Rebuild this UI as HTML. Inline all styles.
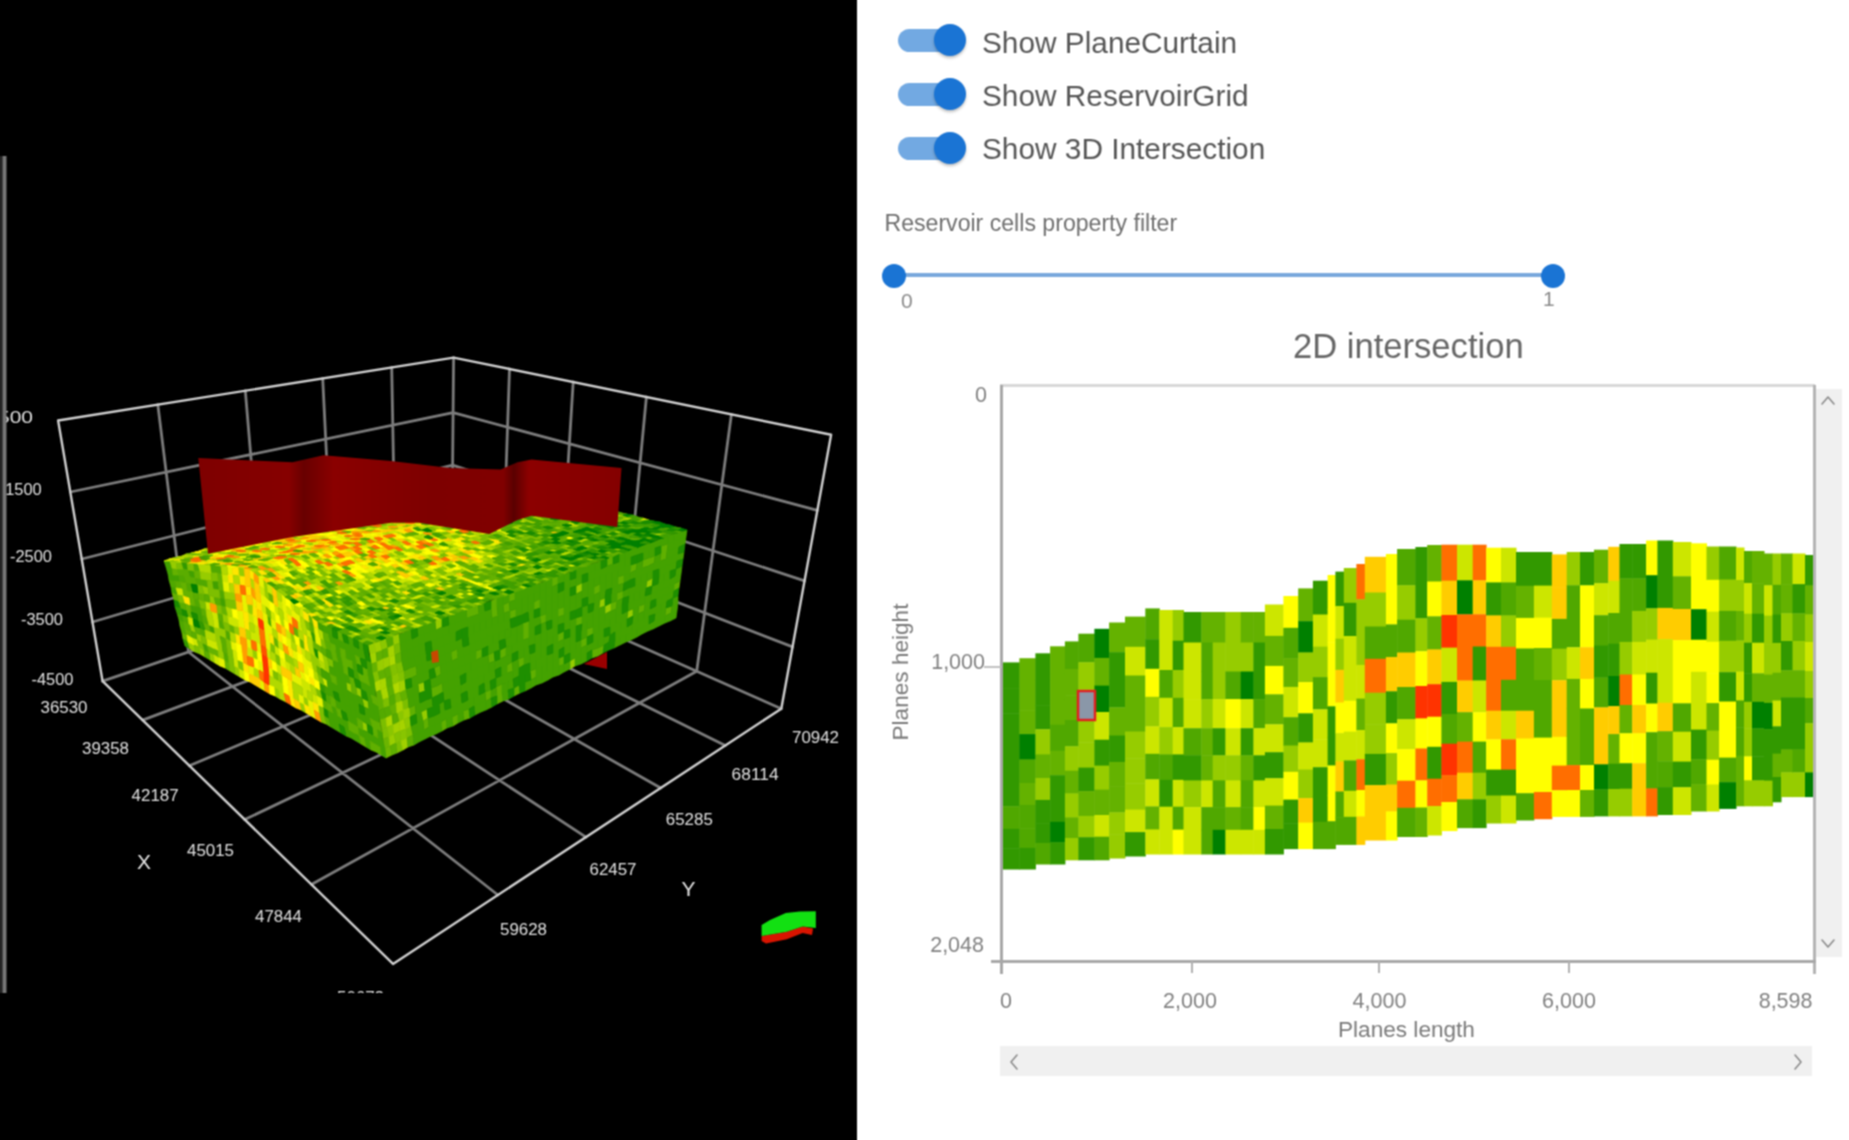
<!DOCTYPE html>
<html><head><meta charset="utf-8"><style>
*{margin:0;padding:0;box-sizing:border-box}
html,body{width:1849px;height:1140px;overflow:hidden;background:#fff;font-family:"Liberation Sans",Arial,sans-serif}
#p3d{position:absolute;left:0;top:0}
.l3{font-family:"Liberation Sans",sans-serif;font-size:17px;fill:#e2e2e2}
.ax3{font-family:"Liberation Sans",sans-serif;font-size:21px;fill:#e6e6e6}
.abs{position:absolute;white-space:nowrap}
.track{position:absolute;left:898px;width:58px;height:23px;border-radius:12px;background:#72a9e2}
.thumb{position:absolute;left:934px;width:32px;height:32px;border-radius:50%;background:#1a74d4;box-shadow:0 2px 3px rgba(0,0,0,.25)}
.tl{position:absolute;left:982px;font-size:29.8px;color:#555;line-height:1}
.sth{position:absolute;width:24px;height:24px;border-radius:50%;background:#1a74d4}
.tick{position:absolute;font-size:21.5px;color:#808080;line-height:1}
#wrap{position:absolute;left:0;top:0;width:1849px;height:1140px;background:#fff;filter:url(#cb)}
</style></head><body><svg width="0" height="0" style="position:absolute;left:0;top:0"><filter id="cb" x="0" y="0" width="100%" height="100%" color-interpolation-filters="sRGB"><feConvolveMatrix order="3" kernelMatrix="1 2 1 2 4 2 1 2 1" divisor="16" edgeMode="duplicate"/></filter></svg><div id="wrap">
<svg id="p3d" width="857" height="1140" viewBox="0 0 857 1140"><rect width="857" height="1140" fill="#000"/><rect x="0" y="156" width="2.5" height="837" fill="#232323"/><defs><clipPath id="cv"><rect x="6" y="156" width="851" height="837"/></clipPath><linearGradient id="cur" x1="198" y1="0" x2="622" y2="0" gradientUnits="userSpaceOnUse"><stop offset="0" stop-color="#7e0000"/><stop offset="0.215" stop-color="#860000"/><stop offset="0.25" stop-color="#680000"/><stop offset="0.32" stop-color="#8a0000"/><stop offset="0.55" stop-color="#7e0000"/><stop offset="0.72" stop-color="#800000"/><stop offset="0.745" stop-color="#5a0000"/><stop offset="0.78" stop-color="#8c0000"/><stop offset="1" stop-color="#840000"/></linearGradient></defs><g clip-path="url(#cv)"><path d="M188.5,652L157.8,404.6M502.2,585.2L509.5,369M142.6,720.1L502.2,585.2M188.5,652L497.9,895M265.1,626.1L245.3,390.7M559,610.3L573.2,382M189.3,765.7L559,610.3M265.1,626.1L585.9,837.2M333.8,602.8L322.7,378.4M623.3,638.8L646.4,397M244.7,819.6L623.3,638.8M333.8,602.8L660.7,788M395.7,581.8L391.7,367.4M696.7,671.3L731.4,414.4M311.4,884.4L696.7,671.3M395.7,581.8L725.2,745.6M451.7,562.8L453.6,357.6M102.6,681.2L451.7,562.8M451.7,562.8L781.3,708.7M92.5,622L452.2,515.1M452.2,515.1L792.6,646.9M81.8,559L452.6,465.1M452.6,465.1L804.6,580.9M70.3,492L453.1,412.6M453.1,412.6L817.4,510.4" stroke="#7c7c7c" stroke-width="2.8" fill="none" stroke-linecap="round"/><path d="M58.1,420.5L453.6,357.6M453.6,357.6L831.1,434.8M102.6,681.2L58.1,420.5M781.3,708.7L831.1,434.8M102.6,681.2L393,963.9M393,963.9L781.3,708.7" stroke="#d0d0d0" stroke-width="2.4" fill="none" stroke-linecap="round" stroke-linejoin="round"/><path fill="#96cc00" stroke="#96cc00" stroke-width="0.7" d="M368 645L374 643L376 652L370 654ZM418 684L424 682L425 691L419 693ZM421 712L427 709L428 718L423 721ZM435 621L442 618L442 627L436 630ZM570 661L575 658L575 666L570 669ZM576 586L582 583L582 591L576 594ZM600 600L605 598L605 606L599 608ZM605 606L611 603L611 611L605 614ZM628 611L633 609L633 616L627 619ZM647 581L653 578L652 586L646 588Z"/><path fill="#a1d200" stroke="#a1d200" stroke-width="0.7" d="M370 654L376 652L377 662L371 664Z"/><path fill="#64b200" stroke="#64b200" stroke-width="0.7" d="M371 664L377 662L378 671L372 673Z"/><path fill="#82c200" stroke="#82c200" stroke-width="0.7" d="M372 673L378 671L380 680L374 683ZM398 673L404 671L405 680L399 682Z"/><path fill="#b0d800" stroke="#b0d800" stroke-width="0.7" d="M374 683L380 680L381 690L376 692Z"/><path fill="#60b000" stroke="#60b000" stroke-width="0.7" d="M376 692L381 690L383 699L377 702ZM377 702L383 699L384 708L378 711ZM376 652L382 650L383 659L377 662ZM378 671L384 669L386 678L380 680ZM404 671L410 668L411 678L405 680ZM409 708L415 705L416 714L410 717ZM410 668L416 666L417 675L411 678ZM423 721L428 718L429 727L424 730ZM431 688L437 686L438 695L432 698ZM434 668L440 665L441 674L436 677ZM437 686L442 683L443 692L438 695ZM441 722L446 719L447 728L442 731ZM452 717L458 714L458 723L453 726ZM451 652L457 649L458 658L452 661ZM463 711L469 709L470 718L464 720ZM466 609L472 607L473 616L467 618ZM472 607L478 605L479 614L473 616ZM476 651L482 649L482 657L476 660ZM485 692L491 690L491 698L486 701ZM488 655L494 652L495 661L489 663ZM491 601L497 598L497 607L491 609ZM491 609L497 607L498 616L492 618ZM496 687L502 684L502 693L497 696ZM497 696L502 693L503 701L497 704ZM500 650L506 647L506 656L500 659ZM503 605L509 602L510 611L504 613ZM507 665L512 662L513 671L507 673ZM509 594L515 592L515 600L509 602ZM510 611L516 609L516 617L510 619ZM514 688L519 685L520 693L514 696ZM518 659L524 657L524 665L519 668ZM523 623L529 621L529 629L523 632ZM523 632L529 629L529 638L523 640ZM530 671L536 669L536 677L531 680ZM534 602L540 599L540 608L534 610ZM540 616L546 614L546 622L541 624ZM552 578L558 576L558 584L552 587ZM558 609L564 607L564 615L558 617ZM558 634L564 631L564 639L558 642ZM559 658L564 656L564 664L559 666ZM576 618L582 616L582 624L576 626ZM581 640L587 637L587 645L581 648ZM587 629L593 627L593 634L587 637ZM594 587L600 584L600 592L594 595ZM592 650L598 648L598 656L592 658ZM598 648L604 645L603 653L598 656ZM607 558L613 556L613 564L607 566ZM611 603L617 601L616 609L611 611ZM618 577L624 575L624 583L618 585ZM617 593L623 591L623 598L617 601ZM631 565L637 563L636 570L630 573ZM643 560L649 558L648 566L642 568ZM639 606L645 604L644 611L638 614ZM649 558L655 556L654 563L648 566ZM661 546L668 544L667 551L661 553ZM661 553L667 551L666 559L660 561ZM666 608L672 606L671 613L665 616ZM674 584L680 581L679 588L674 591Z"/><path fill="#54aa00" stroke="#54aa00" stroke-width="0.7" d="M378 711L384 708L386 718L380 720Z"/><path fill="#7bbe00" stroke="#7bbe00" stroke-width="0.7" d="M380 720L386 718L387 727L382 730ZM396 743L401 741L403 750L397 753ZM402 701L408 698L409 708L403 710Z"/><path fill="#7dbf00" stroke="#7dbf00" stroke-width="0.7" d="M382 730L387 727L389 737L383 739ZM383 699L389 697L390 706L384 708ZM406 729L411 726L413 735L407 738Z"/><path fill="#6bb500" stroke="#6bb500" stroke-width="0.7" d="M383 739L389 737L390 746L384 749Z"/><path fill="#6eb700" stroke="#6eb700" stroke-width="0.7" d="M384 749L390 746L392 755L386 758Z"/><path fill="#9fd000" stroke="#9fd000" stroke-width="0.7" d="M374 643L380 641L382 650L376 652Z"/><path fill="#98cd00" stroke="#98cd00" stroke-width="0.7" d="M377 662L383 659L384 669L378 671Z"/><path fill="#a9d500" stroke="#a9d500" stroke-width="0.7" d="M380 680L386 678L387 687L381 690Z"/><path fill="#aad600" stroke="#aad600" stroke-width="0.7" d="M381 690L387 687L389 697L383 699Z"/><path fill="#55ab00" stroke="#55ab00" stroke-width="0.7" d="M384 708L390 706L392 715L386 718Z"/><path fill="#acd700" stroke="#acd700" stroke-width="0.7" d="M386 718L392 715L393 725L387 727ZM389 657L395 655L396 664L390 666Z"/><path fill="#8ac600" stroke="#8ac600" stroke-width="0.7" d="M387 727L393 725L394 734L389 737ZM397 713L403 710L404 719L399 722Z"/><path fill="#99ce00" stroke="#99ce00" stroke-width="0.7" d="M389 737L394 734L396 743L390 746Z"/><path fill="#5faf00" stroke="#5faf00" stroke-width="0.7" d="M390 746L396 743L397 753L392 755Z"/><path fill="#8cc700" stroke="#8cc700" stroke-width="0.7" d="M380 641L386 638L388 648L382 650Z"/><path fill="#5bae00" stroke="#5bae00" stroke-width="0.7" d="M382 650L388 648L389 657L383 659Z"/><path fill="#9dcf00" stroke="#9dcf00" stroke-width="0.7" d="M383 659L389 657L390 666L384 669Z"/><path fill="#5eaf00" stroke="#5eaf00" stroke-width="0.7" d="M384 669L390 666L392 676L386 678Z"/><path fill="#5aad00" stroke="#5aad00" stroke-width="0.7" d="M386 678L392 676L393 685L387 687Z"/><path fill="#5daf00" stroke="#5daf00" stroke-width="0.7" d="M387 687L393 685L395 694L389 697Z"/><path fill="#53aa00" stroke="#53aa00" stroke-width="0.7" d="M389 697L395 694L396 703L390 706Z"/><path fill="#62b100" stroke="#62b100" stroke-width="0.7" d="M390 706L396 703L397 713L392 715Z"/><path fill="#57ab00" stroke="#57ab00" stroke-width="0.7" d="M392 715L397 713L399 722L393 725Z"/><path fill="#a2d200" stroke="#a2d200" stroke-width="0.7" d="M393 725L399 722L400 731L394 734Z"/><path fill="#84c300" stroke="#84c300" stroke-width="0.7" d="M394 734L400 731L401 741L396 743Z"/><path fill="#52a900" stroke="#52a900" stroke-width="0.7" d="M386 638L393 636L394 645L388 648Z"/><path fill="#a5d300" stroke="#a5d300" stroke-width="0.7" d="M388 648L394 645L395 655L389 657Z"/><path fill="#82c100" stroke="#82c100" stroke-width="0.7" d="M390 666L396 664L398 673L392 676Z"/><path fill="#8dc700" stroke="#8dc700" stroke-width="0.7" d="M392 676L398 673L399 682L393 685Z"/><path fill="#b1d900" stroke="#b1d900" stroke-width="0.7" d="M393 685L399 682L400 692L395 694Z"/><path fill="#76bb00" stroke="#76bb00" stroke-width="0.7" d="M395 694L400 692L402 701L396 703Z"/><path fill="#a4d300" stroke="#a4d300" stroke-width="0.7" d="M396 703L402 701L403 710L397 713Z"/><path fill="#a6d300" stroke="#a6d300" stroke-width="0.7" d="M399 722L404 719L406 729L400 731Z"/><path fill="#88c500" stroke="#88c500" stroke-width="0.7" d="M400 731L406 729L407 738L401 741Z"/><path fill="#a0d100" stroke="#a0d100" stroke-width="0.7" d="M401 741L407 738L408 747L403 750Z"/><path fill="#95cb00" stroke="#95cb00" stroke-width="0.7" d="M393 636L399 634L400 643L394 645Z"/><path fill="#7abd00" stroke="#7abd00" stroke-width="0.7" d="M394 645L400 643L401 652L395 655Z"/><path fill="#63b200" stroke="#63b200" stroke-width="0.7" d="M395 655L401 652L402 662L396 664ZM400 692L406 689L408 698L402 701Z"/><path fill="#7ec000" stroke="#7ec000" stroke-width="0.7" d="M396 664L402 662L404 671L398 673Z"/><path fill="#a1d100" stroke="#a1d100" stroke-width="0.7" d="M399 682L405 680L406 689L400 692Z"/><path fill="#9bce00" stroke="#9bce00" stroke-width="0.7" d="M403 710L409 708L410 717L404 719Z"/><path fill="#90c900" stroke="#90c900" stroke-width="0.7" d="M404 719L410 717L411 726L406 729Z"/><path fill="#5cae00" stroke="#5cae00" stroke-width="0.7" d="M407 738L413 735L414 745L408 747Z"/><path fill="#44a200" stroke="#44a200" stroke-width="0.7" d="M399 634L405 632L406 641L400 643ZM400 643L406 641L407 650L401 652ZM401 652L407 650L408 659L402 662ZM402 662L408 659L410 668L404 671ZM406 689L412 687L413 696L408 698ZM408 698L413 696L415 705L409 708ZM411 726L417 723L418 733L413 735ZM413 735L418 733L419 742L414 745ZM405 632L411 629L412 639L406 641ZM406 641L412 639L413 648L407 650ZM407 650L413 648L414 657L408 659ZM408 659L414 657L416 666L410 668ZM411 678L417 675L418 684L412 687ZM412 687L418 684L419 693L413 696ZM413 696L419 693L420 703L415 705ZM415 705L420 703L421 712L416 714ZM416 714L421 712L423 721L417 723ZM417 723L423 721L424 730L418 733ZM418 733L424 730L425 739L419 742ZM412 639L418 636L419 645L413 648ZM413 648L419 645L420 655L414 657ZM414 657L420 655L422 664L416 666ZM416 666L422 664L423 673L417 675ZM417 675L423 673L424 682L418 684ZM420 703L426 700L427 709L421 712ZM424 730L429 727L431 736L425 739ZM417 627L423 625L424 634L418 636ZM418 636L424 634L425 643L419 645ZM419 645L425 643L426 652L420 655ZM420 655L426 652L427 661L422 664ZM422 664L427 661L429 670L423 673ZM423 673L429 670L430 679L424 682ZM426 700L432 698L433 707L427 709ZM428 718L434 716L435 725L429 727ZM429 727L435 725L436 734L431 736ZM423 625L429 623L430 632L424 634ZM424 634L430 632L431 641L425 643ZM427 661L433 659L434 668L429 670ZM430 679L436 677L437 686L431 688ZM434 716L440 713L441 722L435 725ZM435 725L441 722L442 731L436 734ZM429 623L435 621L436 630L430 632ZM430 632L436 630L437 639L431 641ZM431 641L437 639L438 648L432 650ZM432 650L438 648L439 657L433 659ZM433 659L439 657L440 665L434 668ZM436 677L441 674L442 683L437 686ZM439 704L444 701L445 710L440 713ZM440 713L445 710L446 719L441 722ZM436 630L442 627L443 636L437 639ZM437 639L443 636L444 645L438 648ZM438 648L444 645L445 654L439 657ZM439 657L445 654L446 663L440 665ZM440 665L446 663L447 672L441 674ZM441 674L447 672L448 681L442 683ZM442 683L448 681L449 690L443 692ZM443 692L449 690L450 699L444 701ZM445 710L451 708L452 717L446 719ZM446 719L452 717L453 726L447 728ZM442 627L449 625L449 634L443 636ZM443 636L449 634L450 643L444 645ZM444 645L450 643L451 652L445 654ZM445 654L451 652L452 661L446 663ZM446 663L452 661L453 670L447 672ZM447 672L453 670L454 678L448 681ZM448 681L454 678L455 687L449 690ZM449 690L455 687L456 696L450 699ZM450 699L456 696L457 705L451 708ZM451 708L457 705L458 714L452 717ZM448 616L454 614L455 623L449 625ZM449 625L455 623L456 632L449 634ZM449 634L456 632L456 641L450 643ZM450 643L456 641L457 649L451 652ZM452 661L458 658L459 667L453 670ZM453 670L459 667L460 676L454 678ZM454 678L460 676L461 685L455 687ZM455 687L461 685L461 694L456 696ZM456 696L461 694L462 703L457 705ZM457 705L462 703L463 711L458 714ZM458 714L463 711L464 720L458 723ZM454 614L460 612L461 621L455 623ZM455 623L461 621L462 629L456 632ZM456 641L462 638L463 647L457 649ZM457 649L463 647L464 656L458 658ZM458 658L464 656L465 665L459 667ZM459 667L465 665L466 673L460 676ZM461 685L466 682L467 691L461 694ZM462 703L468 700L469 709L463 711ZM460 612L466 609L467 618L461 621ZM461 621L467 618L468 627L462 629ZM463 647L469 645L470 653L464 656ZM464 656L470 653L471 662L465 665ZM465 665L471 662L471 671L466 673ZM466 673L471 671L472 680L466 682ZM466 682L472 680L473 689L467 691ZM467 691L473 689L474 697L468 700ZM468 700L474 697L474 706L469 709ZM467 618L473 616L474 625L468 627ZM468 627L474 625L474 633L468 636ZM468 636L474 633L475 642L469 645ZM469 645L475 642L476 651L470 653ZM470 653L476 651L476 660L471 662ZM471 662L476 660L477 668L471 671ZM471 671L477 668L478 677L472 680ZM472 680L478 677L479 686L473 689ZM473 689L479 686L479 695L474 697ZM474 697L479 695L480 703L474 706ZM474 706L480 703L481 712L475 715ZM473 616L479 614L480 622L474 625ZM474 625L480 622L480 631L474 633ZM474 633L480 631L481 640L475 642ZM475 642L481 640L482 649L476 651ZM476 660L482 657L483 666L477 668ZM477 668L483 666L484 675L478 677ZM478 677L484 675L484 683L479 686ZM479 695L485 692L486 701L480 703ZM480 703L486 701L486 710L481 712ZM478 605L484 603L485 611L479 614ZM479 614L485 611L486 620L480 622ZM480 622L486 620L486 629L480 631ZM480 631L486 629L487 637L481 640ZM481 640L487 637L488 646L482 649ZM482 657L488 655L489 663L483 666ZM483 666L489 663L489 672L484 675ZM484 675L489 672L490 681L484 683ZM484 683L490 681L491 690L485 692ZM486 701L491 698L492 707L486 710ZM485 611L491 609L492 618L486 620ZM486 620L492 618L492 626L486 629ZM486 629L492 626L493 635L487 637ZM487 637L493 635L493 644L488 646ZM488 646L493 644L494 652L488 655ZM489 663L495 661L495 670L489 672ZM489 672L495 670L496 678L490 681ZM491 690L496 687L497 696L491 698ZM492 618L498 616L498 624L492 626ZM492 626L498 624L499 633L493 635ZM493 635L499 633L499 641L493 644ZM493 644L499 641L500 650L494 652ZM495 661L500 659L501 667L495 670ZM496 678L501 676L502 684L496 687ZM497 598L503 596L503 605L497 607ZM497 607L503 605L504 613L498 616ZM498 616L504 613L504 622L498 624ZM498 624L504 622L505 630L499 633ZM499 633L505 630L505 639L499 641ZM500 659L506 656L507 665L501 667ZM501 667L507 665L507 673L501 676ZM501 676L507 673L508 682L502 684ZM502 684L508 682L508 690L502 693ZM502 693L508 690L509 699L503 701ZM503 596L509 594L509 602L503 605ZM504 613L510 611L510 619L504 622ZM504 622L510 619L511 628L505 630ZM505 630L511 628L511 636L505 639ZM505 639L511 636L512 645L506 647ZM506 647L512 645L512 654L506 656ZM506 656L512 654L512 662L507 665ZM507 673L513 671L513 679L508 682ZM508 682L513 679L514 688L508 690ZM509 602L515 600L516 609L510 611ZM511 628L517 626L517 634L511 636ZM511 636L517 634L517 643L512 645ZM512 645L517 643L518 651L512 654ZM512 662L518 659L519 668L513 671ZM513 671L519 668L519 676L513 679ZM515 592L521 589L522 598L515 600ZM515 600L522 598L522 606L516 609ZM516 609L522 606L522 615L516 617ZM517 626L523 623L523 632L517 634ZM517 634L523 632L523 640L517 643ZM517 643L523 640L524 649L518 651ZM518 651L524 649L524 657L518 659ZM521 589L527 587L528 596L522 598ZM522 598L528 596L528 604L522 606ZM522 606L528 604L528 612L522 615ZM523 640L529 638L529 646L524 649ZM524 649L529 646L530 654L524 657ZM524 657L530 654L530 663L524 665ZM525 682L531 680L531 688L525 691ZM527 587L533 585L534 593L528 596ZM528 596L534 593L534 602L528 604ZM528 604L534 602L534 610L528 612ZM528 612L534 610L534 618L529 621ZM529 621L534 618L535 627L529 629ZM529 629L535 627L535 635L529 638ZM529 638L535 635L535 644L529 646ZM530 654L535 652L536 660L530 663ZM530 663L536 660L536 669L530 671ZM531 680L536 677L536 685L531 688ZM533 585L540 583L540 591L534 593ZM534 593L540 591L540 599L534 602ZM534 618L540 616L541 624L535 627ZM535 635L541 633L541 641L535 644ZM535 644L541 641L541 649L535 652ZM535 652L541 649L541 658L536 660ZM536 660L541 658L542 666L536 669ZM536 669L542 666L542 674L536 677ZM536 677L542 674L542 683L536 685ZM540 583L546 581L546 589L540 591ZM540 591L546 589L546 597L540 599ZM540 599L546 597L546 605L540 608ZM540 608L546 605L546 614L540 616ZM541 624L546 622L547 630L541 633ZM541 633L547 630L547 639L541 641ZM541 641L547 639L547 647L541 649ZM541 649L547 647L547 655L541 658ZM541 658L547 655L547 663L542 666ZM542 666L547 663L547 672L542 674ZM542 674L547 672L548 680L542 683ZM546 581L552 578L552 587L546 589ZM546 589L552 587L552 595L546 597ZM546 597L552 595L552 603L546 605ZM546 605L552 603L552 611L546 614ZM546 614L552 611L552 620L546 622ZM547 630L552 628L553 636L547 639ZM547 639L553 636L553 644L547 647ZM547 655L553 653L553 661L547 663ZM547 663L553 661L553 669L547 672ZM547 672L553 669L553 677L548 680ZM552 587L558 584L558 593L552 595ZM552 595L558 593L558 601L552 603ZM552 603L558 601L558 609L552 611ZM552 611L558 609L558 617L552 620ZM552 620L558 617L558 625L552 628ZM552 628L558 625L558 634L553 636ZM553 636L558 634L558 642L553 644ZM553 644L558 642L559 650L553 653ZM553 653L559 650L559 658L553 661ZM553 661L559 658L559 666L553 669ZM553 669L559 666L559 675L553 677ZM558 576L564 574L564 582L558 584ZM558 593L564 590L564 598L558 601ZM558 601L564 598L564 607L558 609ZM558 617L564 615L564 623L558 625ZM558 642L564 639L564 647L559 650ZM559 666L564 664L564 672L559 675ZM564 574L570 572L570 580L564 582ZM564 582L570 580L570 588L564 590ZM564 590L570 588L570 596L564 598ZM564 598L570 596L570 604L564 607ZM564 607L570 604L570 612L564 615ZM564 615L570 612L570 620L564 623ZM564 623L570 620L570 629L564 631ZM564 639L570 637L570 645L564 647ZM564 647L570 645L570 653L564 656ZM564 664L570 661L570 669L564 672ZM570 580L576 578L576 586L570 588ZM570 596L576 594L576 602L570 604ZM570 604L576 602L576 610L570 612ZM570 620L576 618L576 626L570 629ZM570 629L576 626L576 634L570 637ZM570 637L576 634L576 642L570 645ZM570 645L576 642L576 650L570 653ZM570 653L576 650L575 658L570 661ZM576 569L583 567L582 575L576 578ZM576 578L582 575L582 583L576 586ZM576 594L582 591L582 599L576 602ZM576 602L582 599L582 607L576 610ZM576 642L581 640L581 648L576 650ZM576 650L581 648L581 656L575 658ZM575 658L581 656L581 664L575 666ZM583 567L589 565L588 573L582 575ZM582 583L588 581L588 589L582 591ZM582 591L588 589L588 597L582 599ZM582 607L588 605L588 613L582 616ZM582 616L588 613L587 621L582 624ZM582 624L587 621L587 629L581 632ZM581 632L587 629L587 637L581 640ZM581 648L587 645L587 653L581 656ZM581 656L587 653L587 661L581 664ZM589 565L595 563L595 571L588 573ZM588 573L595 571L594 579L588 581ZM588 581L594 579L594 587L588 589ZM588 589L594 587L594 595L588 597ZM588 597L594 595L594 603L588 605ZM588 613L593 611L593 619L587 621ZM587 621L593 619L593 627L587 629ZM587 645L593 642L592 650L587 653ZM595 563L601 561L601 569L595 571ZM595 571L601 569L600 576L594 579ZM594 579L600 576L600 584L594 587ZM594 595L600 592L600 600L594 603ZM594 603L600 600L599 608L593 611ZM593 611L599 608L599 616L593 619ZM593 619L599 616L599 624L593 627ZM593 627L599 624L599 632L593 634ZM593 634L599 632L598 640L593 642ZM593 642L598 640L598 648L592 650ZM601 569L607 566L606 574L600 576ZM600 576L606 574L606 582L600 584ZM600 584L606 582L606 590L600 592ZM600 592L606 590L605 598L600 600ZM599 608L605 606L605 614L599 616ZM599 616L605 614L605 621L599 624ZM599 624L605 621L604 629L599 632ZM599 632L604 629L604 637L598 640ZM598 640L604 637L604 645L598 648ZM607 566L613 564L612 572L606 574ZM606 574L612 572L612 580L606 582ZM606 582L612 580L612 588L606 590ZM605 614L611 611L610 619L605 621ZM605 621L610 619L610 627L604 629ZM604 637L610 635L609 642L604 645ZM613 564L619 562L618 570L612 572ZM612 572L618 570L618 577L612 580ZM612 580L618 577L618 585L612 588ZM612 588L618 585L617 593L611 595ZM611 595L617 593L617 601L611 603ZM611 611L616 609L616 616L610 619ZM610 619L616 616L616 624L610 627ZM610 627L616 624L615 632L610 635ZM619 554L625 552L625 559L619 562ZM619 562L625 559L625 567L618 570ZM618 570L625 567L624 575L618 577ZM618 585L624 583L623 591L617 593ZM617 601L623 598L622 606L616 609ZM616 609L622 606L622 614L616 616ZM616 616L622 614L621 622L616 624ZM616 624L621 622L621 629L615 632ZM615 632L621 629L620 637L615 640ZM615 640L620 637L620 645L614 648ZM625 552L632 549L631 557L625 559ZM625 559L631 557L631 565L625 567ZM625 567L631 565L630 573L624 575ZM624 575L630 573L630 580L624 583ZM623 591L629 588L629 596L623 598ZM622 614L628 611L627 619L621 622ZM621 622L627 619L627 627L621 629ZM621 629L627 627L626 635L620 637ZM620 637L626 635L626 642L620 645ZM632 549L638 547L637 555L631 557ZM630 573L636 570L635 578L630 580ZM629 588L635 586L634 593L629 596ZM629 596L634 593L634 601L628 604ZM628 604L634 601L633 609L628 611ZM627 627L632 624L632 632L626 635ZM626 635L632 632L631 640L626 642ZM638 547L644 545L643 553L637 555ZM637 563L643 560L642 568L636 570ZM636 570L642 568L641 576L635 578ZM635 578L641 576L641 583L635 586ZM635 586L641 583L640 591L634 593ZM634 593L640 591L640 599L634 601ZM634 601L640 599L639 606L633 609ZM633 609L639 606L638 614L633 616ZM633 616L638 614L638 622L632 624ZM632 624L638 622L637 629L632 632ZM632 632L637 629L637 637L631 640ZM644 545L650 543L649 550L643 553ZM643 553L649 550L649 558L643 560ZM642 568L648 566L647 573L641 576ZM641 576L647 573L647 581L641 583ZM641 583L647 581L646 588L640 591ZM640 591L646 588L645 596L640 599ZM640 599L645 596L645 604L639 606ZM638 614L644 611L644 619L638 622ZM638 622L644 619L643 627L637 629ZM637 629L643 627L642 634L637 637ZM650 543L656 541L655 548L649 550ZM649 550L655 548L655 556L649 558ZM648 566L654 563L653 571L647 573ZM647 573L653 571L653 578L647 581ZM645 596L651 594L651 601L645 604ZM645 604L651 601L650 609L644 611ZM644 611L650 609L649 616L644 619ZM644 619L649 616L649 624L643 627ZM643 627L649 624L648 631L642 634ZM656 541L662 538L661 546L655 548ZM655 556L661 553L660 561L654 563ZM654 563L660 561L659 569L653 571ZM652 586L658 584L657 591L651 594ZM651 594L657 591L656 599L651 601ZM650 609L656 606L655 614L649 616ZM649 624L654 621L653 629L648 631ZM662 538L668 536L668 544L661 546ZM660 561L666 559L665 566L659 569ZM659 569L665 566L664 574L659 576ZM659 576L664 574L664 581L658 584ZM658 584L664 581L663 589L657 591ZM657 591L663 589L662 596L656 599ZM656 599L662 596L661 604L656 606ZM656 606L661 604L661 611L655 614ZM655 614L661 611L660 619L654 621ZM654 621L660 619L659 626L653 629ZM668 536L674 534L674 541L668 544ZM668 544L674 541L673 549L667 551ZM667 551L673 549L672 556L666 559ZM666 559L672 556L671 564L665 566ZM665 566L671 564L670 571L664 574ZM664 574L670 571L670 579L664 581ZM664 581L670 579L669 586L663 589ZM663 589L669 586L668 594L662 596ZM662 596L668 594L667 601L661 604ZM661 604L667 601L666 608L661 611ZM661 611L666 608L665 616L660 619ZM660 619L665 616L665 623L659 626ZM674 534L681 532L680 539L674 541ZM674 541L680 539L679 547L673 549ZM673 549L679 547L678 554L672 556ZM672 556L678 554L677 561L671 564ZM671 564L677 561L676 569L670 571ZM670 579L675 576L674 584L669 586ZM669 586L674 584L674 591L668 594ZM668 594L674 591L673 598L667 601ZM665 616L671 613L670 621L665 623ZM681 532L687 530L686 537L680 539ZM680 539L686 537L685 544L679 547ZM678 554L684 552L683 559L677 561ZM676 569L682 566L681 574L675 576ZM675 576L681 574L680 581L674 584ZM673 598L678 596L678 603L672 606ZM672 606L678 603L677 611L671 613ZM671 613L677 611L676 618L670 621Z"/><path fill="#1e8f00" stroke="#1e8f00" stroke-width="0.7" d="M405 680L411 678L412 687L406 689ZM410 717L416 714L417 723L411 726ZM411 629L417 627L418 636L412 639ZM419 693L425 691L426 700L420 703ZM424 682L430 679L431 688L425 691ZM425 691L431 688L432 698L426 700ZM427 709L433 707L434 716L428 718ZM425 643L431 641L432 650L426 652ZM426 652L432 650L433 659L427 661ZM429 670L434 668L436 677L430 679ZM432 698L438 695L439 704L433 707ZM433 707L439 704L440 713L434 716ZM438 695L443 692L444 701L439 704ZM444 701L450 699L451 708L445 710ZM442 618L448 616L449 625L442 627ZM456 632L462 629L462 638L456 641ZM460 676L466 673L466 682L461 685ZM461 694L467 691L468 700L462 703ZM462 629L468 627L468 636L462 638ZM462 638L468 636L469 645L463 647ZM469 709L474 706L475 715L470 718ZM479 686L484 683L485 692L479 695ZM482 649L488 646L488 655L482 657ZM484 603L491 601L491 609L485 611ZM490 681L496 678L496 687L491 690ZM491 698L497 696L497 704L492 707ZM494 652L500 650L500 659L495 661ZM495 670L501 667L501 676L496 678ZM499 641L505 639L506 647L500 650ZM508 690L514 688L514 696L509 699ZM510 619L516 617L517 626L511 628ZM512 654L518 651L518 659L512 662ZM513 679L519 676L519 685L514 688ZM516 617L522 615L523 623L517 626ZM519 668L524 665L525 674L519 676ZM519 676L525 674L525 682L519 685ZM519 685L525 682L525 691L520 693ZM522 615L528 612L529 621L523 623ZM524 665L530 663L530 671L525 674ZM525 674L530 671L531 680L525 682ZM529 646L535 644L535 652L530 654ZM534 610L540 608L540 616L534 618ZM535 627L541 624L541 633L535 635ZM546 622L552 620L552 628L547 630ZM547 647L553 644L553 653L547 655ZM558 584L564 582L564 590L558 593ZM558 625L564 623L564 631L558 634ZM559 650L564 647L564 656L559 658ZM564 631L570 629L570 637L564 639ZM564 656L570 653L570 661L564 664ZM570 572L576 569L576 578L570 580ZM570 588L576 586L576 594L570 596ZM570 612L576 610L576 618L570 620ZM576 610L582 607L582 616L576 618ZM576 626L582 624L581 632L576 634ZM576 634L581 632L581 640L576 642ZM582 575L588 573L588 581L582 583ZM582 599L588 597L588 605L582 607ZM588 605L594 603L593 611L588 613ZM587 637L593 634L593 642L587 645ZM587 653L592 650L592 658L587 661ZM601 561L607 558L607 566L601 569ZM606 590L612 588L611 595L605 598ZM605 598L611 595L611 603L605 606ZM604 629L610 627L610 635L604 637ZM604 645L609 642L609 650L603 653ZM613 556L619 554L619 562L613 564ZM610 635L615 632L615 640L609 642ZM609 642L615 640L614 648L609 650ZM624 583L630 580L629 588L623 591ZM623 598L629 596L628 604L622 606ZM622 606L628 604L628 611L622 614ZM631 557L637 555L637 563L631 565ZM630 580L635 578L635 586L629 588ZM627 619L633 616L632 624L627 627ZM637 555L643 553L643 560L637 563ZM646 588L652 586L651 594L645 596ZM655 548L661 546L661 553L655 556ZM653 571L659 569L659 576L653 578ZM653 578L659 576L658 584L652 586ZM651 601L656 599L656 606L650 609ZM649 616L655 614L654 621L649 624ZM670 571L676 569L675 576L670 579ZM667 601L673 598L672 606L666 608ZM679 547L685 544L684 552L678 554ZM677 561L683 559L682 566L676 569ZM674 591L679 588L678 596L673 598Z"/><path fill="#41a000" stroke="#41a000" stroke-width="0.7" d="M164 561L170 561L172 568L166 567ZM166 567L172 568L173 575L168 574ZM168 574L173 575L175 581L169 580ZM171 587L176 588L178 595L172 593ZM177 613L182 615L184 622L179 620ZM173 575L179 575L180 582L175 581ZM190 605L195 606L197 614L191 612ZM188 570L194 571L195 578L190 577ZM195 606L201 608L202 615L197 614ZM197 614L202 615L203 623L198 621ZM202 643L207 645L209 653L204 650ZM209 625L214 627L215 634L210 632ZM212 581L218 581L219 590L213 589ZM220 598L225 599L226 607L221 606ZM317 621L322 624L323 632L318 629Z"/><path fill="#50a800" stroke="#50a800" stroke-width="0.7" d="M169 580L175 581L176 588L171 587ZM179 620L184 622L185 629L180 626ZM180 626L185 629L187 635L182 633ZM182 615L188 617L189 624L184 622ZM179 575L184 576L186 583L180 582ZM186 583L191 584L193 592L187 591ZM194 599L199 600L201 608L195 606ZM200 628L205 630L206 638L201 635ZM193 563L198 564L200 571L194 571ZM195 578L201 579L202 586L197 585ZM202 615L207 617L209 625L203 623ZM201 579L207 580L208 588L202 586ZM210 565L215 565L217 573L211 573ZM218 620L223 622L225 630L219 628ZM223 652L228 655L229 663L224 660ZM215 565L221 566L222 574L217 573ZM219 590L224 591L225 599L220 598ZM225 630L230 632L231 641L226 639ZM267 615L271 619L272 628L268 624ZM325 693L330 696L331 705L326 702Z"/><path fill="#64b200" stroke="#64b200" stroke-width="0.7" d="M172 593L178 595L179 602L174 600ZM182 633L187 635L188 642L183 639ZM172 568L177 569L179 575L173 575ZM185 629L191 631L192 638L187 635ZM180 582L186 583L187 591L182 589ZM182 589L187 591L189 598L183 596ZM185 603L190 605L191 612L186 610ZM186 610L191 612L193 619L188 617ZM187 591L193 592L194 599L189 598ZM189 598L194 599L195 606L190 605ZM194 571L200 571L201 579L195 578ZM198 593L204 594L205 602L199 600ZM203 623L209 625L210 632L205 630ZM207 645L213 648L214 655L209 653ZM213 648L218 650L219 658L214 655ZM224 660L229 663L230 671L225 668ZM217 573L222 574L223 582L218 581ZM218 581L223 582L224 591L219 590ZM221 606L226 607L228 616L222 614ZM229 624L234 626L235 634L230 632ZM268 592L273 595L274 604L269 601ZM273 636L278 640L279 649L274 645ZM293 626L298 629L299 638L294 635ZM299 638L304 641L305 650L300 647ZM308 614L312 617L314 626L309 622ZM312 639L316 643L318 651L313 648ZM316 665L321 668L322 677L317 673ZM316 643L321 646L322 654L318 651Z"/><path fill="#198c00" stroke="#198c00" stroke-width="0.7" d="M174 600L179 602L181 608L175 607ZM181 608L186 610L188 617L182 615ZM191 612L197 614L198 621L193 619ZM313 648L318 651L319 660L315 656ZM320 690L325 693L326 702L322 699ZM323 707L328 710L329 719L324 716Z"/><path fill="#329900" stroke="#329900" stroke-width="0.7" d="M175 607L181 608L182 615L177 613ZM183 639L188 642L190 649L185 646ZM181 562L187 563L188 570L183 569ZM198 621L203 623L205 630L200 628ZM310 631L315 634L316 643L312 639ZM319 682L324 685L325 693L320 690Z"/><path fill="#96cc00" stroke="#96cc00" stroke-width="0.7" d="M170 561L176 562L177 569L172 568ZM188 642L194 645L195 652L190 649ZM189 624L194 626L196 633L191 631ZM196 633L201 635L202 643L197 640ZM199 647L204 650L205 657L200 654ZM209 653L214 655L215 663L210 660ZM200 571L205 572L207 580L201 579ZM202 586L208 588L209 595L204 594ZM205 572L211 573L212 581L207 580ZM209 595L214 597L216 605L210 603ZM214 627L219 628L220 636L215 634ZM215 634L220 636L222 644L216 642ZM216 642L222 644L223 652L218 650ZM218 650L223 652L224 660L219 658ZM219 628L225 630L226 639L220 636ZM222 614L228 616L229 624L223 622ZM224 591L230 592L231 600L225 599ZM234 666L239 668L240 677L235 674ZM230 592L235 593L236 601L231 600ZM234 626L239 627L240 636L235 634ZM238 567L244 568L245 577L239 576ZM247 604L253 605L253 615L248 613ZM252 649L257 651L258 660L253 658ZM263 579L267 583L268 592L264 588ZM264 588L268 592L269 601L265 597ZM274 687L279 690L280 699L275 696ZM277 672L282 675L283 684L278 681ZM284 652L289 655L290 664L285 661ZM289 655L293 658L295 667L290 664ZM290 632L294 635L296 644L291 640ZM299 702L304 704L306 713L301 710ZM303 696L308 699L309 707L304 704ZM310 653L315 656L316 665L311 662ZM311 662L316 665L317 673L313 670ZM315 656L319 660L321 668L316 665ZM322 654L327 657L329 666L324 663ZM324 663L329 666L330 674L325 671ZM346 682L351 684L352 693L347 690ZM356 687L361 689L362 698L357 695ZM362 721L367 724L368 732L363 730ZM362 698L368 701L369 709L364 707Z"/><path fill="#5aad00" stroke="#5aad00" stroke-width="0.7" d="M175 581L180 582L182 589L176 588ZM179 602L185 603L186 610L181 608ZM184 622L189 624L191 631L185 629ZM177 569L183 569L184 576L179 575ZM191 631L196 633L197 640L192 638ZM183 569L188 570L190 577L184 576ZM184 576L190 577L191 584L186 583ZM194 626L200 628L201 635L196 633ZM190 577L195 578L197 585L191 584ZM193 592L198 593L199 600L194 599ZM204 650L209 653L210 660L205 657ZM201 608L206 609L207 617L202 615ZM204 594L209 595L210 603L205 602ZM214 597L220 598L221 606L216 605ZM217 613L222 614L223 622L218 620ZM220 636L226 639L227 647L222 644ZM222 644L227 647L228 655L223 652ZM309 622L314 626L315 634L310 631ZM322 699L326 702L328 710L323 707ZM324 716L329 719L331 727L326 724ZM321 646L326 649L327 657L322 654ZM324 640L330 643L331 651L326 649Z"/><path fill="#cce600" stroke="#cce600" stroke-width="0.7" d="M176 588L182 589L183 596L178 595ZM188 617L193 619L194 626L189 624ZM192 638L197 640L199 647L194 645ZM206 638L211 640L213 648L207 645ZM205 602L210 603L211 611L206 609ZM211 640L216 642L218 650L213 648ZM214 655L219 658L220 666L215 663ZM211 611L217 613L218 620L213 619ZM213 619L218 620L219 628L214 627ZM222 574L228 575L229 583L223 582ZM228 616L233 617L234 626L229 624ZM232 649L237 651L238 660L233 657ZM233 657L238 660L239 668L234 666ZM233 617L238 619L239 627L234 626ZM239 668L244 671L245 680L240 677ZM247 647L252 649L253 658L247 656ZM248 613L253 615L254 624L249 622ZM250 631L255 633L256 642L251 640ZM254 624L259 627L260 636L255 633ZM255 633L260 636L261 645L256 642ZM259 585L264 588L265 597L260 594ZM261 603L266 606L267 615L262 612ZM266 648L270 651L271 660L267 657ZM267 583L272 586L273 595L268 592ZM270 610L275 613L276 622L271 619ZM274 645L279 649L280 657L275 654ZM276 663L281 666L282 675L277 672ZM274 604L278 607L279 616L275 613ZM278 640L283 643L284 652L279 649ZM277 599L282 602L283 611L278 607ZM285 661L290 664L291 672L286 669ZM285 628L290 632L291 640L286 637ZM286 605L291 609L292 617L287 614ZM290 600L294 604L295 612L291 609ZM301 678L306 681L307 690L302 687ZM302 687L307 690L308 699L303 696ZM297 621L301 624L303 633L298 629ZM300 647L305 650L306 659L302 655ZM306 681L310 684L312 693L307 690ZM299 607L303 610L304 619L300 616ZM312 693L317 696L318 705L313 702ZM306 628L310 631L312 639L307 636ZM318 651L322 654L324 663L319 660ZM322 677L327 680L328 688L324 685Z"/><path fill="#7dbf00" stroke="#7dbf00" stroke-width="0.7" d="M178 595L183 596L185 603L179 602ZM176 562L181 562L183 569L177 569ZM194 645L199 647L200 654L195 652ZM197 640L202 643L204 650L199 647ZM187 563L193 563L194 571L188 570ZM201 635L206 638L207 645L202 643ZM197 585L202 586L204 594L198 593ZM199 600L205 602L206 609L201 608ZM207 580L212 581L213 589L208 588ZM208 588L213 589L214 597L209 595ZM211 573L217 573L218 581L212 581ZM213 589L219 590L220 598L214 597ZM216 605L221 606L222 614L217 613ZM223 622L229 624L230 632L225 630ZM226 639L231 641L232 649L227 647ZM227 647L232 649L233 657L228 655ZM228 655L233 657L234 666L229 663ZM229 663L234 666L235 674L230 671ZM225 599L231 600L232 609L226 607ZM231 600L236 601L237 610L232 609ZM238 660L243 662L244 671L239 668ZM266 606L270 610L271 619L267 615ZM270 642L274 645L275 654L270 651ZM272 669L277 672L278 681L273 678ZM275 654L280 657L281 666L276 663ZM304 619L309 622L310 631L306 628ZM315 687L320 690L322 699L317 696ZM318 705L323 707L324 716L319 713ZM319 713L324 716L326 724L321 722ZM317 673L322 677L324 685L319 682ZM320 638L324 640L326 649L321 646ZM327 657L333 660L334 668L329 666Z"/><path fill="#e6f200" stroke="#e6f200" stroke-width="0.7" d="M187 635L192 638L194 645L188 642ZM219 658L224 660L225 668L220 666ZM223 582L229 583L230 592L224 591ZM231 641L236 643L237 651L232 649ZM227 566L232 567L233 575L228 575ZM237 610L243 611L244 620L238 619ZM238 619L244 620L245 629L239 627ZM241 594L246 595L247 604L242 603ZM242 603L247 604L248 613L243 611ZM246 638L251 640L252 649L247 647ZM248 665L254 667L254 676L249 674ZM252 596L256 600L257 609L253 605ZM253 615L258 618L259 627L254 624ZM256 642L261 645L262 654L257 651ZM258 660L263 663L264 673L259 670ZM260 679L264 682L265 691L260 688ZM258 576L263 579L264 588L259 585ZM260 594L265 597L266 606L261 603ZM262 612L267 615L268 624L263 621ZM263 621L268 624L269 633L264 630ZM264 630L269 633L270 642L265 639ZM265 639L270 642L270 651L266 648ZM268 666L272 669L273 678L269 675ZM265 597L269 601L270 610L266 606ZM268 624L272 628L273 636L269 633ZM271 619L276 622L277 631L272 628ZM280 657L285 661L286 669L281 666ZM281 593L285 597L286 605L282 602ZM282 602L286 605L287 614L283 611ZM283 611L287 614L289 623L284 620ZM286 637L291 640L292 649L287 646ZM291 672L296 675L297 684L292 681ZM292 649L297 652L298 661L293 658ZM296 675L301 678L302 687L297 684ZM298 693L303 696L304 704L299 702ZM291 609L295 612L297 621L292 617ZM299 670L304 673L306 681L301 678ZM295 612L300 616L301 624L297 621ZM302 655L306 659L308 667L303 664ZM303 664L308 667L309 676L304 673ZM308 699L313 702L314 710L309 707ZM309 707L314 710L316 719L311 716ZM306 659L311 662L313 670L308 667ZM317 696L322 699L323 707L318 705ZM314 626L318 629L320 638L315 634ZM315 634L320 638L321 646L316 643Z"/><path fill="#ffe600" stroke="#ffe600" stroke-width="0.7" d="M183 596L189 598L190 605L185 603ZM228 575L233 575L234 584L229 583ZM235 634L240 636L241 645L236 643ZM232 567L238 567L239 576L233 575ZM243 662L248 665L249 674L244 671ZM239 576L245 577L245 586L240 585ZM243 611L248 613L249 622L244 620ZM244 620L249 622L250 631L245 629ZM245 586L251 587L252 596L246 595ZM249 569L254 572L254 581L250 578ZM253 605L257 609L258 618L253 615ZM256 600L261 603L262 612L257 609ZM269 633L273 636L274 645L270 642ZM277 631L282 634L283 643L278 640ZM287 678L292 681L293 690L288 687ZM288 687L293 690L294 699L289 696ZM289 696L294 699L296 708L291 705ZM287 646L292 649L293 658L289 655ZM287 614L292 617L293 626L289 623ZM296 644L300 647L302 655L297 652ZM304 704L309 707L311 716L306 713ZM303 633L307 636L308 645L304 641ZM304 641L308 645L310 653L305 650ZM309 676L314 679L315 687L310 684ZM313 702L318 705L319 713L314 710ZM303 610L308 614L309 622L304 619ZM312 617L317 621L318 629L314 626Z"/><path fill="#008000" stroke="#008000" stroke-width="0.7" d="M193 619L198 621L200 628L194 626ZM191 584L197 585L198 593L193 592Z"/><path fill="#b1d900" stroke="#b1d900" stroke-width="0.7" d="M205 630L210 632L211 640L206 638ZM198 564L204 564L205 572L200 571ZM206 609L211 611L213 619L207 617ZM207 617L213 619L214 627L209 625ZM210 632L215 634L216 642L211 640ZM204 564L210 565L211 573L205 572ZM221 566L227 566L228 575L222 574ZM226 607L232 609L233 617L228 616ZM230 632L235 634L236 643L231 641ZM229 583L234 584L235 593L230 592ZM233 575L239 576L240 585L234 584ZM245 629L250 631L251 640L246 638ZM249 622L254 624L255 633L250 631ZM254 667L259 670L260 679L254 676ZM250 578L254 581L255 591L251 587ZM269 675L273 678L274 687L269 685ZM270 651L275 654L276 663L271 660ZM273 678L278 681L279 690L274 687ZM272 628L277 631L278 640L273 636ZM278 681L283 684L284 693L279 690ZM279 690L284 693L286 702L280 699ZM276 590L281 593L282 602L277 599ZM278 607L283 611L284 620L279 616ZM279 616L284 620L285 628L281 625ZM290 664L295 667L296 675L291 672ZM292 681L297 684L298 693L293 690ZM293 690L298 693L299 702L294 699ZM291 640L296 644L297 652L292 649ZM293 658L298 661L299 670L295 667ZM297 684L302 687L303 696L298 693ZM294 604L299 607L300 616L295 612ZM298 629L303 633L304 641L299 638ZM307 690L312 693L313 702L308 699ZM300 616L304 619L306 628L301 624ZM301 624L306 628L307 636L303 633ZM305 650L310 653L311 662L306 659ZM310 684L315 687L317 696L312 693ZM307 636L312 639L313 648L308 645ZM308 645L313 648L315 656L310 653ZM313 670L317 673L319 682L314 679ZM319 660L324 663L325 671L321 668ZM318 629L323 632L324 640L320 638Z"/><path fill="#ff9d00" stroke="#ff9d00" stroke-width="0.7" d="M210 603L216 605L217 613L211 611ZM235 593L241 594L242 603L236 601ZM240 636L246 638L247 647L241 645ZM241 645L247 647L247 656L242 654ZM242 654L247 656L248 665L243 662ZM251 587L255 591L256 600L252 596ZM254 572L258 576L259 585L254 581ZM264 682L269 685L270 694L265 691ZM276 622L281 625L282 634L277 631ZM283 643L287 646L289 655L284 652ZM314 710L319 713L321 722L316 719Z"/><path fill="#ffff00" stroke="#ffff00" stroke-width="0.7" d="M232 609L237 610L238 619L233 617ZM236 643L241 645L242 654L237 651ZM237 651L242 654L243 662L238 660ZM244 671L249 674L250 682L245 680ZM253 658L258 660L259 670L254 667ZM257 651L262 654L263 663L258 660ZM269 685L274 687L275 696L270 694ZM271 660L276 663L277 672L272 669ZM269 601L274 604L275 613L270 610ZM275 613L279 616L281 625L276 622ZM279 649L284 652L285 661L280 657ZM282 675L287 678L288 687L283 684ZM283 684L288 687L289 696L284 693ZM282 634L286 637L287 646L283 643ZM284 620L289 623L290 632L285 628ZM285 597L290 600L291 609L286 605ZM294 635L299 638L300 647L296 644ZM297 652L302 655L303 664L298 661ZM304 673L309 676L310 684L306 681ZM308 667L313 670L314 679L309 676ZM314 679L319 682L320 690L315 687Z"/><path fill="#ffcc00" stroke="#ffcc00" stroke-width="0.7" d="M234 584L240 585L241 594L235 593ZM236 601L242 603L243 611L237 610ZM239 627L245 629L246 638L240 636ZM249 674L254 676L255 685L250 682ZM244 568L249 569L250 578L245 577ZM245 577L250 578L251 587L245 586ZM246 595L252 596L253 605L247 604ZM254 676L260 679L260 688L255 685ZM254 581L259 585L260 594L255 591ZM255 591L260 594L261 603L256 600ZM257 609L262 612L263 621L258 618ZM267 657L271 660L272 669L268 666ZM272 586L276 590L277 599L273 595ZM273 595L277 599L278 607L274 604ZM281 666L286 669L287 678L282 675ZM281 625L285 628L286 637L282 634ZM286 669L291 672L292 681L287 678ZM294 699L299 702L301 710L296 708ZM295 667L299 670L301 678L296 675ZM298 661L303 664L304 673L299 670Z"/><path fill="#ff6e00" stroke="#ff6e00" stroke-width="0.7" d="M240 585L245 586L246 595L241 594ZM247 656L253 658L254 667L248 665ZM251 640L256 642L257 651L252 649ZM259 670L264 673L264 682L260 679ZM259 627L264 630L265 639L260 636ZM260 636L265 639L266 648L261 645ZM284 693L289 696L291 705L286 702ZM289 623L293 626L294 635L290 632ZM292 617L297 621L298 629L293 626Z"/><path fill="#ff3300" stroke="#ff3300" stroke-width="0.7" d="M258 618L263 621L264 630L259 627ZM262 654L267 657L268 666L263 663ZM263 663L268 666L269 675L264 673ZM264 673L269 675L269 685L264 682Z"/><path fill="#ff5000" stroke="#ff5000" stroke-width="0.7" d="M261 645L266 648L267 657L262 654Z"/><path fill="#44a200" stroke="#44a200" stroke-width="0.7" d="M321 668L325 671L327 680L322 677ZM324 685L328 688L330 696L325 693ZM328 710L333 713L334 722L329 719ZM329 719L334 722L336 730L331 727ZM325 671L330 674L332 682L327 680ZM327 680L332 682L333 691L328 688ZM328 688L333 691L335 699L330 696ZM331 705L336 708L338 716L333 713ZM333 713L338 716L339 724L334 722ZM334 722L339 724L341 733L336 730ZM322 624L327 626L328 634L323 632ZM326 649L331 651L333 660L327 657ZM329 666L334 668L336 677L330 674ZM332 682L337 685L338 693L333 691ZM335 699L340 702L341 710L336 708ZM338 716L343 719L344 727L339 724ZM327 626L332 628L333 637L328 634ZM328 634L333 637L335 645L330 643ZM333 660L338 662L339 671L334 668ZM334 668L339 671L341 679L336 677ZM336 677L341 679L342 688L337 685ZM337 685L342 688L344 696L338 693ZM338 693L344 696L345 705L340 702ZM340 702L345 705L346 713L341 710ZM343 719L348 721L349 730L344 727ZM344 727L349 730L351 738L346 736ZM333 637L338 639L340 648L335 645ZM335 645L340 648L341 656L336 654ZM336 654L341 656L343 665L338 662ZM338 662L343 665L344 673L339 671ZM339 671L344 673L346 682L341 679ZM341 679L346 682L347 690L342 688ZM342 688L347 690L349 699L344 696ZM344 696L349 699L350 707L345 705ZM345 705L350 707L352 716L346 713ZM346 713L352 716L353 724L348 721ZM349 730L354 733L356 741L351 738ZM338 639L344 642L345 650L340 648ZM344 673L349 676L351 684L346 682ZM347 690L352 693L354 701L349 699ZM349 699L354 701L355 710L350 707ZM350 707L355 710L357 718L352 716ZM352 716L357 718L358 727L353 724ZM354 733L359 735L361 744L356 741ZM344 642L349 644L350 653L345 650ZM345 650L350 653L352 661L346 659ZM352 693L357 695L359 704L354 701ZM354 701L359 704L360 713L355 710ZM355 710L360 713L362 721L357 718ZM358 727L363 730L364 738L359 735ZM347 635L353 638L354 646L349 644ZM349 644L354 646L355 655L350 653ZM350 653L355 655L357 664L352 661ZM352 661L357 664L358 672L353 670ZM353 670L358 672L360 681L354 678ZM357 695L362 698L364 707L359 704ZM360 713L365 715L367 724L362 721ZM363 730L368 732L370 741L364 738ZM364 738L370 741L371 750L366 747ZM354 646L359 649L360 658L355 655ZM360 681L365 683L366 692L361 689ZM364 707L369 709L370 718L365 715ZM365 715L370 718L372 727L367 724ZM368 732L373 735L375 744L370 741ZM358 640L363 643L364 651L359 649ZM359 649L364 651L366 660L360 658ZM365 683L370 686L371 695L366 692ZM366 692L371 695L373 703L368 701ZM368 701L373 703L374 712L369 709ZM369 709L374 712L375 721L370 718ZM373 735L378 738L380 747L375 744ZM366 660L371 662L372 671L367 669ZM367 669L372 671L374 680L368 677ZM368 677L374 680L375 688L370 686ZM370 686L375 688L376 697L371 695ZM373 703L378 706L379 715L374 712ZM374 712L379 715L380 723L375 721ZM377 729L382 732L383 741L378 738ZM378 738L383 741L385 749L380 747ZM380 747L385 749L386 758L381 755Z"/><path fill="#60b000" stroke="#60b000" stroke-width="0.7" d="M326 702L331 705L333 713L328 710ZM330 696L335 699L336 708L331 705ZM323 632L328 634L330 643L324 640ZM330 674L336 677L337 685L332 682ZM336 708L341 710L343 719L338 716ZM330 643L335 645L336 654L331 651ZM331 651L336 654L338 662L333 660ZM348 721L353 724L354 733L349 730ZM337 631L342 633L344 642L338 639ZM340 648L345 650L346 659L341 656ZM341 656L346 659L348 667L343 665ZM343 665L348 667L349 676L344 673ZM353 724L358 727L359 735L354 733ZM346 659L352 661L353 670L348 667ZM349 676L354 678L356 687L351 684ZM351 684L356 687L357 695L352 693ZM357 718L362 721L363 730L358 727ZM359 735L364 738L366 747L361 744ZM355 655L360 658L362 666L357 664ZM358 672L363 675L365 683L360 681ZM370 741L375 744L376 752L371 750ZM362 666L367 669L368 677L363 675ZM363 675L368 677L370 686L365 683ZM370 718L375 721L377 729L372 727ZM372 727L377 729L378 738L373 735ZM375 744L380 747L381 755L376 752ZM371 695L376 697L378 706L373 703ZM375 721L380 723L382 732L377 729Z"/><path fill="#1e8f00" stroke="#1e8f00" stroke-width="0.7" d="M333 691L338 693L340 702L335 699ZM339 724L344 727L346 736L341 733ZM341 710L346 713L348 721L343 719ZM332 628L337 631L338 639L333 637ZM342 633L347 635L349 644L344 642ZM348 667L353 670L354 678L349 676ZM354 678L360 681L361 689L356 687ZM359 704L364 707L365 715L360 713ZM353 638L358 640L359 649L354 646ZM357 664L362 666L363 675L358 672ZM361 689L366 692L368 701L362 698ZM367 724L372 727L373 735L368 732ZM360 658L366 660L367 669L362 666ZM363 643L368 645L369 654L364 651ZM364 651L369 654L371 662L366 660Z"/><path fill="#cce600" stroke="#cce600" stroke-width="0.7" d="M164 561L170 561L174 560L169 559ZM212 547L218 547L222 546L217 546ZM265 532L270 533L275 531L269 531ZM278 528L283 529L288 528L282 527ZM317 517L323 518L327 517L322 516ZM343 509L349 510L353 509L348 508ZM422 487L427 488L432 487L426 486ZM457 477L462 478L467 477L461 476ZM179 559L184 559L189 558L183 557ZM196 554L202 554L206 553L201 552ZM222 546L228 547L232 546L227 545ZM257 536L263 537L267 536L262 535ZM305 523L311 524L315 522L310 521ZM375 503L381 504L385 503L379 502ZM471 476L476 477L481 476L475 474ZM176 562L181 562L186 561L180 560ZM193 557L199 557L203 556L198 555ZM241 543L247 544L251 543L245 542ZM272 535L277 535L282 534L276 533ZM293 529L299 529L303 528L298 527ZM320 521L325 522L329 521L324 520ZM359 510L364 511L369 510L363 509ZM363 509L369 510L373 509L368 508ZM389 502L395 503L399 501L394 500ZM411 495L417 497L421 495L415 494ZM429 491L434 492L438 491L433 489ZM437 488L443 489L447 488L442 487ZM455 483L460 485L464 483L459 482ZM459 482L464 483L469 482L463 481ZM212 554L218 554L222 553L216 552ZM277 535L283 536L287 535L282 534ZM321 523L326 524L331 523L325 522ZM325 522L331 523L335 522L329 521ZM338 518L344 519L348 518L343 517ZM434 492L439 493L444 492L438 491ZM451 487L457 488L461 487L456 486ZM209 557L214 557L219 556L213 555ZM226 552L232 552L236 551L231 551ZM239 548L245 549L249 548L244 547ZM270 540L275 541L280 539L274 539ZM313 528L319 529L323 528L318 527ZM348 518L354 519L358 518L352 517ZM352 517L358 518L362 517L357 516ZM453 489L458 491L462 490L457 488ZM461 487L467 488L471 487L466 486ZM232 552L237 553L242 552L236 551ZM267 543L272 544L277 542L271 542ZM354 519L359 520L363 519L358 518ZM388 510L394 511L398 510L393 509ZM203 562L208 563L213 562L207 561ZM246 551L252 551L256 550L251 550ZM255 548L260 549L265 548L259 547ZM281 541L287 542L291 541L285 540ZM290 539L295 540L300 539L294 538ZM298 537L304 537L308 536L303 535ZM311 533L317 534L321 533L316 532ZM390 512L395 513L399 512L394 511ZM398 510L404 511L408 510L403 508ZM407 507L412 508L417 507L411 506ZM459 493L465 494L469 493L463 492ZM489 485L495 486L499 485L494 484ZM226 558L231 559L236 558L230 557ZM282 543L288 544L292 543L287 542ZM295 540L301 541L305 539L300 539ZM339 528L344 529L349 528L343 527ZM360 522L366 523L370 522L365 521ZM412 508L418 510L422 508L417 507ZM443 500L448 502L453 500L447 499ZM473 492L479 493L483 492L478 491ZM482 490L487 491L492 490L486 489ZM227 560L233 561L237 559L231 559ZM240 557L246 557L250 556L244 555ZM309 538L315 539L319 538L314 537ZM409 512L415 513L419 512L414 511ZM422 508L428 510L432 508L427 507ZM457 499L462 500L467 499L461 498ZM474 495L480 496L484 495L479 493ZM487 491L493 493L497 491L492 490ZM233 561L238 561L243 560L237 559ZM237 559L243 560L247 559L241 558ZM259 554L264 554L269 553L263 553ZM302 542L308 543L312 542L306 541ZM315 539L321 540L325 539L319 538ZM363 527L368 527L373 526L367 525ZM376 523L381 524L386 523L380 522ZM406 515L412 516L416 515L410 514ZM436 507L442 508L446 507L441 506ZM445 505L451 506L455 505L449 504ZM471 498L477 499L481 498L475 497ZM282 550L287 551L292 549L286 549ZM308 543L313 544L318 543L312 542ZM325 539L331 540L335 538L329 538ZM334 536L339 537L344 536L338 535ZM342 534L348 535L352 534L347 533ZM355 531L361 532L365 531L360 530ZM360 530L365 531L369 530L364 529ZM416 515L421 516L426 515L420 514ZM420 514L426 515L430 514L425 513ZM468 502L473 503L478 502L472 501ZM240 563L245 563L250 562L244 562ZM270 555L276 556L280 555L274 554ZM309 545L314 546L319 545L313 544ZM369 530L375 530L379 529L374 528ZM382 526L388 527L392 526L387 525ZM391 524L397 525L401 524L395 523ZM400 522L405 523L410 522L404 521ZM417 517L423 518L427 517L421 516ZM426 515L431 516L436 515L430 514ZM232 567L238 567L242 566L237 566ZM245 563L251 564L255 563L250 562ZM250 562L255 563L260 562L254 561ZM267 558L273 558L277 557L271 557ZM306 548L311 549L316 548L310 547ZM340 539L346 540L350 539L345 538ZM392 526L398 527L402 526L397 525ZM401 524L406 525L411 524L405 523ZM436 515L441 516L445 515L440 514ZM474 505L480 507L484 505L479 504ZM238 567L244 568L248 567L242 566ZM247 565L252 565L257 564L251 564ZM394 528L399 529L403 528L398 527ZM411 524L416 525L421 524L415 523ZM415 523L421 524L425 523L419 522ZM476 508L481 509L485 508L480 507ZM252 565L258 567L262 566L257 564ZM261 563L266 565L271 563L265 562ZM270 561L275 562L279 561L274 560ZM300 554L305 555L309 554L304 553ZM347 542L353 543L357 542L352 541ZM386 532L392 534L396 533L390 531ZM390 531L396 533L400 532L395 530ZM399 529L404 530L409 529L403 528ZM425 523L430 524L435 523L429 522ZM468 512L474 513L478 512L472 511ZM481 509L487 510L491 509L485 508ZM507 502L512 504L517 503L511 501ZM266 565L271 568L275 567L271 563ZM292 558L297 561L301 560L297 557ZM305 555L310 558L314 557L309 554ZM318 552L323 555L327 554L322 551ZM327 550L332 553L336 551L331 549ZM370 539L375 542L379 541L374 538ZM426 525L431 527L435 526L430 524ZM474 513L479 515L483 514L478 512ZM478 512L483 514L487 513L482 511ZM288 564L293 567L297 566L293 562ZM306 559L310 562L315 561L310 558ZM344 549L349 552L354 551L349 548ZM362 545L367 548L371 547L366 544ZM440 525L445 527L449 526L444 524ZM280 570L284 573L289 572L284 569ZM293 567L297 570L302 569L297 566ZM319 560L324 563L328 562L323 559ZM527 506L533 508L537 507L532 505ZM310 567L315 570L319 568L315 565ZM332 561L337 564L341 563L337 560ZM398 543L403 546L407 545L402 542ZM406 541L411 544L416 542L411 540ZM454 528L459 531L464 529L459 527ZM467 525L472 527L477 526L472 524ZM498 517L503 519L507 518L502 516ZM271 582L276 585L280 584L276 580ZM302 573L307 576L311 575L306 572ZM350 560L355 563L359 562L354 559ZM372 554L377 557L381 556L376 553ZM389 550L394 552L399 551L394 548ZM446 534L451 536L456 535L451 533ZM451 533L456 535L460 534L455 532ZM472 527L478 529L482 528L477 526ZM494 521L499 523L504 522L499 520ZM512 516L517 518L521 517L516 515ZM520 514L526 516L530 515L525 513ZM324 572L329 575L333 573L329 570ZM333 569L338 572L342 571L337 568ZM390 553L395 556L399 555L394 552ZM469 532L474 534L478 532L473 530ZM486 527L491 529L496 528L491 526ZM491 526L496 528L500 526L495 524ZM539 512L544 514L549 513L543 511ZM333 573L338 577L342 575L338 572ZM377 561L382 564L386 563L382 560ZM390 557L395 560L400 559L395 556ZM417 550L422 552L426 551L421 549ZM430 546L435 549L439 547L434 545ZM443 542L448 545L453 544L447 541ZM447 541L453 544L457 542L452 540ZM469 535L475 537L479 536L474 534ZM518 521L523 523L527 522L522 520ZM294 589L298 593L303 591L298 588ZM311 584L316 587L320 586L316 583ZM325 580L329 584L334 582L329 579ZM338 577L343 580L347 578L342 575ZM497 531L502 533L506 532L501 530ZM369 572L374 575L378 573L374 571ZM422 556L427 559L431 557L427 555ZM449 548L454 551L458 549L453 547ZM453 547L458 549L463 548L458 546ZM312 593L316 597L321 595L316 592ZM352 581L356 584L361 583L356 580ZM356 580L361 583L365 582L361 579ZM361 579L365 582L370 580L365 577ZM449 552L454 555L459 553L454 551ZM471 545L476 548L481 546L476 544ZM502 536L508 538L512 537L507 535ZM520 531L525 533L530 531L525 530ZM307 599L312 603L316 601L312 598ZM339 590L343 593L348 592L343 589ZM379 578L383 581L388 579L383 576ZM383 576L388 579L392 578L387 575ZM405 570L410 572L415 571L410 568ZM485 545L490 547L495 546L490 544ZM299 607L303 610L308 609L303 606ZM334 596L339 599L343 598L339 595ZM343 593L348 596L352 595L348 592ZM361 588L366 591L370 589L365 586ZM437 564L442 566L446 565L441 563ZM455 558L460 561L464 559L459 557ZM575 521L580 522L585 521L580 519ZM388 584L393 586L397 585L393 582ZM397 581L402 584L406 582L402 579ZM402 579L406 582L411 581L406 578ZM428 571L433 573L438 572L433 569ZM442 566L447 569L451 568L446 565ZM478 555L483 557L487 556L482 554ZM312 613L317 616L321 614L317 611ZM415 579L420 582L425 580L420 578ZM456 566L461 569L465 567L460 565ZM469 562L474 564L479 563L474 560ZM330 612L335 615L339 613L335 610ZM393 591L398 594L402 592L398 589ZM461 569L466 571L470 570L465 567ZM524 548L529 550L533 549L528 546ZM375 601L380 604L385 602L380 600ZM384 598L389 601L394 599L389 597ZM411 589L416 592L421 590L416 588ZM416 588L421 590L425 589L420 586ZM429 583L435 585L439 584L434 582ZM434 582L439 584L444 582L438 580ZM443 579L448 581L453 579L447 577ZM452 576L457 578L462 576L456 574ZM479 567L484 569L489 567L484 565ZM524 552L529 553L534 552L529 550ZM344 616L349 618L354 617L349 614ZM398 598L404 600L408 598L403 596ZM507 561L512 563L517 561L511 560ZM331 624L336 627L341 625L336 623ZM349 618L354 621L359 619L354 617ZM408 598L413 600L418 599L413 597ZM413 597L418 599L422 597L417 595ZM417 595L422 597L427 596L422 594ZM426 592L431 594L436 593L431 591ZM548 551L554 552L558 551L553 549ZM580 540L585 541L590 540L585 538ZM639 520L644 521L649 520L643 518ZM354 621L360 623L364 621L359 619ZM504 569L509 571L514 570L508 568ZM478 586L483 588L488 586L483 584ZM483 584L488 586L493 584L487 583ZM352 634L357 636L362 635L356 632ZM415 612L421 614L425 612L420 610ZM429 607L434 609L439 607L434 605ZM434 605L439 607L443 606L438 604ZM447 600L452 602L457 601L452 599ZM389 625L394 627L399 626L393 623ZM489 590L494 592L499 590L493 588ZM413 625L418 627L423 625L417 623Z"/><path fill="#e6f200" stroke="#e6f200" stroke-width="0.7" d="M169 559L174 560L179 559L173 558ZM191 553L196 554L201 552L195 552ZM199 551L205 551L209 550L204 549ZM239 539L244 540L249 539L243 538ZM274 529L279 530L283 529L278 528ZM330 513L336 514L340 513L335 512ZM352 507L358 508L362 507L356 506ZM400 493L406 494L410 493L405 492ZM448 479L454 481L458 479L453 478ZM188 556L193 557L198 555L192 555ZM275 531L280 532L285 531L279 530ZM288 528L293 529L298 527L292 526ZM297 525L302 526L306 525L301 524ZM318 519L324 520L328 519L323 518ZM327 517L333 517L337 516L331 515ZM349 510L354 511L359 510L353 509ZM366 505L372 506L376 505L371 504ZM384 500L389 502L394 500L388 499ZM189 558L194 558L199 557L193 557ZM232 546L238 546L242 545L237 544ZM237 544L242 545L247 544L241 543ZM254 540L260 540L264 539L259 538ZM259 538L264 539L268 538L263 537ZM315 522L321 523L325 522L320 521ZM328 519L334 520L338 518L333 517ZM337 516L343 517L347 516L341 515ZM368 508L373 509L377 508L372 506ZM402 498L408 499L412 498L407 497ZM407 497L412 498L417 497L411 495ZM424 492L430 493L434 492L429 491ZM442 487L447 488L451 487L446 486ZM472 478L478 480L482 478L476 477ZM225 550L231 551L235 549L229 549ZM229 549L235 549L239 548L234 548ZM234 548L239 548L244 547L238 546ZM260 540L265 541L270 540L264 539ZM264 539L270 540L274 539L268 538ZM268 538L274 539L278 537L273 537ZM312 526L318 527L322 525L316 525ZM334 520L339 521L344 519L338 518ZM399 501L405 503L409 501L404 500ZM430 493L435 494L439 493L434 492ZM460 485L466 486L470 485L464 483ZM473 481L479 482L483 481L478 480ZM257 543L262 544L267 543L261 542ZM300 531L306 532L310 531L305 530ZM193 563L198 564L203 562L197 562ZM197 562L203 562L207 561L201 561ZM223 555L229 555L233 554L227 554ZM258 545L264 546L268 545L262 544ZM358 518L363 519L368 518L362 517ZM393 509L398 510L403 508L397 507ZM406 505L411 506L416 505L410 504ZM410 504L416 505L420 504L414 503ZM428 499L433 500L437 499L432 498ZM471 487L476 489L481 487L475 486ZM480 485L485 486L489 485L484 484ZM259 547L265 548L269 547L264 546ZM437 499L443 500L447 499L442 498ZM468 491L473 492L478 491L472 490ZM472 490L478 491L482 490L476 489ZM485 486L491 488L495 486L489 485ZM494 484L499 485L504 484L498 483ZM256 550L262 551L266 550L260 549ZM326 532L331 532L335 531L330 530ZM365 521L370 522L375 521L369 520ZM373 519L379 520L383 519L378 518ZM434 503L440 504L444 503L438 501ZM478 491L483 492L487 491L482 490ZM499 485L505 487L509 485L504 484ZM262 551L267 551L272 550L266 550ZM296 542L302 542L306 541L301 541ZM349 528L354 529L358 528L353 527ZM405 513L410 514L415 513L409 512ZM431 506L436 507L441 506L435 505ZM254 555L260 556L264 554L259 554ZM263 553L269 553L273 552L267 551ZM272 550L277 551L282 550L276 549ZM298 544L303 544L308 543L302 542ZM380 522L386 523L390 522L384 521ZM389 520L394 521L399 520L393 519ZM428 510L433 511L438 510L432 508ZM449 504L455 505L459 504L454 503ZM467 499L472 501L477 499L471 498ZM488 494L494 495L498 494L493 493ZM273 552L279 553L283 552L277 551ZM277 551L283 552L287 551L282 550ZM312 542L318 543L322 542L316 541ZM364 529L369 530L374 528L368 527ZM438 510L443 511L447 510L442 508ZM442 508L447 510L452 508L446 507ZM446 507L452 508L456 507L451 506ZM455 505L460 506L465 505L459 504ZM292 549L297 550L302 549L296 548ZM296 548L302 549L306 548L300 547ZM305 546L310 547L314 546L309 545ZM313 544L319 545L323 544L318 543ZM331 540L336 540L340 539L335 538ZM335 538L340 539L345 538L339 537ZM339 537L345 538L349 537L344 536ZM357 533L362 534L366 533L361 532ZM374 528L379 529L384 528L378 527ZM439 512L444 513L449 512L443 511ZM443 511L449 512L453 511L447 510ZM271 557L277 557L281 556L276 556ZM284 553L290 554L294 553L289 552ZM366 533L372 534L376 532L371 532ZM384 528L389 529L394 528L388 527ZM410 522L415 523L419 522L414 521ZM449 512L454 513L458 512L453 511ZM457 510L463 511L467 510L462 509ZM255 563L261 563L265 562L260 562ZM260 562L265 562L270 561L264 561ZM307 550L313 551L317 549L311 549ZM333 543L339 544L343 543L337 542ZM337 542L343 543L347 542L342 541ZM346 540L352 541L356 540L350 539ZM363 536L369 537L373 536L368 535ZM372 534L377 534L382 533L376 532ZM398 527L403 528L408 527L402 526ZM406 525L412 526L416 525L411 524ZM419 522L425 523L429 522L424 521ZM441 516L447 517L451 516L445 515ZM445 515L451 516L455 515L450 514ZM458 512L464 513L468 512L463 511ZM484 505L490 507L494 506L489 504ZM523 496L529 497L533 496L527 495ZM278 559L284 560L288 559L283 558ZM339 544L344 545L348 544L343 543ZM356 540L361 541L366 540L360 539ZM365 538L370 539L374 538L369 537ZM369 537L374 538L379 537L373 536ZM377 534L383 536L387 535L382 533ZM271 563L275 567L280 566L275 562ZM409 529L414 532L418 531L413 528ZM443 521L448 523L453 522L448 520ZM525 501L531 502L535 501L530 500ZM310 558L315 561L319 560L314 557ZM357 546L362 549L367 548L362 545ZM383 539L388 542L393 541L388 538ZM448 523L454 525L458 524L453 522ZM258 576L263 579L267 578L262 575ZM275 571L280 575L284 573L280 570ZM284 569L289 572L293 571L288 568ZM310 562L315 565L319 564L315 561ZM384 543L389 546L393 545L388 542ZM432 531L437 533L441 532L436 530ZM467 522L472 524L476 523L471 521ZM267 578L271 582L276 580L271 577ZM280 575L285 578L289 577L284 573ZM319 564L324 567L328 566L324 563ZM354 555L359 558L363 557L358 554ZM376 549L381 552L385 551L380 548ZM480 522L486 524L490 522L485 520ZM289 577L293 580L298 579L293 576ZM328 566L333 569L337 568L333 565ZM385 551L390 553L394 552L389 550ZM315 574L320 577L324 576L320 573ZM346 566L351 569L355 567L350 564ZM355 563L360 566L364 565L359 562ZM372 558L377 561L382 560L377 557ZM399 551L404 554L408 552L403 550ZM438 540L443 542L447 541L442 539ZM294 585L298 588L303 587L298 583ZM324 576L329 579L333 578L329 575ZM364 565L369 568L373 566L368 564ZM408 552L413 555L417 554L412 551ZM465 536L470 538L475 537L469 535ZM478 532L483 535L488 533L483 531ZM483 531L488 533L492 532L487 530ZM307 585L312 589L316 587L311 584ZM356 571L360 574L365 573L360 570ZM364 569L369 572L374 571L369 568ZM369 568L374 571L378 569L373 566ZM404 558L409 560L413 559L408 556ZM417 554L422 556L427 555L422 552ZM435 549L440 551L444 550L439 547ZM312 589L316 592L321 591L316 587ZM351 577L356 580L361 579L356 576ZM413 559L418 561L423 560L418 558ZM502 533L507 535L511 534L506 532ZM303 596L307 599L312 598L307 595ZM387 571L392 574L396 572L392 569ZM347 587L352 590L357 589L352 586ZM361 583L365 586L370 585L365 582ZM410 568L415 571L419 569L414 567ZM432 561L437 564L441 563L436 560ZM490 544L495 546L499 544L494 542ZM508 538L513 540L517 539L512 537ZM352 590L357 593L361 592L357 589ZM365 586L370 589L375 588L370 585ZM423 568L428 571L433 569L428 567ZM477 551L482 554L487 552L481 550ZM566 524L572 525L576 524L571 522ZM316 606L321 610L326 608L321 605ZM406 578L411 581L415 579L410 576ZM415 575L420 578L424 576L419 574ZM334 605L339 609L344 607L339 604ZM393 586L398 589L402 588L397 585ZM411 581L416 583L420 582L415 579ZM429 575L434 578L438 576L433 573ZM442 570L447 573L452 572L447 569ZM447 569L452 572L456 570L451 568ZM335 610L339 613L344 612L339 609ZM438 576L443 579L447 577L443 575ZM357 607L362 610L367 608L362 606ZM380 604L385 606L390 604L385 602ZM435 585L440 587L444 586L439 584ZM457 578L462 580L467 578L462 576ZM444 586L450 588L454 586L449 584ZM471 577L477 579L481 577L476 575ZM336 627L342 629L346 628L341 625ZM360 623L365 625L369 624L364 621ZM391 612L397 614L401 613L396 610ZM456 594L461 596L465 594L460 592ZM397 618L402 620L407 619L402 616ZM456 597L462 599L466 598L461 596ZM375 630L380 632L385 631L380 628ZM407 619L412 621L417 619L412 617ZM543 570L549 572L553 570L548 569ZM389 629L395 631L399 630L394 627Z"/><path fill="#96cc00" stroke="#96cc00" stroke-width="0.7" d="M173 558L179 559L183 557L177 557ZM221 544L227 545L231 544L226 543ZM308 519L314 520L318 519L313 518ZM339 511L345 512L349 510L343 509ZM383 498L388 499L393 498L387 497ZM418 488L423 489L427 488L422 487ZM170 561L176 562L180 560L174 560ZM183 557L189 558L193 557L188 556ZM214 549L219 549L224 548L218 547ZM432 487L437 488L442 487L436 486ZM436 486L442 487L446 486L441 484ZM462 478L468 480L472 478L467 477ZM467 477L472 478L476 477L471 476ZM206 553L212 554L216 552L211 552ZM211 552L216 552L221 551L215 551ZM267 536L273 537L277 535L272 535ZM306 525L312 526L316 525L311 524ZM372 506L377 508L382 506L376 505ZM381 504L386 505L390 504L385 503ZM385 503L390 504L395 503L389 502ZM398 499L404 500L408 499L402 498ZM420 493L425 494L430 493L424 492ZM186 561L191 561L196 560L190 560ZM216 552L222 553L226 552L221 551ZM351 515L357 516L361 515L356 514ZM377 508L383 509L387 507L382 506ZM390 504L396 505L400 504L395 503ZM425 494L431 495L435 494L430 493ZM222 553L227 554L232 552L226 552ZM291 534L297 535L301 533L296 533ZM318 527L323 528L328 526L322 525ZM326 524L332 525L336 524L331 523ZM339 521L345 522L349 520L344 519ZM344 519L349 520L354 519L348 518ZM357 516L362 517L367 516L361 515ZM361 515L367 516L371 514L365 513ZM370 512L375 513L380 512L374 511ZM201 561L207 561L211 560L206 560ZM371 514L377 516L381 514L375 513ZM375 513L381 514L385 513L380 512ZM397 507L403 508L407 507L401 506ZM419 501L424 503L429 501L423 500ZM423 500L429 501L433 500L428 499ZM449 493L455 494L459 493L454 492ZM488 482L494 484L498 483L493 481ZM211 560L217 561L221 559L216 559ZM220 558L226 558L230 557L224 557ZM333 527L339 528L343 527L337 526ZM372 517L378 518L382 517L377 516ZM424 503L430 504L434 503L429 501ZM498 483L504 484L508 483L503 481ZM204 564L210 565L214 563L208 563ZM278 544L283 545L288 544L282 543ZM356 523L362 524L366 523L360 522ZM218 562L224 563L228 562L223 561ZM231 559L237 559L241 558L236 558ZM244 555L250 556L254 555L249 554ZM249 554L254 555L259 554L253 553ZM257 552L263 553L267 551L262 551ZM266 550L272 550L276 549L270 549ZM331 532L337 533L341 532L335 531ZM362 524L367 525L371 524L366 523ZM383 519L389 520L393 519L388 518ZM440 504L445 505L449 504L444 503ZM224 563L230 563L234 562L228 562ZM267 551L273 552L277 551L272 550ZM276 549L282 550L286 549L280 548ZM280 548L286 549L290 548L285 547ZM319 538L325 539L329 538L324 537ZM384 521L390 522L394 521L389 520ZM493 493L498 494L503 493L497 491ZM221 566L227 566L231 565L225 564ZM303 544L309 545L313 544L308 543ZM386 523L391 524L395 523L390 522ZM399 520L404 521L408 520L403 519ZM459 504L465 505L469 504L464 503ZM494 495L499 496L504 495L498 494ZM511 490L517 492L521 491L516 489ZM266 556L271 557L276 556L270 555ZM387 525L392 526L397 525L391 524ZM395 523L401 524L405 523L400 522ZM413 518L418 520L423 518L417 517ZM434 513L440 514L444 513L439 512ZM486 500L492 501L496 500L491 499ZM525 490L531 491L535 490L530 489ZM379 529L385 530L389 529L384 528ZM424 521L429 522L434 521L428 519ZM437 517L442 518L447 517L441 516ZM454 513L460 514L464 513L458 512ZM493 503L498 505L503 503L497 502ZM502 501L507 502L511 501L506 500ZM515 498L520 499L524 498L519 497ZM536 492L542 494L546 493L540 491ZM257 564L262 566L266 565L261 563ZM412 526L417 527L422 526L416 525ZM494 506L499 507L504 506L498 505ZM498 505L504 506L508 505L503 503ZM253 568L258 571L262 570L258 567ZM361 541L366 544L370 543L366 540ZM482 511L487 513L492 512L487 510ZM487 510L492 512L496 511L491 509ZM521 502L526 503L531 502L525 501ZM547 495L552 497L557 496L551 494ZM254 572L258 576L262 575L258 571ZM262 570L267 574L271 572L267 569ZM271 568L275 571L280 570L275 567ZM301 560L306 563L310 562L306 559ZM431 527L436 530L440 529L435 526ZM444 524L449 526L454 525L448 523ZM457 521L462 523L467 522L461 520ZM466 519L471 521L475 520L470 518ZM496 511L501 513L506 512L500 510ZM505 509L510 511L514 509L509 508ZM509 508L514 509L519 508L513 507ZM522 504L527 506L532 505L526 503ZM539 500L545 502L549 500L544 499ZM332 557L337 560L341 558L336 556ZM458 524L463 526L467 525L462 523ZM471 521L476 523L480 522L475 520ZM506 512L511 513L515 512L510 511ZM328 562L333 565L337 564L332 561ZM415 539L420 541L424 540L419 538ZM476 523L481 525L486 524L480 522ZM489 519L494 521L499 520L493 518ZM524 510L529 512L534 510L528 509ZM563 500L569 501L573 500L568 498ZM280 579L285 583L289 581L285 578ZM293 576L298 579L302 578L298 574ZM398 547L403 550L407 549L403 546ZM486 524L491 526L495 524L490 522ZM529 512L535 513L539 512L534 510ZM538 509L543 511L548 510L542 508ZM280 584L285 587L289 586L285 583ZM302 578L307 581L311 580L307 576ZM368 559L373 562L377 561L372 558ZM386 555L390 557L395 556L390 553ZM403 550L408 552L412 551L407 549ZM407 549L412 551L417 550L412 547ZM429 543L434 545L439 544L434 541ZM473 530L478 532L483 531L478 529ZM482 528L487 530L491 529L486 527ZM530 515L535 516L540 515L535 513ZM276 590L281 593L285 592L280 588ZM307 581L311 584L316 583L311 580ZM316 578L320 582L325 580L320 577ZM320 577L325 580L329 579L324 576ZM399 555L404 558L408 556L404 554ZM412 551L417 554L422 552L417 550ZM522 520L527 522L532 521L527 519ZM575 505L580 507L585 505L579 504ZM281 593L285 597L289 595L285 592ZM395 560L400 563L404 561L400 559ZM470 538L475 541L480 539L475 537ZM488 533L493 535L497 534L492 532ZM492 532L497 534L502 533L497 531ZM514 526L519 528L524 526L519 524ZM554 514L559 516L564 515L558 513ZM585 505L590 507L595 505L589 504ZM360 574L365 577L369 576L365 573ZM440 551L445 553L449 552L444 550ZM466 543L471 545L476 544L471 542ZM475 541L480 543L485 542L480 539ZM484 538L489 540L494 539L488 537ZM497 534L502 536L507 535L502 533ZM515 529L520 531L525 530L519 528ZM524 526L529 528L533 527L528 525ZM298 597L303 601L307 599L303 596ZM307 595L312 598L316 597L312 593ZM338 585L343 589L347 587L343 584ZM343 584L347 587L352 586L347 583ZM365 577L370 580L374 579L369 576ZM392 569L396 572L401 571L396 568ZM405 565L410 568L414 567L409 564ZM436 556L441 559L445 557L440 555ZM303 601L307 604L312 603L307 599ZM352 586L357 589L361 588L356 584ZM356 584L361 588L365 586L361 583ZM365 582L370 585L374 583L370 580ZM387 575L392 578L397 576L392 574ZM419 565L423 568L428 567L423 564ZM423 564L428 567L432 565L428 563ZM454 555L459 557L464 556L459 553ZM516 536L522 538L526 536L521 534ZM534 530L539 532L544 531L539 529ZM592 512L597 514L602 513L597 511ZM312 603L316 606L321 605L316 601ZM415 571L419 574L424 572L419 569ZM419 569L424 572L428 571L423 568ZM490 547L495 549L500 548L495 546ZM513 540L518 542L522 541L517 539ZM553 528L558 530L563 528L557 526ZM589 517L594 518L598 517L593 515ZM593 515L598 517L603 515L597 514ZM303 610L308 614L312 613L308 609ZM312 608L317 611L321 610L316 606ZM348 596L352 599L357 598L352 595ZM375 588L379 591L384 589L379 586ZM419 574L424 576L429 575L424 572ZM437 568L442 570L447 569L442 566ZM487 552L492 555L496 553L491 551ZM567 527L572 528L577 527L572 525ZM352 599L357 603L362 601L357 598ZM361 597L366 600L371 598L366 595ZM402 584L407 586L411 585L406 582ZM483 557L488 560L492 558L487 556ZM492 555L497 557L501 555L496 553ZM501 552L506 554L510 552L505 550ZM532 542L537 544L542 542L536 540ZM545 537L551 539L555 538L550 536ZM371 598L375 601L380 600L375 597ZM375 597L380 600L384 598L380 595ZM402 588L407 591L411 589L407 586ZM420 582L425 585L429 583L425 580ZM425 580L429 583L434 582L429 579ZM434 578L438 580L443 579L438 576ZM452 572L456 574L461 573L456 570ZM456 570L461 573L466 571L461 569ZM483 561L488 564L493 562L488 560ZM488 560L493 562L497 561L492 558ZM515 551L520 553L524 552L519 549ZM389 597L394 599L398 598L393 595ZM398 594L403 596L407 595L402 592ZM475 568L480 570L484 569L479 567ZM488 564L493 566L498 564L493 562ZM511 556L516 558L520 556L515 555ZM619 520L624 521L629 520L623 518ZM471 573L476 575L480 574L475 572ZM475 572L480 574L485 572L480 570ZM484 569L490 571L494 569L489 567ZM390 604L395 607L400 605L395 603ZM440 587L445 590L450 588L444 586ZM453 583L459 585L463 583L458 581ZM499 567L504 569L508 568L503 566ZM503 566L508 568L513 566L508 564ZM562 546L567 548L572 546L566 544ZM359 619L364 621L369 620L364 617ZM364 617L369 620L373 618L368 616ZM373 614L378 617L382 615L377 613ZM409 602L414 604L419 603L413 600ZM604 535L609 537L613 535L608 534ZM613 532L618 534L622 532L617 530ZM410 606L415 608L419 606L414 604ZM428 599L433 601L437 600L432 598ZM437 596L442 598L446 597L441 595ZM527 565L533 567L537 565L532 563ZM347 632L352 634L356 632L351 630ZM356 628L361 631L365 629L360 627ZM360 627L365 629L370 628L365 625ZM365 625L370 628L375 626L369 624ZM487 583L493 584L497 583L492 581ZM501 578L506 580L511 578L505 576ZM519 571L524 573L529 572L524 570ZM347 635L353 638L357 636L352 634ZM379 624L384 627L389 625L384 623ZM529 572L534 574L539 572L533 570ZM533 570L539 572L543 570L538 569ZM538 569L543 570L548 569L542 567ZM561 561L566 562L571 561L565 559ZM366 633L371 635L376 634L371 631ZM371 631L376 634L380 632L375 630ZM402 620L408 622L412 621L407 619ZM412 617L417 619L421 618L416 615ZM425 612L430 614L435 613L430 611ZM548 569L553 570L558 569L552 567ZM557 565L562 567L567 566L561 564ZM430 614L436 616L440 615L435 613ZM439 611L445 613L449 612L444 609ZM449 608L454 610L458 608L453 606ZM585 559L590 561L595 559L589 558ZM603 553L608 554L613 553L608 551ZM612 549L618 551L622 549L617 548ZM422 621L427 624L432 622L427 620Z"/><path fill="#b1d900" stroke="#b1d900" stroke-width="0.7" d="M177 557L183 557L188 556L182 556ZM182 556L188 556L192 555L186 554ZM204 549L209 550L214 549L208 548ZM247 537L253 538L257 536L252 536ZM282 527L288 528L292 526L287 526ZM313 518L318 519L323 518L317 517ZM405 492L410 493L414 492L409 491ZM426 486L432 487L436 486L431 484ZM439 482L445 483L449 482L444 481ZM453 478L458 479L462 478L457 477ZM466 474L471 476L475 474L470 473ZM205 551L211 552L215 551L209 550ZM235 543L241 543L245 542L240 541ZM244 540L250 541L254 540L249 539ZM279 530L285 531L289 530L283 529ZM314 520L320 521L324 520L318 519ZM371 504L376 505L381 504L375 503ZM393 498L398 499L402 498L397 497ZM401 495L407 497L411 495L406 494ZM198 555L203 556L208 555L202 554ZM276 533L282 534L286 533L280 532ZM333 517L338 518L343 517L337 516ZM350 513L356 514L360 512L354 511ZM354 511L360 512L364 511L359 510ZM376 505L382 506L386 505L381 504ZM247 544L252 545L257 543L251 543ZM329 521L335 522L339 521L334 520ZM343 517L348 518L352 517L347 516ZM347 516L352 517L357 516L351 515ZM404 500L409 501L413 500L408 499ZM412 498L418 499L422 498L417 497ZM421 495L426 497L431 495L425 494ZM218 554L223 555L227 554L222 553ZM261 542L267 543L271 542L265 541ZM265 541L271 542L275 541L270 540ZM274 539L280 539L284 538L278 537ZM322 525L328 526L332 525L326 524ZM331 523L336 524L341 523L335 522ZM379 510L384 511L388 510L383 509ZM392 506L397 507L401 506L396 505ZM400 504L406 505L410 504L405 503ZM431 495L436 497L441 495L435 494ZM466 486L471 487L475 486L470 485ZM479 482L484 484L488 482L483 481ZM206 560L211 560L216 559L210 558ZM254 546L259 547L264 546L258 545ZM262 544L268 545L272 544L267 543ZM362 517L368 518L372 517L367 516ZM436 497L442 498L446 497L441 495ZM441 495L446 497L450 496L445 494ZM229 555L234 556L239 555L233 554ZM242 552L247 553L252 551L246 551ZM264 546L269 547L273 546L268 545ZM294 538L300 539L304 537L298 537ZM316 532L321 533L326 532L320 531ZM337 526L343 527L347 526L342 525ZM368 518L373 519L378 518L372 517ZM433 500L438 501L443 500L437 499ZM481 487L486 489L491 488L485 486ZM234 556L240 557L244 555L239 555ZM265 548L270 549L275 547L269 547ZM321 533L327 534L331 532L326 532ZM334 529L340 530L344 529L339 528ZM369 520L375 521L379 520L373 519ZM378 518L383 519L388 518L382 517ZM386 515L392 516L396 515L391 514ZM408 510L414 511L418 510L412 508ZM425 505L431 506L435 505L430 504ZM447 499L453 500L457 499L451 498ZM292 543L298 544L302 542L296 542ZM318 536L324 537L328 536L322 535ZM370 522L376 523L380 522L375 521ZM388 518L393 519L397 517L392 516ZM401 514L406 515L410 514L405 513ZM414 511L419 512L423 511L418 510ZM496 489L501 490L506 489L500 488ZM215 565L221 566L225 564L220 564ZM228 562L234 562L238 561L233 561ZM332 534L338 535L342 534L337 533ZM345 531L351 532L355 531L350 530ZM264 554L270 555L274 554L269 553ZM269 553L274 554L279 553L273 552ZM286 549L292 549L296 548L290 548ZM381 524L387 525L391 524L386 523ZM394 521L400 522L404 521L399 520ZM407 517L413 518L417 517L412 516ZM429 512L434 513L439 512L433 511ZM433 511L439 512L443 511L438 510ZM451 506L456 507L460 506L455 505ZM261 557L267 558L271 557L266 556ZM378 527L384 528L388 527L382 526ZM404 521L410 522L414 521L408 520ZM508 494L513 495L518 494L512 493ZM302 549L307 550L311 549L306 548ZM332 541L337 542L342 541L336 540ZM345 538L350 539L355 538L349 537ZM418 520L424 521L428 519L423 518ZM427 517L432 518L437 517L431 516ZM453 511L458 512L463 511L457 510ZM492 501L497 502L502 501L496 500ZM496 500L502 501L506 500L500 499ZM518 494L523 496L527 495L522 493ZM251 564L257 564L261 563L255 563ZM264 561L270 561L274 560L268 560ZM281 556L287 557L291 556L286 555ZM324 545L330 546L334 545L329 544ZM471 509L477 510L481 509L476 508ZM510 499L516 500L520 499L515 498ZM519 497L524 498L529 497L523 496ZM283 558L288 559L292 558L287 557ZM287 557L292 558L297 557L291 556ZM313 551L318 552L322 551L317 549ZM317 549L322 551L327 550L321 548ZM326 547L331 549L335 547L330 546ZM382 533L387 535L392 534L386 532ZM434 521L439 522L443 521L438 520ZM442 518L448 520L452 519L447 517ZM447 517L452 519L456 518L451 516ZM477 510L482 511L487 510L481 509ZM249 569L254 572L258 571L253 568ZM297 557L301 560L306 559L301 556ZM348 544L353 547L357 546L353 543ZM396 533L401 535L405 534L400 532ZM417 527L422 530L427 528L422 526ZM422 526L427 528L431 527L426 525ZM430 524L435 526L440 525L435 523ZM517 503L522 504L526 503L521 502ZM275 567L280 570L284 569L280 566ZM314 557L319 560L323 559L319 556ZM418 531L423 533L427 532L422 530ZM435 526L440 529L445 527L440 525ZM474 516L480 518L484 517L479 515ZM518 505L523 507L527 506L522 504ZM535 501L540 503L545 502L539 500ZM288 568L293 571L297 570L293 567ZM306 563L310 567L315 565L310 562ZM358 550L363 553L367 552L362 549ZM388 542L393 545L398 543L393 541ZM393 541L398 543L402 542L397 540ZM401 539L406 541L411 540L406 538ZM410 536L415 539L419 538L414 535ZM414 535L419 538L424 537L419 534ZM419 534L424 537L428 535L423 533ZM501 513L507 515L511 513L506 512ZM532 505L537 507L541 505L536 504ZM302 569L306 572L311 571L306 568ZM350 556L354 559L359 558L354 555ZM371 550L376 553L381 552L376 549ZM393 545L398 547L403 546L398 543ZM419 538L424 540L429 539L424 537ZM428 535L433 538L437 537L432 534ZM502 516L507 518L512 516L507 515ZM507 515L512 516L516 515L511 513ZM550 503L555 505L560 503L554 502ZM319 568L324 572L329 570L324 567ZM442 535L447 538L451 536L446 534ZM477 526L482 528L486 527L481 525ZM490 522L495 524L499 523L494 521ZM555 505L561 506L565 505L560 503ZM447 538L452 540L456 539L451 536ZM456 535L461 537L465 536L460 534ZM478 529L483 531L487 530L482 528ZM517 518L522 520L527 519L521 517ZM535 513L540 515L544 514L539 512ZM552 509L557 510L562 509L556 507ZM311 580L316 583L320 582L316 578ZM338 572L342 575L347 574L342 571ZM395 556L400 559L404 558L399 555ZM426 547L430 550L435 549L430 546ZM434 545L439 547L444 546L439 544ZM474 534L479 536L483 535L478 532ZM531 518L536 519L541 518L535 516ZM544 514L550 516L554 514L549 513ZM316 583L320 586L325 585L320 582ZM378 565L382 568L387 567L382 564ZM448 545L453 547L458 546L453 544ZM466 540L471 542L475 541L470 538ZM475 537L480 539L484 538L479 536ZM510 527L515 529L519 528L514 526ZM527 522L533 524L537 522L532 521ZM536 519L542 521L546 520L541 518ZM338 581L343 584L347 583L343 580ZM365 573L369 576L374 575L369 572ZM374 571L378 573L383 572L378 569ZM378 569L383 572L387 571L382 568ZM382 568L387 571L392 569L387 567ZM387 567L392 569L396 568L391 565ZM427 555L431 557L436 556L431 554ZM435 552L440 555L445 553L440 551ZM444 550L449 552L454 551L449 548ZM462 545L467 547L471 545L466 543ZM559 516L565 518L569 516L564 515ZM294 599L299 602L303 601L298 597ZM334 587L339 590L343 589L338 585ZM347 583L352 586L356 584L352 581ZM369 576L374 579L379 578L374 575ZM383 572L387 575L392 574L387 571ZM427 559L432 561L436 560L431 557ZM454 551L459 553L463 552L458 549ZM467 547L472 549L476 548L471 545ZM476 544L481 546L485 545L480 543ZM316 597L321 600L325 599L321 595ZM321 595L325 599L330 597L325 594ZM343 589L348 592L352 590L347 587ZM481 546L486 549L490 547L485 545ZM392 578L397 581L402 579L397 576ZM441 563L446 565L451 564L446 561ZM446 561L451 564L455 562L450 560ZM473 553L478 555L482 554L477 551ZM486 549L491 551L495 549L490 547ZM535 533L540 535L545 534L539 532ZM410 576L415 579L420 578L415 575ZM464 559L469 562L474 560L469 558ZM482 554L487 556L492 555L487 552ZM572 525L577 527L581 526L576 524ZM321 610L326 613L330 612L326 608ZM326 608L330 612L335 610L330 607ZM370 594L375 597L380 595L375 592ZM397 585L402 588L407 586L402 584ZM406 582L411 585L416 583L411 581ZM433 573L438 576L443 575L438 572ZM465 563L470 566L474 564L469 562ZM478 559L483 561L488 560L483 557ZM505 550L510 552L515 551L510 549ZM523 544L528 546L533 545L527 543ZM613 515L618 517L623 515L617 514ZM317 616L321 619L326 618L321 614ZM366 600L371 603L375 601L371 598ZM384 594L389 597L393 595L389 592ZM429 579L434 582L438 580L434 578ZM443 575L447 577L452 576L447 573ZM447 573L452 576L456 574L452 572ZM474 564L479 567L484 565L479 563ZM479 563L484 565L488 564L483 561ZM600 523L605 524L610 523L605 521ZM330 616L335 619L340 618L335 615ZM362 606L367 608L371 607L366 604ZM502 559L507 561L511 560L506 558ZM623 518L629 520L633 518L628 517ZM322 624L327 626L331 624L326 622ZM385 602L390 604L395 603L389 601ZM444 582L449 584L453 583L448 581ZM453 579L458 581L462 580L457 578ZM493 566L499 567L503 566L498 564ZM502 563L508 564L512 563L507 561ZM340 621L345 624L350 622L345 620ZM358 615L364 617L368 616L363 614ZM367 612L373 614L377 613L372 611ZM521 560L527 562L531 560L526 558ZM576 541L581 543L585 541L580 540ZM404 604L410 606L414 604L409 602ZM396 610L401 613L406 611L400 609ZM464 587L469 589L474 587L468 585ZM482 581L487 583L492 581L487 579ZM536 562L542 564L546 562L541 560ZM541 560L546 562L551 560L545 559ZM559 554L564 556L569 554L564 552ZM564 552L569 554L573 552L568 551ZM582 546L587 548L592 546L586 545ZM369 624L375 626L379 624L374 622ZM401 613L406 615L411 613L406 611ZM437 600L443 602L447 600L442 598ZM451 595L456 597L461 596L456 594ZM492 581L497 583L502 581L496 579ZM505 576L511 578L515 576L510 575ZM510 575L515 576L520 575L515 573ZM524 573L530 575L534 574L529 572ZM552 564L557 565L561 564L556 562ZM394 627L399 630L404 628L399 626ZM408 622L413 625L417 623L412 621ZM444 609L449 612L454 610L449 608ZM499 590L504 592L508 590L503 588ZM653 535L659 536L663 535L658 533ZM408 626L414 628L418 627L413 625ZM431 618L436 620L441 619L436 616ZM445 613L450 615L455 614L449 612ZM458 608L464 610L468 609L463 607ZM472 603L477 605L482 604L477 602ZM518 587L523 589L527 587L522 585Z"/><path fill="#7dbf00" stroke="#7dbf00" stroke-width="0.7" d="M186 554L192 555L196 554L191 553ZM269 531L275 531L279 530L274 529ZM370 502L375 503L379 502L374 501ZM387 497L393 498L397 497L391 496ZM391 496L397 497L401 495L396 494ZM396 494L401 495L406 494L400 493ZM227 545L232 546L237 544L231 544ZM270 533L276 533L280 532L275 531ZM292 526L298 527L302 526L297 525ZM353 509L359 510L363 509L358 508ZM388 499L394 500L398 499L393 498ZM397 497L402 498L407 497L401 495ZM406 494L411 495L415 494L410 493ZM410 493L415 494L420 493L414 492ZM427 488L433 489L437 488L432 487ZM202 554L208 555L212 554L206 553ZM219 549L225 550L229 549L224 548ZM302 526L308 527L312 526L306 525ZM324 520L329 521L334 520L328 519ZM463 481L469 482L473 481L468 480ZM476 477L482 478L486 477L481 476ZM238 546L244 547L248 546L242 545ZM290 532L296 533L300 531L295 531ZM303 528L309 529L313 528L308 527ZM360 512L365 513L370 512L364 511ZM369 510L374 511L379 510L373 509ZM408 499L413 500L418 499L412 498ZM438 491L444 492L448 491L443 489ZM456 486L461 487L466 486L460 485ZM469 482L474 483L479 482L473 481ZM482 478L487 480L492 479L486 477ZM283 536L288 537L293 536L287 535ZM296 533L301 533L306 532L300 531ZM365 513L371 514L375 513L370 512ZM396 505L401 506L406 505L400 504ZM426 497L432 498L436 497L431 495ZM448 491L454 492L458 491L453 489ZM227 554L233 554L237 553L232 552ZM288 537L294 538L298 537L293 536ZM301 533L307 534L311 533L306 532ZM310 531L316 532L320 531L314 530ZM314 530L320 531L324 530L319 529ZM341 523L346 524L350 523L345 522ZM384 511L390 512L394 511L388 510ZM233 554L239 555L243 554L237 553ZM251 550L256 550L260 549L255 548ZM359 520L365 521L369 520L363 519ZM394 511L399 512L404 511L398 510ZM403 508L408 510L412 508L407 507ZM411 506L417 507L421 506L416 505ZM451 498L457 499L461 498L456 497ZM495 486L500 488L505 487L499 485ZM357 526L363 527L367 525L362 524ZM379 520L384 521L389 520L383 519ZM435 505L441 506L445 505L440 504ZM461 498L467 499L471 498L466 497ZM466 497L471 498L475 497L470 496ZM509 485L514 487L519 486L513 484ZM241 558L247 559L251 558L246 557ZM393 519L399 520L403 519L397 517ZM458 502L464 503L468 502L462 500ZM484 495L490 496L494 495L488 494ZM497 491L503 493L507 492L501 490ZM506 489L511 490L516 489L510 488ZM256 557L261 557L266 556L260 556ZM368 527L374 528L378 527L373 526ZM377 525L382 526L387 525L381 524ZM412 516L417 517L421 516L416 515ZM425 513L430 514L434 513L429 512ZM472 501L478 502L482 501L477 499ZM248 561L254 561L258 560L253 559ZM365 531L371 532L375 530L369 530ZM408 520L414 521L418 520L413 518ZM447 510L453 511L457 510L452 508ZM512 493L518 494L522 493L517 492ZM470 506L476 508L480 507L474 505ZM487 502L493 503L497 502L492 501ZM286 555L291 556L295 555L290 554ZM389 529L395 530L399 529L394 528ZM402 526L408 527L412 526L406 525ZM450 514L455 515L460 514L454 513ZM497 502L503 503L507 502L502 501ZM527 495L533 496L537 495L532 494ZM532 494L537 495L542 494L536 492ZM291 556L297 557L301 556L295 555ZM429 522L435 523L439 522L434 521ZM455 515L461 517L465 516L460 514ZM485 508L491 509L495 508L490 507ZM490 507L495 508L499 507L494 506ZM516 500L521 502L525 501L520 499ZM529 497L534 498L538 497L533 496ZM262 566L267 569L271 568L266 565ZM357 542L362 545L366 544L361 541ZM284 565L288 568L293 567L288 564ZM388 538L393 541L397 540L392 537ZM401 535L406 538L410 536L405 534ZM427 528L432 531L436 530L431 527ZM483 514L488 516L493 515L487 513ZM262 575L267 578L271 577L267 574ZM323 559L328 562L332 561L328 558ZM367 548L371 550L376 549L371 547ZM427 532L432 534L437 533L432 531ZM440 529L446 531L450 530L445 527ZM480 518L485 520L489 519L484 517ZM536 504L541 505L546 504L540 503ZM293 571L298 574L302 573L297 570ZM315 565L319 568L324 567L319 564ZM437 533L442 535L446 534L441 532ZM441 532L446 534L451 533L446 531ZM459 527L464 529L468 528L463 526ZM485 520L490 522L494 521L489 519ZM520 511L525 513L529 512L524 510ZM528 509L534 510L538 509L533 508ZM533 508L538 509L542 508L537 507ZM537 507L542 508L547 507L541 505ZM298 574L302 578L307 576L302 573ZM315 570L320 573L324 572L319 568ZM359 558L364 561L368 559L363 557ZM564 502L570 504L574 502L569 501ZM569 501L574 502L578 501L573 500ZM311 575L316 578L320 577L315 574ZM320 573L324 576L329 575L324 572ZM329 570L333 573L338 572L333 569ZM394 552L399 555L404 554L399 551ZM451 536L456 539L461 537L456 535ZM574 502L579 504L584 503L578 501ZM280 588L285 592L289 591L285 587ZM461 537L466 540L470 538L465 536ZM496 528L501 530L505 528L500 526ZM535 516L541 518L545 517L540 515ZM557 510L563 512L567 510L562 509ZM289 591L294 594L298 593L294 589ZM444 546L449 548L453 547L448 545ZM479 536L484 538L488 537L483 535ZM483 535L488 537L493 535L488 533ZM580 507L586 508L590 507L585 505ZM298 593L303 596L307 595L303 591ZM320 586L325 589L329 588L325 585ZM480 539L485 542L489 540L484 538ZM546 520L551 522L556 520L550 519ZM329 588L334 591L339 590L334 587ZM414 563L419 565L423 564L418 561ZM418 561L423 564L428 563L423 560ZM440 555L445 557L450 556L445 553ZM494 539L499 541L503 540L498 538ZM569 516L574 518L579 516L573 515ZM573 515L579 516L583 515L578 514ZM299 602L303 606L307 604L303 601ZM392 574L397 576L401 575L396 572ZM401 571L406 574L410 572L405 570ZM414 567L419 569L423 568L419 565ZM459 553L464 556L468 554L463 552ZM503 540L508 542L513 540L508 538ZM601 510L606 511L611 510L605 508ZM464 556L469 558L473 557L468 554ZM495 546L500 548L504 547L499 544ZM517 539L522 541L527 540L522 538ZM522 538L527 540L531 538L526 536ZM526 536L531 538L536 537L531 535ZM580 519L585 521L589 520L584 518ZM597 514L603 515L607 514L602 513ZM321 605L326 608L330 607L325 603ZM334 601L339 604L343 602L339 599ZM352 595L357 598L361 597L357 593ZM366 591L370 594L375 592L370 589ZM379 586L384 589L388 588L384 585ZM433 569L438 572L442 570L437 568ZM518 542L523 544L527 543L522 541ZM531 538L536 540L541 539L536 537ZM536 537L541 539L545 537L540 535ZM330 607L335 610L339 609L334 605ZM375 592L380 595L384 594L379 591ZM388 588L393 591L398 589L393 586ZM424 576L429 579L434 578L429 575ZM438 572L443 575L447 573L442 570ZM510 549L515 551L519 549L514 547ZM595 521L600 523L605 521L599 520ZM321 614L326 618L330 616L326 613ZM344 607L348 610L353 609L348 606ZM353 604L357 607L362 606L357 603ZM398 589L402 592L407 591L402 588ZM407 586L411 589L416 588L411 585ZM501 555L506 558L511 556L506 554ZM506 554L511 556L515 555L510 552ZM587 527L592 529L596 527L591 526ZM609 520L614 521L619 520L614 518ZM618 517L623 518L628 517L623 515ZM317 621L322 624L326 622L321 619ZM335 615L340 618L344 616L339 613ZM348 610L353 613L358 611L353 609ZM366 604L371 607L376 605L371 603ZM420 586L425 589L430 587L425 585ZM520 553L525 555L529 553L524 552ZM542 546L548 547L552 546L547 544ZM614 521L620 523L624 521L619 520ZM371 607L376 609L381 608L376 605ZM394 599L399 601L404 600L398 598ZM403 596L408 598L413 597L407 595ZM425 589L431 591L435 589L430 587ZM430 587L435 589L440 587L435 585ZM489 567L494 569L499 567L493 566ZM520 556L526 558L530 557L525 555ZM579 537L585 538L589 537L584 535ZM588 534L594 535L598 534L593 532ZM372 611L377 613L382 611L376 609ZM449 584L454 586L459 585L453 583ZM480 574L486 576L490 574L485 572ZM530 557L536 558L540 557L535 555ZM557 547L563 549L567 548L562 546ZM603 532L608 534L613 532L607 531ZM368 616L373 618L378 617L373 614ZM395 607L400 609L405 607L400 605ZM422 597L428 599L432 598L427 596ZM513 566L518 568L523 566L517 565ZM563 549L568 551L573 549L567 548ZM400 609L406 611L410 609L405 607ZM419 603L424 605L428 603L423 601ZM455 590L460 592L465 590L459 588ZM477 582L483 584L487 583L482 581ZM545 559L551 560L555 559L550 557ZM568 551L573 552L578 551L573 549ZM591 543L596 545L601 543L595 541ZM613 535L619 537L623 535L618 534ZM378 620L384 623L388 621L383 619ZM397 614L402 616L406 615L401 613ZM410 609L415 612L420 610L415 608ZM424 605L429 607L434 605L428 603ZM428 603L434 605L438 604L433 601ZM515 573L520 575L524 573L519 571ZM524 570L529 572L533 570L528 568ZM528 568L533 570L538 569L533 567ZM537 565L542 567L547 565L542 564ZM365 629L371 631L375 630L370 628ZM393 620L398 622L402 620L397 618ZM402 616L407 619L412 617L406 615ZM406 615L412 617L416 615L411 613ZM547 565L552 567L557 565L552 564ZM416 615L421 618L426 616L421 614ZM434 609L439 611L444 609L439 607ZM480 593L485 595L489 593L484 591ZM484 591L489 593L494 592L489 590ZM525 577L530 579L535 577L530 575ZM539 572L544 574L549 572L543 570ZM575 559L580 561L585 559L580 557ZM358 640L363 643L367 641L362 639ZM362 639L367 641L372 639L367 637ZM426 616L431 618L436 616L430 614ZM458 605L463 607L467 605L462 603ZM462 603L467 605L472 603L467 601ZM521 582L527 584L531 582L526 580ZM367 641L373 643L377 642L372 639ZM386 634L391 637L395 635L390 633ZM395 631L400 633L404 632L399 630ZM467 605L473 607L477 605L472 603ZM499 594L505 596L509 594L504 592ZM531 582L536 584L541 582L536 580ZM540 579L546 581L550 579L545 577ZM558 572L564 574L568 572L563 571Z"/><path fill="#ffe600" stroke="#ffe600" stroke-width="0.7" d="M195 552L201 552L205 551L199 551ZM208 548L214 549L218 547L212 547ZM230 542L235 543L240 541L234 541ZM252 536L257 536L262 535L256 534ZM256 534L262 535L266 534L260 533ZM287 526L292 526L297 525L291 524ZM322 516L327 517L331 515L326 514ZM326 514L331 515L336 514L330 513ZM335 512L340 513L345 512L339 511ZM356 506L362 507L366 505L361 504ZM374 501L379 502L384 500L378 499ZM174 560L180 560L184 559L179 559ZM218 547L224 548L228 547L222 546ZM262 535L267 536L272 535L266 534ZM283 529L289 530L293 529L288 528ZM301 524L306 525L311 524L305 523ZM310 521L315 522L320 521L314 520ZM336 514L341 515L346 514L340 513ZM340 513L346 514L350 513L345 512ZM358 508L363 509L368 508L362 507ZM379 502L385 503L389 502L384 500ZM419 491L424 492L429 491L423 489ZM280 532L286 533L290 532L285 531ZM285 531L290 532L295 531L289 530ZM394 500L399 501L404 500L398 499ZM468 480L473 481L478 480L472 478ZM255 541L261 542L265 541L260 540ZM373 509L379 510L383 509L377 508ZM447 488L453 489L457 488L451 487ZM204 558L210 558L214 557L209 557ZM213 555L219 556L223 555L218 554ZM235 549L241 550L245 549L239 548ZM248 546L254 546L258 545L252 545ZM413 500L419 501L423 500L418 499ZM214 557L220 558L224 557L219 556ZM293 536L298 537L303 535L297 535ZM297 535L303 535L307 534L301 533ZM414 503L420 504L424 503L419 501ZM198 564L204 564L208 563L203 562ZM207 561L213 562L217 561L211 560ZM237 553L243 554L247 553L242 552ZM307 534L313 535L317 534L311 533ZM320 531L326 532L330 530L324 530ZM350 523L356 523L360 522L355 521ZM213 562L218 562L223 561L217 561ZM243 554L249 554L253 553L247 553ZM247 553L253 553L257 552L252 551ZM417 507L422 508L427 507L421 506ZM491 488L496 489L500 488L495 486ZM214 563L220 564L224 563L218 562ZM253 553L259 554L263 553L257 552ZM279 546L285 547L289 546L283 545ZM288 544L293 545L298 544L292 543ZM305 539L311 540L315 539L309 538ZM392 516L397 517L402 516L396 515ZM444 503L449 504L454 503L448 502ZM453 500L458 502L462 500L457 499ZM483 492L488 494L493 493L487 491ZM289 546L295 547L299 545L293 545ZM293 545L299 545L303 544L298 544ZM324 537L329 538L334 536L328 536ZM328 536L334 536L338 535L332 534ZM415 513L420 514L425 513L419 512ZM419 512L425 513L429 512L423 511ZM432 508L438 510L442 508L436 507ZM238 561L244 562L248 561L243 560ZM260 556L266 556L270 555L264 554ZM299 545L305 546L309 545L303 544ZM316 541L322 542L326 541L321 540ZM347 533L352 534L357 533L351 532ZM244 562L250 562L254 561L248 561ZM300 547L306 548L310 547L305 546ZM326 541L332 541L336 540L331 540ZM430 514L436 515L440 514L434 513ZM452 508L457 510L462 509L456 507ZM473 503L479 504L483 503L478 502ZM289 552L294 553L298 552L293 551ZM297 550L303 551L307 550L302 549ZM362 534L368 535L372 534L366 533ZM444 513L450 514L454 513L449 512ZM466 507L471 509L476 508L470 506ZM242 566L248 567L252 565L247 565ZM303 551L308 552L313 551L307 550ZM342 541L347 542L352 541L346 540ZM359 537L365 538L369 537L363 536ZM376 532L382 533L386 532L381 531ZM265 562L271 563L275 562L270 561ZM274 560L279 561L284 560L278 559ZM330 546L335 547L340 546L334 545ZM352 541L357 542L361 541L356 540ZM373 536L379 537L383 536L377 534ZM395 530L400 532L404 530L399 529ZM408 527L413 528L417 527L412 526ZM416 525L422 526L426 525L421 524ZM438 520L443 521L448 520L442 518ZM451 516L456 518L461 517L455 515ZM520 499L525 501L530 500L524 498ZM279 561L284 565L288 564L284 560ZM322 551L327 554L332 553L327 550ZM344 545L349 548L353 547L348 544ZM379 537L383 539L388 538L383 536ZM392 534L396 536L401 535L396 533ZM400 532L405 534L409 533L404 530ZM435 523L440 525L444 524L439 522ZM258 571L262 575L267 574L262 570ZM319 556L323 559L328 558L323 555ZM336 551L341 554L345 553L340 550ZM340 550L345 553L349 552L344 549ZM379 541L384 543L388 542L383 539ZM392 537L397 540L401 539L396 536ZM461 520L467 522L471 521L466 519ZM297 566L302 569L306 568L301 565ZM349 552L354 555L358 554L354 551ZM276 576L280 579L285 578L280 575ZM337 560L341 563L346 561L341 558ZM276 580L280 584L285 583L280 579ZM324 567L329 570L333 569L328 566ZM376 553L381 556L386 555L381 552ZM481 525L486 527L491 526L486 524ZM364 561L368 564L373 562L368 559ZM289 586L294 589L298 588L294 585ZM360 566L364 569L369 568L364 565ZM373 562L378 565L382 564L377 561ZM456 539L461 541L466 540L461 537ZM298 588L303 591L307 590L303 587ZM373 566L378 569L382 568L378 565ZM391 561L396 564L400 563L395 560ZM408 556L413 559L418 558L413 555ZM413 555L418 558L422 556L417 554ZM457 542L462 545L466 543L461 541ZM294 594L298 597L303 596L298 593ZM400 567L405 570L410 568L405 565ZM445 553L450 556L454 555L449 552ZM458 549L463 552L468 550L463 548ZM489 540L494 542L499 541L494 539ZM374 579L379 582L383 581L379 578ZM445 557L450 560L455 558L450 556ZM468 550L473 553L477 551L472 549ZM494 542L499 544L504 543L499 541ZM321 600L325 603L330 602L325 599ZM406 574L410 576L415 575L410 572ZM432 565L437 568L442 566L437 564ZM325 603L330 607L334 605L330 602ZM460 561L465 563L469 562L464 559ZM308 614L312 617L317 616L312 613ZM474 560L479 563L483 561L478 559ZM402 592L407 595L412 593L407 591ZM466 571L471 573L475 572L470 570ZM462 580L468 582L472 580L467 578ZM517 565L523 566L527 565L522 563ZM364 621L369 624L374 622L369 620Z"/><path fill="#ffff00" stroke="#ffff00" stroke-width="0.7" d="M217 546L222 546L227 545L221 544ZM226 543L231 544L235 543L230 542ZM243 538L249 539L253 538L247 537ZM295 523L301 524L305 523L300 522ZM304 521L310 521L314 520L308 519ZM413 489L419 491L423 489L418 488ZM431 484L436 486L441 484L435 483ZM435 483L441 484L445 483L439 482ZM444 481L449 482L454 481L448 479ZM461 476L467 477L471 476L466 474ZM323 518L328 519L333 517L327 517ZM345 512L350 513L354 511L349 510ZM445 483L450 484L455 483L449 482ZM454 481L459 482L463 481L458 479ZM458 479L463 481L468 480L462 478ZM228 547L234 548L238 546L232 546ZM250 541L255 541L260 540L254 540ZM263 537L268 538L273 537L267 536ZM341 515L347 516L351 515L346 514ZM346 514L351 515L356 514L350 513ZM415 494L421 495L425 494L420 493ZM208 555L213 555L218 554L212 554ZM221 551L226 552L231 551L225 550ZM282 534L287 535L291 534L286 533ZM308 527L313 528L318 527L312 526ZM356 514L361 515L365 513L360 512ZM382 506L387 507L392 506L386 505ZM386 505L392 506L396 505L390 504ZM395 503L400 504L405 503L399 501ZM443 489L448 491L453 489L447 488ZM244 547L249 548L254 546L248 546ZM252 545L258 545L262 544L257 543ZM335 522L341 523L345 522L339 521ZM374 511L380 512L384 511L379 510ZM387 507L393 509L397 507L392 506ZM435 494L441 495L445 494L439 493ZM470 485L475 486L480 485L474 483ZM219 556L224 557L229 555L223 555ZM271 542L277 542L281 541L275 541ZM280 539L285 540L290 539L284 538ZM328 526L333 527L337 526L332 525ZM345 522L350 523L355 521L349 520ZM367 516L372 517L377 516L371 514ZM454 492L459 493L463 492L458 491ZM458 491L463 492L468 491L462 490ZM462 490L468 491L472 490L467 488ZM268 545L273 546L278 544L272 544ZM303 535L308 536L313 535L307 534ZM355 521L360 522L365 521L359 520ZM429 501L434 503L438 501L433 500ZM455 494L460 496L465 494L459 493ZM208 563L214 563L218 562L213 562ZM273 546L279 546L283 545L278 544ZM313 535L318 536L322 535L317 534ZM317 534L322 535L327 534L321 533ZM330 530L335 531L340 530L334 529ZM343 527L349 528L353 527L347 526ZM347 526L353 527L357 526L352 525ZM395 513L401 514L405 513L399 512ZM438 501L444 503L448 502L443 500ZM469 493L474 495L479 493L473 492ZM236 558L241 558L246 557L240 557ZM270 549L276 549L280 548L275 547ZM301 541L306 541L311 540L305 539ZM322 535L328 536L332 534L327 534ZM327 534L332 534L337 533L331 532ZM340 530L345 531L350 530L344 529ZM344 529L350 530L354 529L349 528ZM375 521L380 522L384 521L379 520ZM418 510L423 511L428 510L422 508ZM492 490L497 491L501 490L496 489ZM285 547L290 548L295 547L289 546ZM350 530L355 531L360 530L354 529ZM423 511L429 512L433 511L428 510ZM441 506L446 507L451 506L445 505ZM510 488L516 489L520 488L514 487ZM230 563L235 564L240 563L234 562ZM247 559L253 559L257 558L251 558ZM329 538L335 538L339 537L334 536ZM338 535L344 536L348 535L342 534ZM464 503L469 504L473 503L468 502ZM477 499L482 501L486 500L481 498ZM227 566L232 567L237 566L231 565ZM274 554L280 555L284 553L279 553ZM322 542L327 543L332 541L326 541ZM348 535L353 536L358 535L352 534ZM482 501L487 502L492 501L486 500ZM254 561L260 562L264 561L258 560ZM280 555L286 555L290 554L284 553ZM319 545L324 545L329 544L323 544ZM323 544L329 544L333 543L327 543ZM336 540L342 541L346 540L340 539ZM349 537L355 538L359 537L353 536ZM358 535L363 536L368 535L362 534ZM375 530L381 531L385 530L379 529ZM414 521L419 522L424 521L418 520ZM423 518L428 519L432 518L427 517ZM509 497L515 498L519 497L513 495ZM268 560L274 560L278 559L273 558ZM368 535L373 536L377 534L372 534ZM432 518L438 520L442 518L437 517ZM295 555L301 556L305 555L300 554ZM464 513L469 514L474 513L468 512ZM275 562L280 566L284 565L279 561ZM314 553L319 556L323 555L318 552ZM331 549L336 551L340 550L335 547ZM543 496L548 498L552 497L547 495ZM280 566L284 569L288 568L284 565ZM297 561L301 565L306 563L301 560ZM327 554L332 557L336 556L332 553ZM370 543L375 545L380 544L375 542ZM396 536L401 539L406 538L401 535ZM414 532L419 534L423 533L418 531ZM453 522L458 524L462 523L457 521ZM301 565L306 568L310 567L306 563ZM328 558L332 561L337 560L332 557ZM362 549L367 552L371 550L367 548ZM375 545L380 548L385 547L380 544ZM406 538L411 540L415 539L410 536ZM436 530L441 532L446 531L440 529ZM510 511L515 512L520 511L514 509ZM284 573L289 577L293 576L289 572ZM297 570L302 573L306 572L302 569ZM341 558L346 561L350 560L345 557ZM345 557L350 560L354 559L350 556ZM363 553L368 555L372 554L367 552ZM411 540L416 542L420 541L415 539ZM450 530L455 532L459 531L454 528ZM511 513L516 515L520 514L515 512ZM311 571L315 574L320 573L315 570ZM333 565L337 568L342 567L337 564ZM403 546L407 549L412 547L407 545ZM411 544L416 546L421 545L416 542ZM424 540L429 543L434 541L429 539ZM433 538L438 540L442 539L437 537ZM285 583L289 586L294 585L289 581ZM337 568L342 571L346 570L342 567ZM350 564L355 567L360 566L355 563ZM359 562L364 565L368 564L364 561ZM434 541L439 544L443 542L438 540ZM460 534L465 536L469 535L464 533ZM346 570L351 573L356 571L351 569ZM351 569L356 571L360 570L355 567ZM355 567L360 570L364 569L360 566ZM386 559L391 561L395 560L390 557ZM404 554L408 556L413 555L408 552ZM421 549L426 551L430 550L426 547ZM452 540L457 542L461 541L456 539ZM491 529L497 531L501 530L496 528ZM351 573L356 576L360 574L356 571ZM360 570L365 573L369 572L364 569ZM382 564L387 567L391 565L386 563ZM386 563L391 565L396 564L391 561ZM400 559L404 561L409 560L404 558ZM422 552L427 555L431 554L426 551ZM426 551L431 554L435 552L430 550ZM439 547L444 550L449 548L444 546ZM453 544L458 546L462 545L457 542ZM356 576L361 579L365 577L360 574ZM396 564L400 567L405 565L400 563ZM431 554L436 556L440 555L435 552ZM458 546L463 548L467 547L462 545ZM294 604L299 607L303 606L299 602ZM325 594L330 597L334 596L330 593ZM334 591L339 595L343 593L339 590ZM370 580L374 583L379 582L374 579ZM476 548L481 550L486 549L481 546ZM388 579L393 582L397 581L392 578ZM397 576L402 579L406 578L401 575ZM410 572L415 575L419 574L415 571ZM428 567L433 569L437 568L432 565ZM468 554L473 557L478 555L473 553ZM451 564L456 566L460 565L455 562ZM473 557L478 559L483 557L478 555ZM451 568L456 570L461 569L456 566ZM487 556L492 558L497 557L492 555ZM357 603L362 606L366 604L362 601ZM326 618L331 621L335 619L330 616ZM425 585L430 587L435 585L429 583ZM565 538L570 540L575 538L569 536ZM335 619L340 621L345 620L340 618ZM516 558L521 560L526 558L520 556ZM350 622L355 624L360 623L354 621ZM391 608L396 610L400 609L395 607ZM400 605L405 607L410 606L404 604ZM468 582L473 584L477 582L472 580ZM495 572L500 574L505 573L499 571ZM369 620L374 622L378 620L373 618ZM405 607L410 609L415 608L410 606ZM473 584L478 586L483 584L477 582ZM374 622L379 624L384 623L378 620ZM465 590L470 592L474 591L469 589ZM465 594L471 596L475 594L470 592ZM483 588L489 590L493 588L488 586ZM476 598L481 600L486 598L480 596ZM567 566L572 567L577 566L571 564Z"/><path fill="#ffcc00" stroke="#ffcc00" stroke-width="0.7" d="M234 541L240 541L244 540L239 539ZM260 533L266 534L270 533L265 532ZM291 524L297 525L301 524L295 523ZM300 522L305 523L310 521L304 521ZM266 534L272 535L276 533L270 533ZM331 515L337 516L341 515L336 514ZM414 492L420 493L424 492L419 491ZM298 527L303 528L308 527L302 526ZM311 524L316 525L321 523L315 522ZM242 545L248 546L252 545L247 544ZM251 543L257 543L261 542L255 541ZM295 531L300 531L305 530L299 529ZM299 529L305 530L309 529L303 528ZM316 525L322 525L326 524L321 523ZM187 563L193 563L197 562L191 561ZM287 535L293 536L297 535L291 534ZM444 492L449 493L454 492L448 491ZM483 481L488 482L493 481L487 480ZM210 558L216 559L220 558L214 557ZM241 550L246 551L251 550L245 549ZM275 541L281 541L285 540L280 539ZM336 524L342 525L346 524L341 523ZM432 498L437 499L442 498L436 497ZM277 542L282 543L287 542L281 541ZM324 530L330 530L334 529L329 528ZM363 519L369 520L373 519L368 518ZM385 513L391 514L395 513L390 512ZM269 547L275 547L279 546L273 546ZM304 537L309 538L314 537L308 536ZM308 536L314 537L318 536L313 535ZM352 525L357 526L362 524L356 523ZM382 517L388 518L392 516L386 515ZM421 506L427 507L431 506L425 505ZM486 489L492 490L496 489L491 488ZM314 537L319 538L324 537L318 536ZM366 523L371 524L376 523L370 522ZM470 496L475 497L480 496L474 495ZM220 564L225 564L230 563L224 563ZM354 529L360 530L364 529L358 528ZM520 488L525 490L530 489L524 487ZM235 564L241 564L245 563L240 563ZM253 559L258 560L263 559L257 558ZM257 558L263 559L267 558L261 557ZM318 543L323 544L327 543L322 542ZM310 547L316 548L320 547L314 546ZM397 525L402 526L406 525L401 524ZM294 553L300 554L304 553L298 552ZM355 538L360 539L365 538L359 537ZM381 531L386 532L390 531L385 530ZM385 530L390 531L395 530L389 529ZM428 519L434 521L438 520L432 518ZM304 553L309 554L314 553L308 552ZM321 548L327 550L331 549L326 547ZM334 545L340 546L344 545L339 544ZM403 528L409 529L413 528L408 527ZM366 544L371 547L375 545L370 543ZM271 572L276 576L280 575L275 571ZM341 554L345 557L350 556L345 553ZM345 553L350 556L354 555L349 552ZM397 540L402 542L406 541L401 539ZM449 526L454 528L459 527L454 525ZM454 525L459 527L463 526L458 524ZM263 579L267 583L271 582L267 578ZM380 548L385 551L389 550L385 547ZM446 531L451 533L455 532L450 530ZM354 559L359 562L364 561L359 558ZM363 557L368 559L372 558L368 555ZM381 552L386 555L390 553L385 551ZM407 545L412 547L416 546L411 544ZM377 557L382 560L386 559L381 556ZM412 547L417 550L421 549L416 546ZM442 539L447 541L452 540L447 538ZM382 560L386 563L391 561L386 559ZM303 587L307 590L312 589L307 585ZM289 595L294 599L298 597L294 594ZM316 587L321 591L325 589L320 586ZM391 565L396 568L400 567L396 564ZM400 563L405 565L409 564L404 561ZM418 558L423 560L427 559L422 556ZM396 572L401 575L406 574L401 571ZM436 560L441 563L446 561L441 559ZM450 556L455 558L459 557L454 555ZM463 552L468 554L473 553L468 550ZM401 575L406 578L410 576L406 574ZM450 560L455 562L460 561L455 558ZM469 558L474 560L478 559L473 557ZM549 532L554 534L559 533L554 531ZM420 578L425 580L429 579L424 576ZM456 574L462 576L466 575L461 573ZM326 622L331 624L336 623L331 621ZM381 608L386 610L391 608L385 606ZM435 589L441 591L445 590L440 587ZM399 626L404 628L408 626L403 624Z"/><path fill="#ff9d00" stroke="#ff9d00" stroke-width="0.7" d="M348 508L353 509L358 508L352 507ZM378 499L384 500L388 499L383 498ZM409 491L414 492L419 491L413 489ZM240 541L245 542L250 541L244 540ZM362 507L368 508L372 506L366 505ZM224 548L229 549L234 548L228 547ZM245 542L251 543L255 541L250 541ZM446 486L451 487L456 486L450 484ZM478 480L483 481L487 480L482 478ZM196 560L201 561L206 560L200 559ZM231 551L236 551L241 550L235 549ZM309 529L314 530L319 529L313 528ZM284 538L290 539L294 538L288 537ZM306 532L311 533L316 532L310 531ZM323 528L329 528L333 527L328 526ZM332 525L337 526L342 525L336 524ZM349 520L355 521L359 520L354 519ZM346 524L352 525L356 523L350 523ZM230 557L236 558L240 557L234 556ZM287 542L292 543L296 542L291 541ZM291 541L296 542L301 541L295 540ZM300 539L305 539L309 538L304 537ZM399 512L405 513L409 512L404 511ZM283 545L289 546L293 545L288 544ZM335 531L341 532L345 531L340 530ZM311 540L316 541L321 540L315 539ZM367 525L373 526L377 525L371 524ZM371 524L377 525L381 524L376 523ZM225 564L231 565L235 564L230 563ZM351 532L357 533L361 532L355 531ZM390 522L395 523L400 522L394 521ZM361 532L366 533L371 532L365 531ZM465 505L470 506L474 505L469 504ZM237 566L242 566L247 565L241 564ZM371 532L376 532L381 531L375 530ZM388 527L394 528L398 527L392 526ZM298 552L304 553L308 552L303 551ZM311 549L317 549L321 548L316 548ZM316 548L321 548L326 547L320 547ZM320 547L326 547L330 546L324 545ZM329 544L334 545L339 544L333 543ZM489 504L494 506L498 505L493 503ZM244 568L249 569L253 568L248 567ZM308 552L314 553L318 552L313 551ZM258 567L262 570L267 569L262 566ZM404 530L409 533L414 532L409 529ZM267 569L271 572L275 571L271 568ZM323 555L328 558L332 557L327 554ZM332 553L336 556L341 554L336 551ZM349 548L354 551L358 550L353 547ZM375 542L380 544L384 543L379 541ZM423 533L428 535L432 534L427 532ZM271 577L276 580L280 579L276 576ZM389 546L394 548L398 547L393 545ZM337 564L342 567L346 566L341 563ZM420 541L425 544L429 543L424 540ZM302 582L307 585L311 584L307 581ZM347 574L351 577L356 576L351 573ZM430 550L435 552L440 551L435 549ZM334 582L338 585L343 584L338 581ZM431 557L436 560L441 559L436 556ZM459 557L464 559L469 558L464 556Z"/><path fill="#50a800" stroke="#50a800" stroke-width="0.7" d="M361 504L366 505L371 504L365 503ZM180 560L186 561L190 560L184 559ZM249 548L255 548L259 547L254 546ZM467 488L472 490L476 489L471 487ZM272 544L278 544L282 543L277 542ZM404 511L409 512L414 511L408 510ZM430 504L435 505L440 504L434 503ZM465 494L470 496L474 495L469 493ZM504 484L509 485L513 484L508 483ZM210 565L215 565L220 564L214 563ZM479 493L484 495L488 494L483 492ZM397 517L403 519L407 517L402 516ZM481 498L486 500L491 499L485 497ZM498 494L504 495L508 494L503 493ZM503 493L508 494L512 493L507 492ZM491 499L496 500L500 499L495 497ZM241 564L247 565L251 564L245 563ZM526 492L532 494L536 492L531 491ZM506 500L511 501L516 500L510 499ZM472 511L478 512L482 511L477 510ZM524 498L530 500L534 498L529 497ZM537 495L543 496L547 495L542 494ZM508 505L513 507L518 505L512 504ZM530 500L535 501L539 500L534 498ZM479 515L484 517L488 516L483 514ZM548 498L553 499L558 498L552 497ZM493 515L498 517L502 516L497 514ZM523 507L528 509L533 508L527 506ZM545 502L550 503L554 502L549 500ZM549 500L554 502L559 501L553 499ZM553 499L559 501L563 500L558 498ZM289 572L293 576L298 574L293 571ZM493 518L499 520L503 519L498 517ZM455 532L460 534L464 533L459 531ZM464 529L469 532L473 530L468 528ZM551 506L556 507L561 506L555 505ZM508 521L513 523L518 521L513 519ZM526 516L531 518L535 516L530 515ZM368 564L373 566L378 565L373 562ZM487 530L492 532L497 531L491 529ZM505 528L511 530L515 529L510 527ZM285 597L290 600L294 599L289 595ZM409 560L414 563L418 561L413 559ZM511 530L516 532L520 531L515 529ZM519 528L525 530L529 528L524 526ZM542 521L547 523L551 522L546 520ZM581 509L587 511L591 510L586 508ZM316 592L321 595L325 594L321 591ZM551 522L557 523L561 522L556 520ZM560 519L565 521L570 519L565 518ZM530 531L535 533L539 532L534 530ZM539 529L544 531L548 529L543 527ZM548 526L553 528L557 526L552 525ZM303 606L308 609L312 608L307 604ZM330 597L334 601L339 599L334 596ZM370 585L375 588L379 586L374 583ZM379 582L384 585L388 584L383 581ZM499 544L504 547L509 545L504 543ZM548 529L554 531L558 530L553 528ZM491 551L496 553L501 552L495 549ZM500 548L505 550L510 549L504 547ZM513 544L518 546L523 544L518 542ZM545 534L550 536L554 534L549 532ZM580 522L586 524L590 523L585 521ZM585 521L590 523L595 521L589 520ZM612 513L617 514L622 513L616 511ZM348 601L353 604L357 603L352 599ZM357 598L362 601L366 600L361 597ZM527 543L533 545L537 544L532 542ZM568 530L573 532L578 530L572 528ZM577 527L582 529L587 527L581 526ZM312 617L317 621L321 619L317 616ZM380 595L384 598L389 597L384 594ZM389 592L393 595L398 594L393 591ZM492 558L497 561L502 559L497 557ZM497 557L502 559L506 558L501 555ZM533 545L538 547L542 546L537 544ZM546 541L551 543L556 541L551 539ZM555 538L560 539L565 538L560 536ZM564 535L569 536L574 535L569 533ZM569 533L574 535L578 533L573 532ZM321 619L326 622L331 621L326 618ZM353 609L358 611L362 610L357 607ZM447 577L453 579L457 578L452 576ZM583 532L588 534L593 532L587 530ZM340 618L345 620L349 618L344 616ZM448 581L453 583L458 581L453 579ZM466 575L471 577L476 575L471 573ZM511 560L517 561L521 560L516 558ZM543 549L548 551L553 549L548 547ZM552 546L557 547L562 546L557 544ZM557 544L562 546L566 544L561 543ZM633 518L639 520L643 518L638 517ZM553 549L558 551L563 549L557 547ZM472 580L477 582L482 581L477 579ZM481 577L487 579L491 577L486 576ZM536 558L541 560L545 559L540 557ZM540 557L545 559L550 557L545 555ZM572 546L577 548L582 546L576 544ZM581 543L586 545L591 543L585 541ZM585 541L591 543L595 541L590 540ZM337 631L342 633L347 632L342 629ZM342 629L347 632L351 630L346 628ZM355 624L360 627L365 625L360 623ZM505 573L510 575L515 573L509 571ZM532 563L537 565L542 564L536 562ZM550 557L555 559L560 557L555 556ZM604 538L610 540L614 538L609 537ZM342 633L347 635L352 634L347 632ZM383 619L388 621L393 620L388 617ZM415 608L420 610L424 608L419 606ZM578 551L583 553L588 551L583 549ZM583 549L588 551L592 549L587 548ZM587 548L592 549L597 548L592 546ZM596 545L601 546L606 545L601 543ZM619 537L624 538L629 537L623 535ZM623 535L629 537L633 535L628 534ZM628 534L633 535L638 533L632 532ZM646 527L651 529L656 527L651 526ZM438 604L443 606L448 604L443 602ZM488 586L493 588L498 586L493 584ZM497 583L502 585L507 583L502 581ZM520 575L525 577L530 575L524 573ZM542 567L548 569L552 567L547 565ZM638 533L643 535L648 533L642 532ZM357 636L362 639L367 637L362 635ZM439 607L444 609L449 608L443 606ZM457 601L462 603L467 601L462 599ZM462 599L467 601L471 600L466 598ZM466 598L471 600L476 598L471 596ZM471 596L476 598L480 596L475 594ZM530 575L535 577L539 575L534 574ZM552 567L558 569L562 567L557 565ZM561 564L567 566L571 564L566 562ZM571 561L576 562L580 561L575 559ZM580 557L585 559L589 558L584 556ZM593 553L599 554L603 553L598 551ZM634 538L640 540L644 538L639 537ZM661 528L667 530L671 528L666 527ZM376 634L381 636L386 634L380 632ZM412 621L417 623L422 621L417 619ZM417 619L422 621L427 620L421 618ZM480 596L486 598L490 597L485 595ZM485 595L490 597L495 595L489 593ZM494 592L499 594L504 592L499 590ZM562 567L568 569L572 567L567 566ZM594 556L599 558L604 556L599 554ZM404 628L409 630L414 628L408 626ZM449 612L455 614L459 612L454 610ZM463 607L468 609L473 607L467 605ZM486 598L491 600L495 599L490 597ZM536 580L541 582L546 581L540 579ZM545 577L550 579L555 577L549 576ZM554 574L559 576L564 574L558 572ZM568 569L573 571L577 569L572 567ZM572 567L577 569L582 567L577 566ZM586 562L591 564L596 562L590 561ZM672 531L678 533L682 531L677 530Z"/><path fill="#5aad00" stroke="#5aad00" stroke-width="0.7" d="M365 503L371 504L375 503L370 502ZM209 550L215 551L219 549L214 549ZM423 489L429 491L433 489L427 488ZM441 484L446 486L450 484L445 483ZM449 482L455 483L459 482L454 481ZM203 556L209 557L213 555L208 555ZM409 501L414 503L419 501L413 500ZM487 480L493 481L497 480L492 479ZM442 498L447 499L451 498L446 497ZM463 492L469 493L473 492L468 491ZM239 555L244 555L249 554L243 554ZM460 496L466 497L470 496L465 494ZM353 527L358 528L363 527L357 526ZM396 515L402 516L406 515L401 514ZM341 532L347 533L351 532L345 531ZM402 516L407 517L412 516L406 515ZM480 496L485 497L490 496L484 495ZM514 487L520 488L524 487L519 486ZM485 497L491 499L495 497L490 496ZM516 489L521 491L525 490L520 488ZM495 497L500 499L505 498L499 496ZM499 496L505 498L509 497L504 495ZM504 495L509 497L513 495L508 494ZM276 556L281 556L286 555L280 555ZM431 516L437 517L441 516L436 515ZM440 514L445 515L450 514L444 513ZM505 498L510 499L515 498L509 497ZM513 495L519 497L523 496L518 494ZM467 510L472 511L477 510L471 509ZM480 507L485 508L490 507L484 505ZM248 567L253 568L258 567L252 565ZM503 503L508 505L512 504L507 502ZM495 508L500 510L505 509L499 507ZM409 533L414 535L419 534L414 532ZM487 513L493 515L497 514L492 512ZM526 503L532 505L536 504L531 502ZM267 574L271 577L276 576L271 572ZM445 527L450 530L454 528L449 526ZM462 523L467 525L472 524L467 522ZM488 516L493 518L498 517L493 515ZM519 508L524 510L528 509L523 507ZM306 568L311 571L315 570L310 567ZM358 554L363 557L368 555L363 553ZM463 526L468 528L472 527L467 525ZM554 502L560 503L564 502L559 501ZM559 501L564 502L569 501L563 500ZM306 572L311 575L315 574L311 571ZM468 528L473 530L478 529L472 527ZM499 520L504 522L508 521L503 519ZM507 518L513 519L517 518L512 516ZM525 513L530 515L535 513L529 512ZM560 503L565 505L570 504L564 502ZM272 586L276 590L280 588L276 585ZM289 581L294 585L298 583L293 580ZM342 567L346 570L351 569L346 566ZM421 545L426 547L430 546L425 544ZM561 506L566 508L571 506L565 505ZM298 583L303 587L307 585L302 582ZM329 575L333 578L338 577L333 573ZM500 526L505 528L510 527L505 525ZM505 525L510 527L514 526L509 524ZM549 513L554 514L558 513L553 511ZM553 511L558 513L563 512L557 510ZM342 575L347 578L351 577L347 574ZM501 530L506 532L511 530L505 528ZM545 517L550 519L555 517L550 516ZM550 516L555 517L559 516L554 514ZM558 513L564 515L568 513L563 512ZM307 590L312 593L316 592L312 589ZM343 580L347 583L352 581L347 578ZM537 522L542 524L547 523L542 521ZM564 515L569 516L573 515L568 513ZM374 575L379 578L383 576L378 573ZM409 564L414 567L419 565L414 563ZM480 543L485 545L490 544L485 542ZM485 542L490 544L494 542L489 540ZM547 523L552 525L557 523L551 522ZM591 510L597 511L601 510L596 508ZM312 598L316 601L321 600L316 597ZM330 593L334 596L339 595L334 591ZM499 541L504 543L508 542L503 540ZM552 525L557 526L562 525L557 523ZM307 604L312 608L316 606L312 603ZM339 595L343 598L348 596L343 593ZM348 592L352 595L357 593L352 590ZM606 511L612 513L616 511L611 510ZM308 609L312 613L317 611L312 608ZM361 592L366 595L370 594L366 591ZM384 585L388 588L393 586L388 584ZM455 562L460 565L465 563L460 561ZM504 547L510 549L514 547L509 545ZM522 541L527 543L532 542L527 540ZM527 540L532 542L536 540L531 538ZM554 531L559 533L563 531L558 530ZM603 515L608 517L613 515L607 514ZM607 514L613 515L617 514L612 513ZM317 611L321 614L326 613L321 610ZM379 591L384 594L389 592L384 589ZM518 546L524 548L528 546L523 544ZM581 526L587 527L591 526L586 524ZM608 517L614 518L618 517L613 515ZM617 514L623 515L627 514L622 513ZM339 609L344 612L348 610L344 607ZM411 585L416 588L420 586L416 583ZM416 583L420 586L425 585L420 582ZM470 566L475 568L479 567L474 564ZM560 536L565 538L569 536L564 535ZM591 526L596 527L601 526L596 524ZM605 521L610 523L614 521L609 520ZM438 580L444 582L448 581L443 579ZM461 573L466 575L471 573L466 571ZM470 570L475 572L480 570L475 568ZM493 562L498 564L502 563L497 561ZM497 561L502 563L507 561L502 559ZM533 549L538 550L543 549L538 547ZM538 547L543 549L548 547L542 546ZM556 541L561 543L566 541L560 539ZM331 621L336 623L340 621L335 619ZM353 613L358 615L363 614L358 611ZM407 595L413 597L417 595L412 593ZM421 590L426 592L431 591L425 589ZM439 584L444 586L449 584L444 582ZM480 570L485 572L490 571L484 569ZM363 614L368 616L373 614L367 612ZM385 606L391 608L395 607L390 604ZM399 601L404 604L409 602L404 600ZM458 581L463 583L468 582L462 580ZM476 575L481 577L486 576L480 574ZM494 569L499 571L504 569L499 567ZM512 563L517 565L522 563L517 561ZM539 554L545 555L549 554L544 552ZM607 531L613 532L617 530L612 529ZM616 527L622 529L626 527L621 526ZM463 583L468 585L473 584L468 582ZM477 579L482 581L487 579L481 577ZM490 574L496 576L500 574L495 572ZM508 568L514 570L518 568L513 566ZM527 562L532 563L536 562L531 560ZM545 555L550 557L555 556L549 554ZM549 554L555 556L559 554L554 552ZM378 617L383 619L388 617L382 615ZM423 601L428 603L433 601L428 599ZM500 574L505 576L510 575L505 573ZM514 570L519 571L524 570L518 568ZM555 556L560 557L564 556L559 554ZM595 541L601 543L605 541L600 540ZM618 534L623 535L628 534L622 532ZM632 529L637 530L641 529L636 527ZM636 527L641 529L646 527L641 526ZM496 579L502 581L506 580L501 578ZM551 560L556 562L561 561L555 559ZM555 559L561 561L565 559L560 557ZM569 554L574 556L579 554L573 552ZM601 543L606 545L611 543L605 541ZM610 540L615 541L620 540L614 538ZM356 632L362 635L366 633L361 631ZM375 626L380 628L384 627L379 624ZM384 623L389 625L393 623L388 621ZM411 613L416 615L421 614L415 612ZM443 602L448 604L452 602L447 600ZM452 599L457 601L462 599L456 597ZM493 584L498 586L502 585L497 583ZM624 538L630 540L634 538L629 537ZM362 635L367 637L371 635L366 633ZM384 627L389 629L394 627L389 625ZM511 582L517 583L521 582L516 580ZM648 533L653 535L658 533L652 532ZM367 637L372 639L376 638L371 635ZM371 635L376 638L381 636L376 634ZM385 631L390 633L395 631L389 629ZM512 585L518 587L522 585L517 583ZM553 570L558 572L563 571L558 569ZM417 623L423 625L427 624L422 621ZM490 597L495 599L500 597L495 595ZM495 595L500 597L505 596L499 594ZM508 590L514 592L518 591L513 589ZM513 589L518 591L523 589L518 587ZM581 564L587 566L591 564L586 562ZM590 561L596 562L600 561L595 559ZM604 556L609 558L614 556L608 554Z"/><path fill="#64b200" stroke="#64b200" stroke-width="0.7" d="M192 555L198 555L202 554L196 554ZM201 552L206 553L211 552L205 551ZM249 539L254 540L259 538L253 538ZM184 559L190 560L194 558L189 558ZM289 530L295 531L299 529L293 529ZM450 484L456 486L460 485L455 483ZM181 562L187 563L191 561L186 561ZM273 537L278 537L283 536L277 535ZM286 533L291 534L296 533L290 532ZM364 511L370 512L374 511L369 510ZM417 497L422 498L426 497L421 495ZM278 537L284 538L288 537L283 536ZM439 493L445 494L449 493L444 492ZM457 488L462 490L467 488L461 487ZM474 483L480 485L484 484L479 482ZM245 549L251 550L255 548L249 548ZM380 512L385 513L390 512L384 511ZM401 506L407 507L411 506L406 505ZM445 494L450 496L455 494L449 493ZM475 486L481 487L485 486L480 485ZM493 481L498 483L503 481L497 480ZM329 528L334 529L339 528L333 527ZM381 514L386 515L391 514L385 513ZM416 505L421 506L425 505L420 504ZM446 497L451 498L456 497L450 496ZM217 561L223 561L227 560L221 559ZM221 559L227 560L231 559L226 558ZM391 514L396 515L401 514L395 513ZM427 507L432 508L436 507L431 506ZM505 487L510 488L514 487L509 485ZM246 557L251 558L256 557L250 556ZM358 528L364 529L368 527L363 527ZM410 514L416 515L420 514L415 513ZM454 503L459 504L464 503L458 502ZM462 500L468 502L472 501L467 499ZM475 497L481 498L485 497L480 496ZM501 490L507 492L511 490L506 489ZM234 562L240 563L244 562L238 561ZM243 560L248 561L253 559L247 559ZM490 496L495 497L499 496L494 495ZM231 565L237 566L241 564L235 564ZM421 516L427 517L431 516L426 515ZM460 506L466 507L470 506L465 505ZM469 504L474 505L479 504L473 503ZM521 491L526 492L531 491L525 490ZM258 560L264 561L268 560L263 559ZM263 559L268 560L273 558L267 558ZM460 514L465 516L469 514L464 513ZM284 560L288 564L293 562L288 559ZM301 556L306 559L310 558L305 555ZM309 554L314 557L319 556L314 553ZM439 522L444 524L448 523L443 521ZM456 518L461 520L466 519L461 517ZM461 517L466 519L470 518L465 516ZM465 516L470 518L474 516L469 514ZM469 514L474 516L479 515L474 513ZM491 509L496 511L500 510L495 508ZM504 506L509 508L513 507L508 505ZM512 504L518 505L522 504L517 503ZM405 534L410 536L414 535L409 533ZM470 518L475 520L480 518L474 516ZM492 512L497 514L501 513L496 511ZM513 507L519 508L523 507L518 505ZM475 520L480 522L485 520L480 518ZM540 503L546 504L550 503L545 502ZM472 524L477 526L481 525L476 523ZM546 504L551 506L555 505L550 503ZM285 578L289 581L293 580L289 577ZM437 537L442 539L447 538L442 535ZM516 515L521 517L526 516L520 514ZM534 510L539 512L543 511L538 509ZM542 508L548 510L552 509L547 507ZM547 507L552 509L556 507L551 506ZM276 585L280 588L285 587L280 584ZM293 580L298 583L302 582L298 579ZM298 579L302 582L307 581L302 578ZM307 576L311 580L316 578L311 575ZM464 533L469 535L474 534L469 532ZM495 524L500 526L505 525L499 523ZM499 523L505 525L509 524L504 522ZM548 510L553 511L557 510L552 509ZM285 587L289 591L294 589L289 586ZM509 524L514 526L519 524L513 523ZM540 515L545 517L550 516L544 514ZM571 506L576 508L580 507L575 505ZM285 592L289 595L294 594L289 591ZM329 579L334 582L338 581L333 578ZM333 578L338 581L343 580L338 577ZM461 541L466 543L471 542L466 540ZM519 524L524 526L528 525L523 523ZM541 518L546 520L550 519L545 517ZM576 508L581 509L586 508L580 507ZM329 584L334 587L338 585L334 582ZM488 537L494 539L498 538L493 535ZM528 525L533 527L538 526L533 524ZM555 517L560 519L565 518L559 516ZM568 513L573 515L578 514L572 512ZM577 511L582 512L587 511L581 509ZM325 589L330 593L334 591L329 588ZM378 573L383 576L387 575L383 572ZM396 568L401 571L405 570L400 567ZM463 548L468 550L472 549L467 547ZM498 538L503 540L508 538L502 536ZM511 534L516 536L521 534L516 532ZM529 528L534 530L539 529L533 527ZM538 526L543 527L548 526L542 524ZM542 524L548 526L552 525L547 523ZM556 520L561 522L565 521L560 519ZM472 549L477 551L481 550L476 548ZM512 537L517 539L522 538L516 536ZM521 534L526 536L531 535L525 533ZM557 523L562 525L566 524L561 522ZM561 522L566 524L571 522L565 521ZM565 521L571 522L575 521L570 519ZM588 514L593 515L597 514L592 512ZM357 589L361 592L366 591L361 588ZM374 583L379 586L384 585L379 582ZM383 581L388 584L393 582L388 579ZM481 550L487 552L491 551L486 549ZM508 542L513 544L518 542L513 540ZM539 532L545 534L549 532L544 531ZM557 526L563 528L567 527L562 525ZM602 513L607 514L612 513L606 511ZM357 593L361 597L366 595L361 592ZM424 572L429 575L433 573L428 571ZM446 565L451 568L456 566L451 564ZM495 549L501 552L505 550L500 548ZM509 545L514 547L518 546L513 544ZM558 530L563 531L568 530L563 528ZM576 524L581 526L586 524L580 522ZM594 518L599 520L604 518L598 517ZM339 604L344 607L348 606L343 602ZM384 589L389 592L393 591L388 588ZM460 565L465 567L470 566L465 563ZM496 553L501 555L506 554L501 552ZM536 540L542 542L546 541L541 539ZM563 531L569 533L573 532L568 530ZM572 528L578 530L582 529L577 527ZM599 520L605 521L609 520L604 518ZM326 613L330 616L335 615L330 612ZM348 606L353 609L357 607L353 604ZM362 601L366 604L371 603L366 600ZM465 567L470 570L475 568L470 566ZM614 518L619 520L623 518L618 517ZM339 613L344 616L349 614L344 612ZM371 603L376 605L380 604L375 601ZM380 600L385 602L389 601L384 598ZM393 595L398 598L403 596L398 594ZM506 558L511 560L516 558L511 556ZM515 555L520 556L525 555L520 553ZM529 550L534 552L538 550L533 549ZM547 544L552 546L557 544L551 543ZM560 539L566 541L570 540L565 538ZM358 611L363 614L367 612L362 610ZM362 610L367 612L372 611L367 608ZM376 605L381 608L385 606L380 604ZM416 592L422 594L426 592L421 590ZM462 576L467 578L471 577L466 575ZM548 547L553 549L557 547L552 546ZM615 524L621 526L625 524L620 523ZM336 623L341 625L345 624L340 621ZM354 617L359 619L364 617L358 615ZM395 603L400 605L404 604L399 601ZM404 600L409 602L413 600L408 598ZM467 578L472 580L477 579L471 577ZM485 572L490 574L495 572L490 571ZM490 571L495 572L499 571L494 569ZM535 555L540 557L545 555L539 554ZM594 535L599 537L604 535L598 534ZM625 524L631 526L635 524L630 523ZM634 521L640 523L644 521L639 520ZM345 624L351 626L355 624L350 622ZM377 613L382 615L387 614L382 611ZM382 611L387 614L391 612L386 610ZM418 599L423 601L428 599L422 597ZM427 596L432 598L437 596L431 594ZM431 594L437 596L441 595L436 593ZM441 591L446 593L450 592L445 590ZM445 590L450 592L455 590L450 588ZM450 588L455 590L459 588L454 586ZM454 586L459 588L464 587L459 585ZM486 576L491 577L496 576L490 574ZM522 563L527 565L532 563L527 562ZM576 544L582 546L586 545L581 543ZM626 527L632 529L636 527L631 526ZM351 626L356 628L360 627L355 624ZM382 615L388 617L392 616L387 614ZM414 604L419 606L424 605L419 603ZM441 595L446 597L451 595L446 593ZM446 593L451 595L456 594L450 592ZM450 592L456 594L460 592L455 590ZM468 585L474 587L478 586L473 584ZM487 579L492 581L496 579L491 577ZM491 577L496 579L501 578L496 576ZM523 566L528 568L533 567L527 565ZM586 545L592 546L596 545L591 543ZM419 606L424 608L429 607L424 605ZM442 598L447 600L452 599L446 597ZM460 592L465 594L470 592L465 590ZM474 587L479 589L483 588L478 586ZM361 631L366 633L371 631L365 629ZM388 621L393 623L398 622L393 620ZM420 610L425 612L430 611L424 608ZM424 608L430 611L434 609L429 607ZM461 596L466 598L471 596L465 594ZM506 580L511 582L516 580L511 578ZM511 578L516 580L521 578L515 576ZM592 549L598 551L602 549L597 548ZM398 622L403 624L408 622L402 620ZM421 614L426 616L430 614L425 612ZM430 611L435 613L439 611L434 609ZM443 606L449 608L453 606L448 604ZM630 540L635 541L640 540L634 538ZM403 624L408 626L413 625L408 622ZM503 588L508 590L513 589L508 587ZM517 583L522 585L527 584L521 582ZM530 579L536 580L540 579L535 577ZM644 538L649 540L654 538L649 536ZM658 533L663 535L668 533L662 532ZM372 639L377 642L382 640L376 638ZM381 636L386 638L391 637L386 634ZM390 633L395 635L400 633L395 631ZM399 630L404 632L409 630L404 628ZM440 615L445 617L450 615L445 613ZM454 610L459 612L464 610L458 608ZM477 602L482 604L486 602L481 600ZM563 571L568 572L573 571L568 569ZM577 566L582 567L587 566L581 564ZM608 554L614 556L618 554L613 553ZM613 553L618 554L623 553L618 551Z"/><path fill="#ff6e00" stroke="#ff6e00" stroke-width="0.7" d="M231 544L237 544L241 543L235 543ZM253 538L259 538L263 537L257 536ZM215 551L221 551L225 550L219 549ZM190 560L196 560L200 559L194 558ZM194 558L200 559L204 558L199 557ZM191 561L197 562L201 561L196 560ZM305 530L310 531L314 530L309 529ZM418 499L423 500L428 499L422 498ZM422 498L428 499L432 498L426 497ZM236 551L242 552L246 551L241 550ZM319 529L324 530L329 528L323 528ZM216 559L221 559L226 558L220 558ZM224 557L230 557L234 556L229 555ZM285 540L291 541L295 540L290 539ZM342 525L347 526L352 525L346 524ZM377 516L382 517L386 515L381 514ZM420 504L425 505L430 504L424 503ZM476 489L482 490L486 489L481 487ZM252 551L257 552L262 551L256 550ZM260 549L266 550L270 549L265 548ZM456 497L461 498L466 497L460 496ZM275 547L280 548L285 547L279 546ZM448 502L454 503L458 502L453 500ZM306 541L312 542L316 541L311 540ZM337 533L342 534L347 533L341 532ZM290 548L296 548L300 547L295 547ZM295 547L300 547L305 546L299 545ZM321 540L326 541L331 540L325 539ZM373 526L378 527L382 526L377 525ZM403 519L408 520L413 518L407 517ZM279 553L284 553L289 552L283 552ZM283 552L289 552L293 551L287 551ZM287 551L293 551L297 550L292 549ZM344 536L349 537L353 536L348 535ZM352 534L358 535L362 534L357 533ZM456 507L462 509L466 507L460 506ZM314 546L320 547L324 545L319 545ZM327 543L333 543L337 542L332 541ZM353 536L359 537L363 536L358 535ZM405 523L411 524L415 523L410 522ZM479 504L484 505L489 504L483 503ZM273 558L278 559L283 558L277 557ZM277 557L283 558L287 557L281 556ZM290 554L295 555L300 554L294 553ZM350 539L356 540L360 539L355 538ZM343 543L348 544L353 543L347 542ZM288 559L293 562L297 561L292 558ZM335 547L340 550L344 549L340 546ZM340 546L344 549L349 548L344 545ZM353 543L357 546L362 545L357 542ZM366 540L370 543L375 542L370 539ZM374 538L379 541L383 539L379 537ZM383 536L388 538L392 537L387 535ZM387 535L392 537L396 536L392 534ZM293 562L297 566L301 565L297 561ZM353 547L358 550L362 549L357 546ZM315 561L319 564L324 563L319 560ZM336 556L341 558L345 557L341 554ZM354 551L358 554L363 553L358 550ZM371 547L376 549L380 548L375 545ZM380 544L385 547L389 546L384 543ZM324 563L328 566L333 565L328 562ZM367 552L372 554L376 553L371 550ZM385 547L389 550L394 548L389 546ZM402 542L407 545L411 544L406 541ZM341 563L346 566L350 564L346 561ZM346 561L350 564L355 563L350 560ZM368 555L372 558L377 557L372 554ZM394 548L399 551L403 550L398 547ZM416 542L421 545L425 544L420 541ZM429 539L434 541L438 540L433 538ZM459 531L464 533L469 532L464 529ZM381 556L386 559L390 557L386 555ZM416 546L421 549L426 547L421 545ZM425 544L430 546L434 545L429 543ZM342 571L347 574L351 573L346 570ZM404 561L409 564L414 563L409 560ZM471 542L476 544L480 543L475 541ZM428 563L432 565L437 564L432 561ZM441 559L446 561L450 560L445 557Z"/><path fill="#008000" stroke="#008000" stroke-width="0.7" d="M433 489L438 491L443 489L437 488ZM405 503L410 504L414 503L409 501ZM450 496L456 497L460 496L455 494ZM517 492L522 493L526 492L521 491ZM533 496L538 497L543 496L537 495ZM534 498L539 500L544 499L538 497ZM422 530L427 532L432 531L427 528ZM500 510L506 512L510 511L505 509ZM514 509L520 511L524 510L519 508ZM558 498L563 500L568 498L562 497ZM504 522L509 524L513 523L508 521ZM562 509L567 510L572 509L566 508ZM579 504L585 505L589 504L584 503ZM563 512L568 513L572 512L567 510ZM572 509L577 511L581 509L576 508ZM550 519L556 520L560 519L555 517ZM586 508L591 510L596 508L590 507ZM290 600L294 604L299 602L294 599ZM578 514L583 515L588 514L582 512ZM596 508L601 510L605 508L600 507ZM562 525L567 527L572 525L566 524ZM571 522L576 524L580 522L575 521ZM589 520L595 521L599 520L594 518ZM550 536L555 538L560 536L554 534ZM554 534L560 536L564 535L559 533ZM559 533L564 535L569 533L563 531ZM604 518L609 520L614 518L608 517ZM551 539L556 541L560 539L555 538ZM573 532L578 533L583 532L578 530ZM578 530L583 532L587 530L582 529ZM582 529L587 530L592 529L587 527ZM596 524L601 526L605 524L600 523ZM623 515L628 517L633 515L627 514ZM551 543L557 544L561 543L556 541ZM587 530L593 532L597 531L592 529ZM601 526L606 527L611 526L605 524ZM566 541L571 543L576 541L570 540ZM575 538L580 540L585 538L579 537ZM584 535L589 537L594 535L588 534ZM593 532L598 534L603 532L597 531ZM606 527L612 529L616 527L611 526ZM611 526L616 527L621 526L615 524ZM620 523L625 524L630 523L624 521ZM544 552L549 554L554 552L548 551ZM436 593L441 595L446 593L441 591ZM531 560L536 562L541 560L536 558ZM590 540L595 541L600 540L594 538ZM599 537L604 538L609 537L604 535ZM509 571L515 573L519 571L514 570ZM573 549L578 551L583 549L577 548ZM577 548L583 549L587 548L582 546ZM622 532L628 534L632 532L627 530ZM627 530L632 532L637 530L632 529ZM650 523L655 524L660 522L654 521ZM392 616L397 618L402 616L397 614ZM533 567L538 569L542 567L537 565ZM560 557L565 559L570 557L564 556ZM605 541L611 543L615 541L610 540ZM614 538L620 540L624 538L619 537ZM632 532L638 533L642 532L637 530ZM637 530L642 532L647 530L641 529ZM641 529L647 530L651 529L646 527ZM655 524L660 525L665 524L660 522ZM474 591L480 593L484 591L479 589ZM565 559L571 561L575 559L570 557ZM570 557L575 559L580 557L574 556ZM574 556L580 557L584 556L579 554ZM583 553L589 554L593 553L588 551ZM606 545L611 546L616 545L611 543ZM611 543L616 545L620 543L615 541ZM620 540L625 541L630 540L624 538ZM633 535L639 537L643 535L638 533ZM642 532L648 533L652 532L647 530ZM651 529L657 530L661 528L656 527ZM656 527L661 528L666 527L660 525ZM660 525L666 527L670 525L665 524ZM493 588L499 590L503 588L498 586ZM534 574L539 575L544 574L539 572ZM589 554L594 556L599 554L593 553ZM598 551L603 553L608 551L602 549ZM607 548L612 549L617 548L611 546ZM611 546L617 548L621 546L616 545ZM616 545L621 546L626 545L620 543ZM620 543L626 545L630 543L625 541ZM625 541L630 543L635 541L630 540ZM643 535L649 536L653 535L648 533ZM666 527L671 528L676 527L670 525ZM380 632L386 634L390 633L385 631ZM435 613L440 615L445 613L439 611ZM489 593L495 595L499 594L494 592ZM558 569L563 571L568 569L562 567ZM589 558L595 559L599 558L594 556ZM617 548L622 549L627 548L621 546ZM626 545L631 546L636 544L630 543ZM630 543L636 544L640 543L635 541ZM635 541L640 543L645 541L640 540ZM640 540L645 541L649 540L644 538ZM649 536L654 538L659 536L653 535ZM376 638L382 640L386 638L381 636ZM504 592L509 594L514 592L508 590ZM522 585L527 587L532 586L527 584ZM599 558L605 559L609 558L604 556ZM622 549L628 551L632 549L627 548ZM631 546L637 548L641 546L636 544ZM636 544L641 546L646 544L640 543ZM645 541L650 543L655 541L649 540ZM654 538L659 539L664 538L659 536ZM677 530L682 531L687 530L681 528Z"/><path fill="#41a000" stroke="#41a000" stroke-width="0.7" d="M199 557L204 558L209 557L203 556ZM200 559L206 560L210 558L204 558ZM223 561L228 562L233 561L227 560ZM251 558L257 558L261 557L256 557ZM478 502L483 503L487 502L482 501ZM293 551L298 552L303 551L297 550ZM483 503L489 504L493 503L487 502ZM522 493L527 495L532 494L526 492ZM360 539L366 540L370 539L365 538ZM421 524L426 525L430 524L425 523ZM542 494L547 495L551 494L546 493ZM448 520L453 522L457 521L452 519ZM499 507L505 509L509 508L504 506ZM538 497L544 499L548 498L543 496ZM531 502L536 504L540 503L535 501ZM497 514L502 516L507 515L501 513ZM432 534L437 537L442 535L437 533ZM267 583L272 586L276 585L271 582ZM503 519L508 521L513 519L507 518ZM521 517L527 519L531 518L526 516ZM543 511L549 513L553 511L548 510ZM556 507L562 509L566 508L561 506ZM570 504L575 505L579 504L574 502ZM513 523L519 524L523 523L518 521ZM527 519L532 521L536 519L531 518ZM320 582L325 585L329 584L325 580ZM523 523L528 525L533 524L527 522ZM532 521L537 522L542 521L536 519ZM567 510L572 512L577 511L572 509ZM325 585L329 588L334 587L329 584ZM347 578L352 581L356 580L351 577ZM493 535L498 538L502 536L497 534ZM533 524L538 526L542 524L537 522ZM572 512L578 514L582 512L577 511ZM423 560L428 563L432 561L427 559ZM525 530L530 531L534 530L529 528ZM533 527L539 529L543 527L538 526ZM565 518L570 519L574 518L569 516ZM574 518L580 519L584 518L579 516ZM583 515L589 517L593 515L588 514ZM597 511L602 513L606 511L601 510ZM316 601L321 605L325 603L321 600ZM504 543L509 545L513 544L508 542ZM544 531L549 532L554 531L548 529ZM330 602L334 605L339 604L334 601ZM339 599L343 602L348 601L343 598ZM370 589L375 592L379 591L375 588ZM393 582L397 585L402 584L397 581ZM598 517L604 518L608 517L603 515ZM366 595L371 598L375 597L370 594ZM541 539L546 541L551 539L545 537ZM590 523L596 524L600 523L595 521ZM510 552L515 555L520 553L515 551ZM528 546L533 549L538 547L533 545ZM407 591L412 593L416 592L411 589ZM484 565L489 567L493 566L488 564ZM569 536L575 538L579 537L574 535ZM574 535L579 537L584 535L578 533ZM596 527L602 529L606 527L601 526ZM605 524L611 526L615 524L610 523ZM628 517L633 518L638 517L633 515ZM412 593L417 595L422 594L416 592ZM498 564L503 566L508 564L502 563ZM534 552L539 554L544 552L538 550ZM538 550L544 552L548 551L543 549ZM597 531L603 532L607 531L602 529ZM602 529L607 531L612 529L606 527ZM629 520L634 521L639 520L633 518ZM327 626L332 628L336 627L331 624ZM431 591L436 593L441 591L435 589ZM589 537L594 538L599 537L594 535ZM598 534L604 535L608 534L603 532ZM612 529L617 530L622 529L616 527ZM386 610L391 612L396 610L391 608ZM413 600L419 603L423 601L418 599ZM499 571L505 573L509 571L504 569ZM567 548L573 549L577 548L572 546ZM594 538L600 540L604 538L599 537ZM631 526L636 527L641 526L635 524ZM635 524L641 526L645 524L640 523ZM373 618L378 620L383 619L378 617ZM432 598L437 600L442 598L437 596ZM496 576L501 578L505 576L500 574ZM518 568L524 570L528 568L523 566ZM609 537L614 538L619 537L613 535ZM641 526L646 527L651 526L645 524ZM645 524L651 526L655 524L650 523ZM433 601L438 604L443 602L437 600ZM546 562L552 564L556 562L551 560ZM573 552L579 554L583 553L578 551ZM370 628L375 630L380 628L375 626ZM470 592L475 594L480 593L474 591ZM502 581L507 583L511 582L506 580ZM515 576L521 578L525 577L520 575ZM629 537L634 538L639 537L633 535ZM393 623L399 626L403 624L398 622ZM448 604L453 606L458 605L452 602ZM452 602L458 605L462 603L457 601ZM502 585L508 587L512 585L507 583ZM507 583L512 585L517 583L511 582ZM516 580L521 582L526 580L521 578ZM521 578L526 580L530 579L525 577ZM566 562L571 564L576 562L571 561ZM657 530L662 532L667 530L661 528ZM421 618L427 620L431 618L426 616ZM508 587L513 589L518 587L512 585ZM539 575L545 577L549 576L544 574ZM580 561L586 562L590 561L585 559ZM621 546L627 548L631 546L626 545ZM363 643L368 645L373 643L367 641ZM427 620L432 622L436 620L431 618ZM436 616L441 619L445 617L440 615ZM481 600L486 602L491 600L486 598ZM595 559L600 561L605 559L599 558ZM627 548L632 549L637 548L631 546ZM659 536L664 538L668 536L663 535ZM663 535L668 536L673 534L668 533Z"/><path fill="#329900" stroke="#329900" stroke-width="0.7" d="M464 483L470 485L474 483L469 482ZM250 556L256 557L260 556L254 555ZM507 492L512 493L517 492L511 490ZM500 499L506 500L510 499L505 498ZM511 501L517 503L521 502L516 500ZM413 528L418 531L422 530L417 527ZM452 519L457 521L461 520L456 518ZM544 499L549 500L553 499L548 498ZM552 497L558 498L562 497L557 496ZM515 512L520 514L525 513L520 511ZM513 519L518 521L522 520L517 518ZM439 544L444 546L448 545L443 542ZM303 591L307 595L312 593L307 590ZM321 591L325 594L330 593L325 589ZM587 511L592 512L597 511L591 510ZM579 516L584 518L589 517L583 515ZM325 599L330 602L334 601L330 597ZM531 535L536 537L540 535L535 533ZM343 598L348 601L352 599L348 596ZM540 535L545 537L550 536L545 534ZM563 528L568 530L572 528L567 527ZM343 602L348 606L353 604L348 601ZM514 547L519 549L524 548L518 546ZM586 524L591 526L596 524L590 523ZM537 544L542 546L547 544L542 542ZM349 614L354 617L358 615L353 613ZM525 555L530 557L535 555L529 553ZM529 553L535 555L539 554L534 552ZM561 543L566 544L571 543L566 541ZM570 540L576 541L580 540L575 538ZM624 521L630 523L634 521L629 520ZM345 620L350 622L354 621L349 618ZM422 594L427 596L431 594L426 592ZM517 561L522 563L527 562L521 560ZM526 558L531 560L536 558L530 557ZM341 625L346 628L351 626L345 624ZM459 585L464 587L468 585L463 583ZM558 551L564 552L568 551L563 549ZM622 529L627 530L632 529L626 527ZM387 614L392 616L397 614L391 612ZM459 588L465 590L469 589L464 587ZM600 540L605 541L610 540L604 538ZM469 589L474 591L479 589L474 587ZM542 564L547 565L552 564L546 562ZM564 556L570 557L574 556L569 554ZM592 546L597 548L601 546L596 545ZM651 526L656 527L660 525L655 524ZM479 589L484 591L489 590L483 588ZM556 562L561 564L566 562L561 561ZM588 551L593 553L598 551L592 549ZM601 546L607 548L611 546L606 545ZM615 541L620 543L625 541L620 540ZM353 638L358 640L362 639L357 636ZM584 556L589 558L594 556L589 554ZM602 549L608 551L612 549L607 548ZM453 606L458 608L463 607L458 605ZM467 601L472 603L477 602L471 600ZM471 600L477 602L481 600L476 598ZM526 580L531 582L536 580L530 579ZM535 577L540 579L545 577L539 575ZM544 574L549 576L554 574L549 572ZM549 572L554 574L558 572L553 570ZM576 562L581 564L586 562L580 561ZM599 554L604 556L608 554L603 553ZM608 551L613 553L618 551L612 549ZM662 532L668 533L672 531L667 530ZM671 528L677 530L681 528L676 527ZM527 584L532 586L536 584L531 582ZM549 576L555 577L559 576L554 574ZM618 551L623 553L628 551L622 549ZM640 543L646 544L650 543L645 541ZM668 533L673 534L678 533L672 531Z"/><path fill="#198c00" stroke="#198c00" stroke-width="0.7" d="M383 509L388 510L393 509L387 507ZM484 484L489 485L494 484L488 482ZM500 488L506 489L510 488L505 487ZM462 509L467 510L471 509L466 507ZM531 491L536 492L540 491L535 490ZM463 511L468 512L472 511L467 510ZM484 517L489 519L493 518L488 516ZM424 537L429 539L433 538L428 535ZM541 505L547 507L551 506L546 504ZM565 505L571 506L575 505L570 504ZM566 508L572 509L576 508L571 506ZM506 532L511 534L516 532L511 530ZM590 507L596 508L600 507L595 505ZM507 535L512 537L516 536L511 534ZM516 532L521 534L525 533L520 531ZM582 512L588 514L592 512L587 511ZM525 533L531 535L535 533L530 531ZM543 527L548 529L553 528L548 526ZM570 519L575 521L580 519L574 518ZM584 518L589 520L594 518L589 517ZM519 549L524 552L529 550L524 548ZM542 542L547 544L551 543L546 541ZM344 612L349 614L353 613L348 610ZM578 533L584 535L588 534L583 532ZM592 529L597 531L602 529L596 527ZM610 523L615 524L620 523L614 521ZM367 608L372 611L376 609L371 607ZM389 601L395 603L399 601L394 599ZM376 609L382 611L386 610L381 608ZM508 564L513 566L517 565L512 563ZM566 544L572 546L576 544L571 543ZM571 543L576 544L581 543L576 541ZM585 538L590 540L594 538L589 537ZM621 526L626 527L631 526L625 524ZM630 523L635 524L640 523L634 521ZM332 628L337 631L342 629L336 627ZM554 552L559 554L564 552L558 551ZM608 534L613 535L618 534L613 532ZM617 530L622 532L627 530L622 529ZM640 523L645 524L650 523L644 521ZM644 521L650 523L654 521L649 520ZM346 628L351 630L356 628L351 626ZM351 630L356 632L361 631L356 628ZM388 617L393 620L397 618L392 616ZM406 611L411 613L415 612L410 609ZM446 597L452 599L456 597L451 595ZM579 554L584 556L589 554L583 553ZM597 548L602 549L607 548L601 546ZM647 530L652 532L657 530L651 529ZM380 628L385 631L389 629L384 627ZM475 594L480 596L485 595L480 593ZM498 586L503 588L508 587L502 585ZM639 537L644 538L649 536L643 535ZM652 532L658 533L662 532L657 530ZM571 564L577 566L581 564L576 562ZM667 530L672 531L677 530L671 528ZM649 540L655 541L659 539L654 538Z"/><path d="M584 664L607 652L607 669Z" fill="#9a0000"/><path d="M431 652L438 650L439 662L432 663Z" fill="#c84800"/><path d="M198.3,458L292.5,462.3L323.4,455.3L391,461L450,468L500.6,469.4L517.5,462.3L531.5,459.5L621.5,468L617.3,527L531.5,515.8L517.5,520L489.3,534L419,522.8L391,522.8L292.5,537L208,553.7Z" fill="url(#cur)"/><path d="M761.6 936L786.8 931.8L802.6 926.5L813 928.5L812 935L802.6 933L786.8 939.2L766 943.5L761.6 941Z" fill="#d81400"/><path d="M761.6 925L770 920L785.8 913L800 911.5L815.8 911.3L815.8 928L802.6 926.5L786.8 931.8L761.6 936Z" fill="#12e012"/><text x="33" y="423" text-anchor="end" class="l3" textLength="42" lengthAdjust="spacingAndGlyphs">-500</text><text x="41.7" y="495" text-anchor="end" class="l3" textLength="42" lengthAdjust="spacingAndGlyphs">-1500</text><text x="52" y="562" text-anchor="end" class="l3" textLength="42" lengthAdjust="spacingAndGlyphs">-2500</text><text x="63" y="625" text-anchor="end" class="l3" textLength="42" lengthAdjust="spacingAndGlyphs">-3500</text><text x="73.5" y="685" text-anchor="end" class="l3" textLength="42" lengthAdjust="spacingAndGlyphs">-4500</text><text x="40.5" y="712.5" text-anchor="start" class="l3" textLength="47" lengthAdjust="spacingAndGlyphs">36530</text><text x="82" y="753.5" text-anchor="start" class="l3" textLength="47" lengthAdjust="spacingAndGlyphs">39358</text><text x="131.6" y="800.5" text-anchor="start" class="l3" textLength="47" lengthAdjust="spacingAndGlyphs">42187</text><text x="187" y="856" text-anchor="start" class="l3" textLength="47" lengthAdjust="spacingAndGlyphs">45015</text><text x="255" y="921.5" text-anchor="start" class="l3" textLength="47" lengthAdjust="spacingAndGlyphs">47844</text><text x="337" y="1003" text-anchor="start" class="l3" textLength="47" lengthAdjust="spacingAndGlyphs">50672</text><text x="500" y="935" text-anchor="start" class="l3" textLength="47" lengthAdjust="spacingAndGlyphs">59628</text><text x="589.5" y="874.5" text-anchor="start" class="l3" textLength="47" lengthAdjust="spacingAndGlyphs">62457</text><text x="665.8" y="824.5" text-anchor="start" class="l3" textLength="47" lengthAdjust="spacingAndGlyphs">65285</text><text x="731.6" y="779.5" text-anchor="start" class="l3" textLength="47" lengthAdjust="spacingAndGlyphs">68114</text><text x="792" y="742.5" text-anchor="start" class="l3" textLength="47" lengthAdjust="spacingAndGlyphs">70942</text><text x="137" y="868.5" class="ax3">X</text><text x="681.6" y="895.5" class="ax3">Y</text></g><rect x="2.5" y="156" width="4" height="837" fill="#777"/></svg>
<div class="track" style="top:29px"></div><div class="thumb" style="top:24px"></div>
<div class="track" style="top:83px"></div><div class="thumb" style="top:78px"></div>
<div class="track" style="top:137px"></div><div class="thumb" style="top:132px"></div>
<div class="tl" style="top:28px">Show PlaneCurtain</div>
<div class="tl" style="top:81px">Show ReservoirGrid</div>
<div class="tl" style="top:134px">Show 3D Intersection</div>
<div class="abs" style="left:884.5px;top:212px;font-size:23.1px;color:#6e6e6e;line-height:1">Reservoir cells property filter</div>
<div class="abs" style="left:894px;top:273px;width:659px;height:4px;background:#7aa8dc"></div>
<div class="sth" style="left:882px;top:264px"></div>
<div class="sth" style="left:1541px;top:264px"></div>
<div class="abs" style="left:901px;top:290px;font-size:21px;color:#8a8a8a;line-height:1">0</div>
<div class="abs" style="left:1543px;top:288px;font-size:21px;color:#8a8a8a;line-height:1">1</div>
<div class="abs" style="left:1293px;top:329px;font-size:34.6px;color:#666;line-height:1">2D intersection</div>
<svg class="abs" style="left:1001px;top:385px" width="814" height="577" viewBox="0 0 814 577"><rect x="0.0" y="277.4" width="18.9" height="26.5" fill="#329900"/><rect x="0.0" y="303.4" width="18.9" height="25.3" fill="#329900"/><rect x="0.0" y="328.2" width="18.9" height="24.1" fill="#329900"/><rect x="0.0" y="351.8" width="18.9" height="25.3" fill="#329900"/><rect x="0.0" y="376.6" width="18.9" height="23.6" fill="#329900"/><rect x="0.0" y="399.7" width="18.9" height="22.0" fill="#329900"/><rect x="0.0" y="421.2" width="18.9" height="23.2" fill="#50a800"/><rect x="0.0" y="443.9" width="18.9" height="19.9" fill="#329900"/><rect x="0.0" y="463.3" width="18.9" height="21.2" fill="#329900"/><rect x="18.4" y="273.2" width="16.5" height="27.1" fill="#64b200"/><rect x="18.4" y="299.8" width="16.5" height="25.8" fill="#64b200"/><rect x="18.4" y="325.1" width="16.5" height="24.5" fill="#64b200"/><rect x="18.4" y="349.1" width="16.5" height="25.8" fill="#008000"/><rect x="18.4" y="374.4" width="16.5" height="24.1" fill="#50a800"/><rect x="18.4" y="398.0" width="16.5" height="22.4" fill="#64b200"/><rect x="18.4" y="419.9" width="16.5" height="23.7" fill="#50a800"/><rect x="18.4" y="443.1" width="16.5" height="20.3" fill="#50a800"/><rect x="18.4" y="462.9" width="16.5" height="21.6" fill="#329900"/><rect x="34.4" y="268.3" width="15.2" height="27.0" fill="#329900"/><rect x="34.4" y="294.8" width="15.2" height="25.8" fill="#329900"/><rect x="34.4" y="320.1" width="15.2" height="24.5" fill="#329900"/><rect x="34.4" y="344.2" width="15.2" height="25.8" fill="#96cc00"/><rect x="34.4" y="369.4" width="15.2" height="24.1" fill="#64b200"/><rect x="34.4" y="393.0" width="15.2" height="22.4" fill="#96cc00"/><rect x="34.4" y="414.9" width="15.2" height="23.7" fill="#329900"/><rect x="34.4" y="438.1" width="15.2" height="20.3" fill="#329900"/><rect x="34.4" y="457.9" width="15.2" height="21.6" fill="#50a800"/><rect x="49.1" y="261.3" width="15.3" height="27.9" fill="#64b200"/><rect x="49.1" y="288.7" width="15.3" height="26.6" fill="#64b200"/><rect x="49.1" y="314.9" width="15.3" height="25.3" fill="#64b200"/><rect x="49.1" y="339.7" width="15.3" height="26.6" fill="#50a800"/><rect x="49.1" y="365.8" width="15.3" height="24.9" fill="#64b200"/><rect x="49.1" y="390.2" width="15.3" height="23.1" fill="#329900"/><rect x="49.1" y="412.8" width="15.3" height="24.4" fill="#329900"/><rect x="49.1" y="436.8" width="15.3" height="21.0" fill="#008000"/><rect x="49.1" y="457.2" width="15.3" height="22.3" fill="#329900"/><rect x="63.9" y="256.4" width="14.0" height="28.0" fill="#50a800"/><rect x="63.9" y="283.9" width="14.0" height="26.7" fill="#64b200"/><rect x="63.9" y="310.1" width="14.0" height="25.4" fill="#64b200"/><rect x="63.9" y="335.0" width="14.0" height="26.7" fill="#50a800"/><rect x="63.9" y="361.2" width="14.0" height="25.0" fill="#96cc00"/><rect x="63.9" y="385.7" width="14.0" height="23.2" fill="#64b200"/><rect x="63.9" y="408.4" width="14.0" height="24.5" fill="#96cc00"/><rect x="63.9" y="432.4" width="14.0" height="21.0" fill="#64b200"/><rect x="63.9" y="453.0" width="14.0" height="22.3" fill="#96cc00"/><rect x="77.4" y="248.7" width="16.5" height="29.0" fill="#50a800"/><rect x="77.4" y="277.2" width="16.5" height="27.6" fill="#96cc00"/><rect x="77.4" y="304.3" width="16.5" height="26.3" fill="#96cc00"/><rect x="77.4" y="330.1" width="16.5" height="27.6" fill="#96cc00"/><rect x="77.4" y="357.2" width="16.5" height="25.8" fill="#96cc00"/><rect x="77.4" y="382.6" width="16.5" height="24.0" fill="#329900"/><rect x="77.4" y="406.1" width="16.5" height="25.4" fill="#64b200"/><rect x="77.4" y="430.9" width="16.5" height="21.8" fill="#96cc00"/><rect x="77.4" y="452.2" width="16.5" height="23.1" fill="#329900"/><rect x="93.4" y="243.8" width="15.2" height="29.6" fill="#008000"/><rect x="93.4" y="272.9" width="15.2" height="28.2" fill="#64b200"/><rect x="93.4" y="300.6" width="15.2" height="26.8" fill="#008000"/><rect x="93.4" y="327.0" width="15.2" height="28.2" fill="#cce600"/><rect x="93.4" y="354.7" width="15.2" height="26.4" fill="#329900"/><rect x="93.4" y="380.6" width="15.2" height="24.5" fill="#96cc00"/><rect x="93.4" y="404.6" width="15.2" height="25.9" fill="#64b200"/><rect x="93.4" y="430.0" width="15.2" height="22.2" fill="#cce600"/><rect x="93.4" y="451.7" width="15.2" height="23.6" fill="#50a800"/><rect x="108.1" y="237.5" width="16.4" height="30.2" fill="#64b200"/><rect x="108.1" y="267.2" width="16.4" height="28.8" fill="#329900"/><rect x="108.1" y="295.4" width="16.4" height="27.3" fill="#329900"/><rect x="108.1" y="322.3" width="16.4" height="28.8" fill="#64b200"/><rect x="108.1" y="350.5" width="16.4" height="26.9" fill="#329900"/><rect x="108.1" y="376.9" width="16.4" height="25.0" fill="#64b200"/><rect x="108.1" y="401.4" width="16.4" height="26.4" fill="#64b200"/><rect x="108.1" y="427.3" width="16.4" height="22.6" fill="#96cc00"/><rect x="108.1" y="449.5" width="16.4" height="24.0" fill="#96cc00"/><rect x="124.0" y="231.6" width="20.8" height="30.7" fill="#64b200"/><rect x="124.0" y="261.8" width="20.8" height="29.2" fill="#cce600"/><rect x="124.0" y="290.5" width="20.8" height="27.8" fill="#64b200"/><rect x="124.0" y="317.8" width="20.8" height="29.2" fill="#64b200"/><rect x="124.0" y="346.5" width="20.8" height="27.3" fill="#96cc00"/><rect x="124.0" y="373.3" width="20.8" height="25.4" fill="#96cc00"/><rect x="124.0" y="398.2" width="20.8" height="26.8" fill="#96cc00"/><rect x="124.0" y="424.6" width="20.8" height="23.0" fill="#cce600"/><rect x="124.0" y="447.1" width="20.8" height="24.4" fill="#329900"/><rect x="144.3" y="223.4" width="14.5" height="31.4" fill="#50a800"/><rect x="144.3" y="254.3" width="14.5" height="30.0" fill="#329900"/><rect x="144.3" y="283.8" width="14.5" height="28.5" fill="#ffff00"/><rect x="144.3" y="311.8" width="14.5" height="30.0" fill="#96cc00"/><rect x="144.3" y="341.3" width="14.5" height="28.0" fill="#cce600"/><rect x="144.3" y="368.8" width="14.5" height="26.0" fill="#50a800"/><rect x="144.3" y="394.3" width="14.5" height="27.5" fill="#cce600"/><rect x="144.3" y="421.4" width="14.5" height="23.6" fill="#64b200"/><rect x="144.3" y="444.4" width="14.5" height="25.1" fill="#cce600"/><rect x="158.3" y="225.0" width="13.9" height="31.2" fill="#cce600"/><rect x="158.3" y="255.7" width="13.9" height="29.8" fill="#cce600"/><rect x="158.3" y="285.0" width="13.9" height="28.3" fill="#50a800"/><rect x="158.3" y="312.8" width="13.9" height="29.8" fill="#cce600"/><rect x="158.3" y="342.1" width="13.9" height="27.8" fill="#96cc00"/><rect x="158.3" y="369.4" width="13.9" height="25.9" fill="#50a800"/><rect x="158.3" y="394.8" width="13.9" height="27.3" fill="#329900"/><rect x="158.3" y="421.7" width="13.9" height="23.4" fill="#cce600"/><rect x="158.3" y="444.6" width="13.9" height="24.9" fill="#cce600"/><rect x="171.7" y="225.0" width="11.3" height="31.2" fill="#96cc00"/><rect x="171.7" y="255.7" width="11.3" height="29.8" fill="#329900"/><rect x="171.7" y="285.0" width="11.3" height="28.3" fill="#96cc00"/><rect x="171.7" y="312.8" width="11.3" height="29.8" fill="#50a800"/><rect x="171.7" y="342.1" width="11.3" height="27.8" fill="#cce600"/><rect x="171.7" y="369.4" width="11.3" height="25.9" fill="#329900"/><rect x="171.7" y="394.8" width="11.3" height="27.3" fill="#cce600"/><rect x="171.7" y="421.7" width="11.3" height="23.4" fill="#50a800"/><rect x="171.7" y="444.6" width="11.3" height="24.9" fill="#ffff00"/><rect x="182.5" y="227.0" width="18.3" height="31.0" fill="#329900"/><rect x="182.5" y="257.5" width="18.3" height="29.5" fill="#cce600"/><rect x="182.5" y="286.5" width="18.3" height="28.1" fill="#cce600"/><rect x="182.5" y="314.1" width="18.3" height="29.5" fill="#cce600"/><rect x="182.5" y="343.2" width="18.3" height="27.6" fill="#50a800"/><rect x="182.5" y="370.3" width="18.3" height="25.7" fill="#329900"/><rect x="182.5" y="395.4" width="18.3" height="27.1" fill="#96cc00"/><rect x="182.5" y="422.1" width="18.3" height="23.2" fill="#cce600"/><rect x="182.5" y="444.8" width="18.3" height="24.7" fill="#cce600"/><rect x="200.3" y="227.0" width="11.9" height="31.0" fill="#64b200"/><rect x="200.3" y="257.5" width="11.9" height="29.5" fill="#50a800"/><rect x="200.3" y="286.5" width="11.9" height="28.1" fill="#50a800"/><rect x="200.3" y="314.1" width="11.9" height="29.5" fill="#96cc00"/><rect x="200.3" y="343.2" width="11.9" height="27.6" fill="#64b200"/><rect x="200.3" y="370.3" width="11.9" height="25.7" fill="#64b200"/><rect x="200.3" y="395.4" width="11.9" height="27.1" fill="#cce600"/><rect x="200.3" y="422.1" width="11.9" height="23.2" fill="#50a800"/><rect x="200.3" y="444.8" width="11.9" height="24.7" fill="#50a800"/><rect x="211.7" y="227.0" width="13.2" height="31.0" fill="#64b200"/><rect x="211.7" y="257.5" width="13.2" height="29.5" fill="#96cc00"/><rect x="211.7" y="286.5" width="13.2" height="28.1" fill="#96cc00"/><rect x="211.7" y="314.1" width="13.2" height="29.5" fill="#cce600"/><rect x="211.7" y="343.2" width="13.2" height="27.6" fill="#329900"/><rect x="211.7" y="370.3" width="13.2" height="25.7" fill="#96cc00"/><rect x="211.7" y="395.4" width="13.2" height="27.1" fill="#50a800"/><rect x="211.7" y="422.1" width="13.2" height="23.2" fill="#50a800"/><rect x="211.7" y="444.8" width="13.2" height="24.7" fill="#008000"/><rect x="224.4" y="227.0" width="15.8" height="31.0" fill="#96cc00"/><rect x="224.4" y="257.5" width="15.8" height="29.5" fill="#96cc00"/><rect x="224.4" y="286.5" width="15.8" height="28.1" fill="#50a800"/><rect x="224.4" y="314.1" width="15.8" height="29.5" fill="#ffff00"/><rect x="224.4" y="343.2" width="15.8" height="27.6" fill="#cce600"/><rect x="224.4" y="370.3" width="15.8" height="25.7" fill="#96cc00"/><rect x="224.4" y="395.4" width="15.8" height="27.1" fill="#cce600"/><rect x="224.4" y="422.1" width="15.8" height="23.2" fill="#64b200"/><rect x="224.4" y="444.8" width="15.8" height="24.7" fill="#cce600"/><rect x="239.7" y="227.0" width="13.2" height="31.0" fill="#64b200"/><rect x="239.7" y="257.5" width="13.2" height="29.5" fill="#96cc00"/><rect x="239.7" y="286.5" width="13.2" height="28.1" fill="#008000"/><rect x="239.7" y="314.1" width="13.2" height="29.5" fill="#cce600"/><rect x="239.7" y="343.2" width="13.2" height="27.6" fill="#329900"/><rect x="239.7" y="370.3" width="13.2" height="25.7" fill="#64b200"/><rect x="239.7" y="395.4" width="13.2" height="27.1" fill="#50a800"/><rect x="239.7" y="422.1" width="13.2" height="23.2" fill="#50a800"/><rect x="239.7" y="444.8" width="13.2" height="24.7" fill="#cce600"/><rect x="252.4" y="227.0" width="12.0" height="31.0" fill="#64b200"/><rect x="252.4" y="257.5" width="12.0" height="29.5" fill="#329900"/><rect x="252.4" y="286.5" width="12.0" height="28.1" fill="#329900"/><rect x="252.4" y="314.1" width="12.0" height="29.5" fill="#50a800"/><rect x="252.4" y="343.2" width="12.0" height="27.6" fill="#cce600"/><rect x="252.4" y="370.3" width="12.0" height="25.7" fill="#329900"/><rect x="252.4" y="395.4" width="12.0" height="27.1" fill="#cce600"/><rect x="252.4" y="422.1" width="12.0" height="23.2" fill="#ffff00"/><rect x="252.4" y="444.8" width="12.0" height="24.7" fill="#cce600"/><rect x="263.9" y="219.5" width="19.0" height="31.9" fill="#cce600"/><rect x="263.9" y="250.9" width="19.0" height="30.4" fill="#64b200"/><rect x="263.9" y="280.9" width="19.0" height="28.9" fill="#ffff00"/><rect x="263.9" y="309.3" width="19.0" height="30.4" fill="#64b200"/><rect x="263.9" y="339.3" width="19.0" height="28.4" fill="#cce600"/><rect x="263.9" y="367.2" width="19.0" height="26.4" fill="#329900"/><rect x="263.9" y="393.2" width="19.0" height="27.9" fill="#cce600"/><rect x="263.9" y="420.6" width="19.0" height="24.0" fill="#64b200"/><rect x="263.9" y="444.0" width="19.0" height="25.5" fill="#329900"/><rect x="282.4" y="211.0" width="15.3" height="32.3" fill="#ffff00"/><rect x="282.4" y="242.8" width="15.3" height="30.8" fill="#50a800"/><rect x="282.4" y="273.1" width="15.3" height="29.3" fill="#64b200"/><rect x="282.4" y="301.9" width="15.3" height="30.8" fill="#cce600"/><rect x="282.4" y="332.2" width="15.3" height="28.8" fill="#50a800"/><rect x="282.4" y="360.5" width="15.3" height="26.8" fill="#96cc00"/><rect x="282.4" y="386.8" width="15.3" height="28.3" fill="#ffff00"/><rect x="282.4" y="414.6" width="15.3" height="24.2" fill="#329900"/><rect x="282.4" y="438.3" width="15.3" height="25.8" fill="#329900"/><rect x="297.2" y="203.4" width="15.2" height="33.3" fill="#64b200"/><rect x="297.2" y="236.2" width="15.2" height="31.7" fill="#008000"/><rect x="297.2" y="267.4" width="15.2" height="30.2" fill="#96cc00"/><rect x="297.2" y="297.1" width="15.2" height="31.7" fill="#ffff00"/><rect x="297.2" y="328.3" width="15.2" height="29.6" fill="#329900"/><rect x="297.2" y="357.4" width="15.2" height="27.6" fill="#cce600"/><rect x="297.2" y="384.5" width="15.2" height="29.1" fill="#96cc00"/><rect x="297.2" y="413.1" width="15.2" height="25.0" fill="#ffcc00"/><rect x="297.2" y="437.6" width="15.2" height="26.5" fill="#ffff00"/><rect x="311.9" y="195.7" width="15.2" height="34.3" fill="#329900"/><rect x="311.9" y="229.5" width="15.2" height="32.6" fill="#cce600"/><rect x="311.9" y="261.6" width="15.2" height="31.0" fill="#96cc00"/><rect x="311.9" y="292.1" width="15.2" height="32.6" fill="#50a800"/><rect x="311.9" y="324.3" width="15.2" height="30.5" fill="#cce600"/><rect x="311.9" y="354.3" width="15.2" height="28.4" fill="#cce600"/><rect x="311.9" y="382.2" width="15.2" height="30.0" fill="#329900"/><rect x="311.9" y="411.6" width="15.2" height="25.7" fill="#329900"/><rect x="311.9" y="436.8" width="15.2" height="27.3" fill="#50a800"/><rect x="326.6" y="190.0" width="8.3" height="35.0" fill="#ffff00"/><rect x="326.6" y="224.5" width="8.3" height="33.3" fill="#ffff00"/><rect x="326.6" y="257.3" width="8.3" height="31.7" fill="#ffff00"/><rect x="326.6" y="288.5" width="8.3" height="33.3" fill="#ffff00"/><rect x="326.6" y="321.3" width="8.3" height="31.1" fill="#329900"/><rect x="326.6" y="352.0" width="8.3" height="29.0" fill="#329900"/><rect x="326.6" y="380.4" width="8.3" height="30.6" fill="#ffff00"/><rect x="326.6" y="410.5" width="8.3" height="26.2" fill="#ffff00"/><rect x="326.6" y="436.2" width="8.3" height="27.9" fill="#50a800"/><rect x="334.4" y="186.6" width="8.9" height="34.9" fill="#329900"/><rect x="334.4" y="221.0" width="8.9" height="33.2" fill="#cce600"/><rect x="334.4" y="253.7" width="8.9" height="31.6" fill="#96cc00"/><rect x="334.4" y="284.8" width="8.9" height="33.2" fill="#ffcc00"/><rect x="334.4" y="317.5" width="8.9" height="31.1" fill="#ffff00"/><rect x="334.4" y="348.1" width="8.9" height="28.9" fill="#cce600"/><rect x="334.4" y="376.5" width="8.9" height="30.5" fill="#ffcc00"/><rect x="334.4" y="406.5" width="8.9" height="26.1" fill="#50a800"/><rect x="334.4" y="432.1" width="8.9" height="27.8" fill="#50a800"/><rect x="342.8" y="183.0" width="13.1" height="35.3" fill="#96cc00"/><rect x="342.8" y="217.8" width="13.1" height="33.7" fill="#329900"/><rect x="342.8" y="251.0" width="13.1" height="32.0" fill="#cce600"/><rect x="342.8" y="282.5" width="13.1" height="33.7" fill="#cce600"/><rect x="342.8" y="315.7" width="13.1" height="31.5" fill="#ffff00"/><rect x="342.8" y="346.6" width="13.1" height="29.2" fill="#cce600"/><rect x="342.8" y="375.4" width="13.1" height="30.9" fill="#50a800"/><rect x="342.8" y="405.8" width="13.1" height="26.5" fill="#cce600"/><rect x="342.8" y="431.8" width="13.1" height="28.1" fill="#50a800"/><rect x="355.4" y="179.0" width="8.9" height="35.8" fill="#ff6e00"/><rect x="355.4" y="214.3" width="8.9" height="34.1" fill="#96cc00"/><rect x="355.4" y="248.0" width="8.9" height="32.5" fill="#96cc00"/><rect x="355.4" y="279.9" width="8.9" height="34.1" fill="#cce600"/><rect x="355.4" y="313.6" width="8.9" height="31.9" fill="#64b200"/><rect x="355.4" y="345.0" width="8.9" height="29.7" fill="#cce600"/><rect x="355.4" y="374.2" width="8.9" height="31.3" fill="#ff6e00"/><rect x="355.4" y="405.0" width="8.9" height="26.9" fill="#ffff00"/><rect x="355.4" y="431.4" width="8.9" height="28.5" fill="#ffcc00"/><rect x="363.8" y="171.8" width="21.6" height="36.2" fill="#ffcc00"/><rect x="363.8" y="207.5" width="21.6" height="34.5" fill="#96cc00"/><rect x="363.8" y="241.5" width="21.6" height="32.8" fill="#50a800"/><rect x="363.8" y="273.8" width="21.6" height="34.5" fill="#ff6e00"/><rect x="363.8" y="307.7" width="21.6" height="32.2" fill="#96cc00"/><rect x="363.8" y="339.5" width="21.6" height="30.0" fill="#96cc00"/><rect x="363.8" y="368.9" width="21.6" height="31.7" fill="#329900"/><rect x="363.8" y="400.1" width="21.6" height="27.1" fill="#ffcc00"/><rect x="363.8" y="426.7" width="21.6" height="28.8" fill="#ffcc00"/><rect x="384.9" y="169.0" width="11.7" height="36.5" fill="#ffff00"/><rect x="384.9" y="205.0" width="11.7" height="34.8" fill="#ffff00"/><rect x="384.9" y="239.4" width="11.7" height="33.1" fill="#50a800"/><rect x="384.9" y="272.0" width="11.7" height="34.8" fill="#ffcc00"/><rect x="384.9" y="306.3" width="11.7" height="32.5" fill="#329900"/><rect x="384.9" y="338.3" width="11.7" height="30.2" fill="#ffff00"/><rect x="384.9" y="368.1" width="11.7" height="32.0" fill="#96cc00"/><rect x="384.9" y="399.5" width="11.7" height="27.4" fill="#ffcc00"/><rect x="384.9" y="426.4" width="11.7" height="29.1" fill="#ffff00"/><rect x="396.1" y="164.0" width="18.8" height="36.7" fill="#50a800"/><rect x="396.1" y="200.2" width="18.8" height="35.0" fill="#96cc00"/><rect x="396.1" y="234.7" width="18.8" height="33.3" fill="#50a800"/><rect x="396.1" y="267.5" width="18.8" height="35.0" fill="#ffcc00"/><rect x="396.1" y="302.0" width="18.8" height="32.7" fill="#50a800"/><rect x="396.1" y="334.2" width="18.8" height="30.4" fill="#cce600"/><rect x="396.1" y="364.1" width="18.8" height="32.1" fill="#ffff00"/><rect x="396.1" y="395.7" width="18.8" height="27.5" fill="#ff6e00"/><rect x="396.1" y="422.8" width="18.8" height="29.2" fill="#50a800"/><rect x="414.4" y="162.0" width="12.3" height="37.0" fill="#329900"/><rect x="414.4" y="198.5" width="12.3" height="35.2" fill="#329900"/><rect x="414.4" y="233.2" width="12.3" height="33.5" fill="#96cc00"/><rect x="414.4" y="266.2" width="12.3" height="35.2" fill="#ffff00"/><rect x="414.4" y="301.0" width="12.3" height="32.9" fill="#ff3300"/><rect x="414.4" y="333.4" width="12.3" height="30.6" fill="#ffff00"/><rect x="414.4" y="363.5" width="12.3" height="32.3" fill="#ff6e00"/><rect x="414.4" y="395.3" width="12.3" height="27.7" fill="#ffff00"/><rect x="414.4" y="422.5" width="12.3" height="29.5" fill="#64b200"/><rect x="426.2" y="160.0" width="14.7" height="37.0" fill="#64b200"/><rect x="426.2" y="196.5" width="14.7" height="35.3" fill="#ffff00"/><rect x="426.2" y="231.3" width="14.7" height="33.6" fill="#64b200"/><rect x="426.2" y="264.4" width="14.7" height="35.3" fill="#ffcc00"/><rect x="426.2" y="299.2" width="14.7" height="33.0" fill="#ff3300"/><rect x="426.2" y="331.7" width="14.7" height="30.7" fill="#ffff00"/><rect x="426.2" y="361.8" width="14.7" height="32.4" fill="#329900"/><rect x="426.2" y="393.7" width="14.7" height="27.8" fill="#ff6e00"/><rect x="426.2" y="421.0" width="14.7" height="29.5" fill="#cce600"/><rect x="440.4" y="159.7" width="16.1" height="36.5" fill="#ff6e00"/><rect x="440.4" y="195.7" width="16.1" height="34.8" fill="#ffcc00"/><rect x="440.4" y="230.0" width="16.1" height="33.1" fill="#ff3300"/><rect x="440.4" y="262.6" width="16.1" height="34.8" fill="#cce600"/><rect x="440.4" y="296.9" width="16.1" height="32.5" fill="#329900"/><rect x="440.4" y="329.0" width="16.1" height="30.2" fill="#50a800"/><rect x="440.4" y="358.7" width="16.1" height="31.9" fill="#ff3300"/><rect x="440.4" y="390.1" width="16.1" height="27.4" fill="#ff6e00"/><rect x="440.4" y="417.0" width="16.1" height="29.1" fill="#ffff00"/><rect x="456.0" y="159.7" width="16.2" height="36.1" fill="#cce600"/><rect x="456.0" y="195.3" width="16.2" height="34.4" fill="#008000"/><rect x="456.0" y="229.3" width="16.2" height="32.8" fill="#ff6e00"/><rect x="456.0" y="261.5" width="16.2" height="34.4" fill="#ff6e00"/><rect x="456.0" y="295.5" width="16.2" height="32.2" fill="#ffcc00"/><rect x="456.0" y="327.2" width="16.2" height="29.9" fill="#64b200"/><rect x="456.0" y="356.6" width="16.2" height="31.6" fill="#ff6e00"/><rect x="456.0" y="387.7" width="16.2" height="27.1" fill="#ffcc00"/><rect x="456.0" y="414.3" width="16.2" height="28.8" fill="#50a800"/><rect x="471.7" y="159.7" width="13.9" height="36.1" fill="#ff6e00"/><rect x="471.7" y="195.3" width="13.9" height="34.4" fill="#ffcc00"/><rect x="471.7" y="229.3" width="13.9" height="32.8" fill="#ff6e00"/><rect x="471.7" y="261.5" width="13.9" height="34.4" fill="#329900"/><rect x="471.7" y="295.5" width="13.9" height="32.2" fill="#cce600"/><rect x="471.7" y="327.2" width="13.9" height="29.9" fill="#ffff00"/><rect x="471.7" y="356.6" width="13.9" height="31.6" fill="#50a800"/><rect x="471.7" y="387.7" width="13.9" height="27.1" fill="#96cc00"/><rect x="471.7" y="414.3" width="13.9" height="28.8" fill="#329900"/><rect x="485.1" y="162.7" width="15.4" height="35.2" fill="#ffff00"/><rect x="485.1" y="197.4" width="15.4" height="33.5" fill="#329900"/><rect x="485.1" y="230.4" width="15.4" height="31.9" fill="#ffcc00"/><rect x="485.1" y="261.8" width="15.4" height="33.5" fill="#ff6e00"/><rect x="485.1" y="294.8" width="15.4" height="31.3" fill="#ff6e00"/><rect x="485.1" y="325.7" width="15.4" height="29.1" fill="#ffcc00"/><rect x="485.1" y="354.3" width="15.4" height="30.8" fill="#ffff00"/><rect x="485.1" y="384.6" width="15.4" height="26.4" fill="#329900"/><rect x="485.1" y="410.5" width="15.4" height="28.0" fill="#96cc00"/><rect x="500.0" y="162.7" width="15.5" height="35.2" fill="#cce600"/><rect x="500.0" y="197.4" width="15.5" height="33.5" fill="#50a800"/><rect x="500.0" y="230.4" width="15.5" height="31.9" fill="#96cc00"/><rect x="500.0" y="261.8" width="15.5" height="33.5" fill="#ff6e00"/><rect x="500.0" y="294.8" width="15.5" height="31.3" fill="#50a800"/><rect x="500.0" y="325.7" width="15.5" height="29.1" fill="#cce600"/><rect x="500.0" y="354.3" width="15.5" height="30.8" fill="#ff6e00"/><rect x="500.0" y="384.6" width="15.5" height="26.4" fill="#329900"/><rect x="500.0" y="410.5" width="15.5" height="28.0" fill="#cce600"/><rect x="515.0" y="167.0" width="18.4" height="34.3" fill="#329900"/><rect x="515.0" y="200.8" width="18.4" height="32.7" fill="#64b200"/><rect x="515.0" y="232.9" width="18.4" height="31.1" fill="#ffff00"/><rect x="515.0" y="263.5" width="18.4" height="32.7" fill="#50a800"/><rect x="515.0" y="295.6" width="18.4" height="30.5" fill="#50a800"/><rect x="515.0" y="325.7" width="18.4" height="28.4" fill="#ffcc00"/><rect x="515.0" y="353.5" width="18.4" height="30.0" fill="#ffff00"/><rect x="515.0" y="383.0" width="18.4" height="25.7" fill="#ffff00"/><rect x="515.0" y="408.2" width="18.4" height="27.3" fill="#50a800"/><rect x="532.9" y="167.0" width="18.4" height="34.1" fill="#329900"/><rect x="532.9" y="200.6" width="18.4" height="32.5" fill="#cce600"/><rect x="532.9" y="232.6" width="18.4" height="30.9" fill="#ffff00"/><rect x="532.9" y="263.0" width="18.4" height="32.5" fill="#64b200"/><rect x="532.9" y="295.0" width="18.4" height="30.4" fill="#50a800"/><rect x="532.9" y="324.9" width="18.4" height="28.2" fill="#50a800"/><rect x="532.9" y="352.6" width="18.4" height="29.8" fill="#ffff00"/><rect x="532.9" y="382.0" width="18.4" height="25.6" fill="#ffff00"/><rect x="532.9" y="407.0" width="18.4" height="27.2" fill="#ff6e00"/><rect x="550.8" y="169.4" width="15.4" height="33.5" fill="#ffcc00"/><rect x="550.8" y="202.4" width="15.4" height="31.9" fill="#ffcc00"/><rect x="550.8" y="233.9" width="15.4" height="30.4" fill="#50a800"/><rect x="550.8" y="263.7" width="15.4" height="31.9" fill="#96cc00"/><rect x="550.8" y="295.2" width="15.4" height="29.8" fill="#ffcc00"/><rect x="550.8" y="324.5" width="15.4" height="27.7" fill="#ffcc00"/><rect x="550.8" y="351.8" width="15.4" height="29.3" fill="#ffff00"/><rect x="550.8" y="380.6" width="15.4" height="25.1" fill="#ff6e00"/><rect x="550.8" y="405.2" width="15.4" height="26.7" fill="#ffff00"/><rect x="565.7" y="167.0" width="13.8" height="33.8" fill="#96cc00"/><rect x="565.7" y="200.3" width="13.8" height="32.2" fill="#50a800"/><rect x="565.7" y="232.0" width="13.8" height="30.6" fill="#50a800"/><rect x="565.7" y="262.2" width="13.8" height="32.2" fill="#cce600"/><rect x="565.7" y="293.9" width="13.8" height="30.1" fill="#64b200"/><rect x="565.7" y="323.5" width="13.8" height="28.0" fill="#64b200"/><rect x="565.7" y="351.0" width="13.8" height="29.6" fill="#64b200"/><rect x="565.7" y="380.1" width="13.8" height="25.4" fill="#ff6e00"/><rect x="565.7" y="405.0" width="13.8" height="26.9" fill="#ffff00"/><rect x="579.0" y="167.0" width="14.5" height="33.8" fill="#329900"/><rect x="579.0" y="200.3" width="14.5" height="32.2" fill="#ffff00"/><rect x="579.0" y="232.0" width="14.5" height="30.6" fill="#ffff00"/><rect x="579.0" y="262.2" width="14.5" height="32.2" fill="#ffcc00"/><rect x="579.0" y="293.9" width="14.5" height="30.1" fill="#ffff00"/><rect x="579.0" y="323.5" width="14.5" height="28.0" fill="#50a800"/><rect x="579.0" y="351.0" width="14.5" height="29.6" fill="#50a800"/><rect x="579.0" y="380.1" width="14.5" height="25.4" fill="#ffff00"/><rect x="579.0" y="405.0" width="14.5" height="26.9" fill="#64b200"/><rect x="593.0" y="164.7" width="14.7" height="34.0" fill="#64b200"/><rect x="593.0" y="198.2" width="14.7" height="32.4" fill="#cce600"/><rect x="593.0" y="230.2" width="14.7" height="30.8" fill="#50a800"/><rect x="593.0" y="260.5" width="14.7" height="32.4" fill="#329900"/><rect x="593.0" y="292.5" width="14.7" height="30.3" fill="#50a800"/><rect x="593.0" y="322.3" width="14.7" height="28.2" fill="#ffcc00"/><rect x="593.0" y="350.0" width="14.7" height="29.8" fill="#ffcc00"/><rect x="593.0" y="379.3" width="14.7" height="25.5" fill="#008000"/><rect x="593.0" y="404.3" width="14.7" height="27.1" fill="#329900"/><rect x="607.2" y="161.8" width="11.8" height="34.4" fill="#ffcc00"/><rect x="607.2" y="195.7" width="11.8" height="32.8" fill="#cce600"/><rect x="607.2" y="228.0" width="11.8" height="31.2" fill="#50a800"/><rect x="607.2" y="258.7" width="11.8" height="32.8" fill="#329900"/><rect x="607.2" y="291.0" width="11.8" height="30.6" fill="#008000"/><rect x="607.2" y="321.1" width="11.8" height="28.5" fill="#ffcc00"/><rect x="607.2" y="349.1" width="11.8" height="30.1" fill="#64b200"/><rect x="607.2" y="378.7" width="11.8" height="25.8" fill="#329900"/><rect x="607.2" y="404.0" width="11.8" height="27.4" fill="#96cc00"/><rect x="618.5" y="159.0" width="13.1" height="34.8" fill="#329900"/><rect x="618.5" y="193.3" width="13.1" height="33.1" fill="#50a800"/><rect x="618.5" y="225.9" width="13.1" height="31.5" fill="#50a800"/><rect x="618.5" y="256.9" width="13.1" height="33.1" fill="#96cc00"/><rect x="618.5" y="289.5" width="13.1" height="31.0" fill="#ff6e00"/><rect x="618.5" y="320.0" width="13.1" height="28.8" fill="#64b200"/><rect x="618.5" y="348.2" width="13.1" height="30.4" fill="#ffff00"/><rect x="618.5" y="378.2" width="13.1" height="26.1" fill="#329900"/><rect x="618.5" y="403.7" width="13.1" height="27.7" fill="#96cc00"/><rect x="631.1" y="159.0" width="14.5" height="34.8" fill="#329900"/><rect x="631.1" y="193.3" width="14.5" height="33.1" fill="#50a800"/><rect x="631.1" y="225.9" width="14.5" height="31.5" fill="#96cc00"/><rect x="631.1" y="256.9" width="14.5" height="33.1" fill="#cce600"/><rect x="631.1" y="289.5" width="14.5" height="31.0" fill="#ffff00"/><rect x="631.1" y="320.0" width="14.5" height="28.8" fill="#ffcc00"/><rect x="631.1" y="348.2" width="14.5" height="30.4" fill="#ffff00"/><rect x="631.1" y="378.2" width="14.5" height="26.1" fill="#ffcc00"/><rect x="631.1" y="403.7" width="14.5" height="27.7" fill="#ffcc00"/><rect x="645.1" y="155.5" width="11.8" height="35.2" fill="#ffff00"/><rect x="645.1" y="190.2" width="11.8" height="33.5" fill="#008000"/><rect x="645.1" y="223.2" width="11.8" height="31.9" fill="#96cc00"/><rect x="645.1" y="254.6" width="11.8" height="33.5" fill="#cce600"/><rect x="645.1" y="287.7" width="11.8" height="31.3" fill="#329900"/><rect x="645.1" y="318.5" width="11.8" height="29.1" fill="#ffff00"/><rect x="645.1" y="347.2" width="11.8" height="30.8" fill="#50a800"/><rect x="645.1" y="377.5" width="11.8" height="26.4" fill="#50a800"/><rect x="645.1" y="403.4" width="11.8" height="28.0" fill="#ff6e00"/><rect x="656.4" y="155.5" width="15.9" height="35.0" fill="#329900"/><rect x="656.4" y="190.0" width="15.9" height="33.4" fill="#329900"/><rect x="656.4" y="222.9" width="15.9" height="31.7" fill="#ffcc00"/><rect x="656.4" y="254.1" width="15.9" height="33.4" fill="#cce600"/><rect x="656.4" y="287.0" width="15.9" height="31.2" fill="#cce600"/><rect x="656.4" y="317.7" width="15.9" height="29.0" fill="#ffcc00"/><rect x="656.4" y="346.2" width="15.9" height="30.6" fill="#64b200"/><rect x="656.4" y="376.3" width="15.9" height="26.3" fill="#50a800"/><rect x="656.4" y="402.1" width="15.9" height="27.9" fill="#329900"/><rect x="671.8" y="157.0" width="18.7" height="34.8" fill="#cce600"/><rect x="671.8" y="191.3" width="18.7" height="33.2" fill="#64b200"/><rect x="671.8" y="224.0" width="18.7" height="31.6" fill="#ffcc00"/><rect x="671.8" y="255.1" width="18.7" height="33.2" fill="#ffff00"/><rect x="671.8" y="287.8" width="18.7" height="31.0" fill="#ffff00"/><rect x="671.8" y="318.3" width="18.7" height="28.8" fill="#50a800"/><rect x="671.8" y="346.7" width="18.7" height="30.5" fill="#cce600"/><rect x="671.8" y="376.6" width="18.7" height="26.1" fill="#329900"/><rect x="671.8" y="402.2" width="18.7" height="27.8" fill="#cce600"/><rect x="690.0" y="158.3" width="16.0" height="34.2" fill="#ffff00"/><rect x="690.0" y="192.0" width="16.0" height="32.6" fill="#ffff00"/><rect x="690.0" y="224.2" width="16.0" height="31.0" fill="#008000"/><rect x="690.0" y="254.7" width="16.0" height="32.6" fill="#ffff00"/><rect x="690.0" y="286.8" width="16.0" height="30.5" fill="#cce600"/><rect x="690.0" y="316.8" width="16.0" height="28.3" fill="#cce600"/><rect x="690.0" y="344.6" width="16.0" height="29.9" fill="#329900"/><rect x="690.0" y="374.1" width="16.0" height="25.7" fill="#50a800"/><rect x="690.0" y="399.2" width="16.0" height="27.3" fill="#64b200"/><rect x="705.5" y="161.5" width="13.1" height="33.8" fill="#96cc00"/><rect x="705.5" y="194.8" width="13.1" height="32.2" fill="#ffff00"/><rect x="705.5" y="226.6" width="13.1" height="30.7" fill="#cce600"/><rect x="705.5" y="256.7" width="13.1" height="32.2" fill="#ffff00"/><rect x="705.5" y="288.5" width="13.1" height="30.1" fill="#ffff00"/><rect x="705.5" y="318.1" width="13.1" height="28.0" fill="#64b200"/><rect x="705.5" y="345.6" width="13.1" height="29.6" fill="#96cc00"/><rect x="705.5" y="374.7" width="13.1" height="25.4" fill="#ffff00"/><rect x="705.5" y="399.5" width="13.1" height="27.0" fill="#cce600"/><rect x="718.1" y="161.5" width="17.4" height="33.5" fill="#50a800"/><rect x="718.1" y="194.5" width="17.4" height="31.9" fill="#96cc00"/><rect x="718.1" y="225.9" width="17.4" height="30.4" fill="#50a800"/><rect x="718.1" y="255.8" width="17.4" height="31.9" fill="#96cc00"/><rect x="718.1" y="287.2" width="17.4" height="29.8" fill="#329900"/><rect x="718.1" y="316.5" width="17.4" height="27.7" fill="#ffff00"/><rect x="718.1" y="343.8" width="17.4" height="29.3" fill="#ffff00"/><rect x="718.1" y="372.6" width="17.4" height="25.1" fill="#50a800"/><rect x="718.1" y="397.2" width="17.4" height="26.7" fill="#008000"/><rect x="735.0" y="162.5" width="8.5" height="33.0" fill="#cce600"/><rect x="735.0" y="195.0" width="8.5" height="31.5" fill="#96cc00"/><rect x="735.0" y="226.0" width="8.5" height="29.9" fill="#64b200"/><rect x="735.0" y="255.5" width="8.5" height="31.5" fill="#96cc00"/><rect x="735.0" y="286.5" width="8.5" height="29.4" fill="#cce600"/><rect x="735.0" y="315.4" width="8.5" height="27.4" fill="#50a800"/><rect x="735.0" y="342.3" width="8.5" height="28.9" fill="#50a800"/><rect x="735.0" y="370.7" width="8.5" height="24.8" fill="#64b200"/><rect x="735.0" y="395.0" width="8.5" height="26.3" fill="#64b200"/><rect x="743.0" y="166.0" width="8.5" height="32.6" fill="#50a800"/><rect x="743.0" y="198.1" width="8.5" height="31.1" fill="#cce600"/><rect x="743.0" y="228.7" width="8.5" height="29.5" fill="#96cc00"/><rect x="743.0" y="257.7" width="8.5" height="31.1" fill="#329900"/><rect x="743.0" y="288.3" width="8.5" height="29.0" fill="#329900"/><rect x="743.0" y="316.8" width="8.5" height="27.0" fill="#96cc00"/><rect x="743.0" y="343.3" width="8.5" height="28.5" fill="#96cc00"/><rect x="743.0" y="371.4" width="8.5" height="24.5" fill="#ffff00"/><rect x="743.0" y="395.3" width="8.5" height="26.0" fill="#96cc00"/><rect x="751.0" y="166.0" width="12.5" height="32.6" fill="#64b200"/><rect x="751.0" y="198.1" width="12.5" height="31.1" fill="#64b200"/><rect x="751.0" y="228.7" width="12.5" height="29.5" fill="#329900"/><rect x="751.0" y="257.7" width="12.5" height="31.1" fill="#cce600"/><rect x="751.0" y="288.3" width="12.5" height="29.0" fill="#64b200"/><rect x="751.0" y="316.8" width="12.5" height="27.0" fill="#008000"/><rect x="751.0" y="343.3" width="12.5" height="28.5" fill="#329900"/><rect x="751.0" y="371.4" width="12.5" height="24.5" fill="#329900"/><rect x="751.0" y="395.3" width="12.5" height="26.0" fill="#96cc00"/><rect x="763.0" y="168.5" width="9.0" height="32.3" fill="#64b200"/><rect x="763.0" y="200.3" width="9.0" height="30.8" fill="#cce600"/><rect x="763.0" y="230.6" width="9.0" height="29.3" fill="#96cc00"/><rect x="763.0" y="259.3" width="9.0" height="30.8" fill="#96cc00"/><rect x="763.0" y="289.6" width="9.0" height="28.8" fill="#64b200"/><rect x="763.0" y="317.9" width="9.0" height="26.7" fill="#008000"/><rect x="763.0" y="344.1" width="9.0" height="28.3" fill="#329900"/><rect x="763.0" y="371.9" width="9.0" height="24.2" fill="#329900"/><rect x="763.0" y="395.6" width="9.0" height="25.7" fill="#96cc00"/><rect x="771.5" y="168.5" width="9.0" height="31.8" fill="#96cc00"/><rect x="771.5" y="199.8" width="9.0" height="30.3" fill="#50a800"/><rect x="771.5" y="229.6" width="9.0" height="28.8" fill="#329900"/><rect x="771.5" y="257.9" width="9.0" height="30.3" fill="#96cc00"/><rect x="771.5" y="287.7" width="9.0" height="28.3" fill="#64b200"/><rect x="771.5" y="315.5" width="9.0" height="26.3" fill="#cce600"/><rect x="771.5" y="341.3" width="9.0" height="27.8" fill="#329900"/><rect x="771.5" y="368.6" width="9.0" height="23.8" fill="#64b200"/><rect x="771.5" y="392.0" width="9.0" height="25.3" fill="#329900"/><rect x="780.0" y="168.5" width="12.0" height="31.1" fill="#64b200"/><rect x="780.0" y="199.1" width="12.0" height="29.7" fill="#64b200"/><rect x="780.0" y="228.3" width="12.0" height="28.2" fill="#96cc00"/><rect x="780.0" y="256.0" width="12.0" height="29.7" fill="#329900"/><rect x="780.0" y="285.2" width="12.0" height="27.7" fill="#64b200"/><rect x="780.0" y="312.4" width="12.0" height="25.8" fill="#329900"/><rect x="780.0" y="337.7" width="12.0" height="27.2" fill="#329900"/><rect x="780.0" y="364.4" width="12.0" height="23.4" fill="#64b200"/><rect x="780.0" y="387.3" width="12.0" height="24.8" fill="#96cc00"/><rect x="791.5" y="168.5" width="13.0" height="31.1" fill="#cce600"/><rect x="791.5" y="199.1" width="13.0" height="29.7" fill="#329900"/><rect x="791.5" y="228.3" width="13.0" height="28.2" fill="#64b200"/><rect x="791.5" y="256.0" width="13.0" height="29.7" fill="#96cc00"/><rect x="791.5" y="285.2" width="13.0" height="27.7" fill="#64b200"/><rect x="791.5" y="312.4" width="13.0" height="25.8" fill="#329900"/><rect x="791.5" y="337.7" width="13.0" height="27.2" fill="#329900"/><rect x="791.5" y="364.4" width="13.0" height="23.4" fill="#50a800"/><rect x="791.5" y="387.3" width="13.0" height="24.8" fill="#96cc00"/><rect x="804.0" y="170.0" width="8.0" height="30.9" fill="#329900"/><rect x="804.0" y="200.4" width="8.0" height="29.5" fill="#64b200"/><rect x="804.0" y="229.4" width="8.0" height="28.0" fill="#96cc00"/><rect x="804.0" y="257.0" width="8.0" height="29.5" fill="#cce600"/><rect x="804.0" y="286.0" width="8.0" height="27.6" fill="#96cc00"/><rect x="804.0" y="313.0" width="8.0" height="25.6" fill="#50a800"/><rect x="804.0" y="338.2" width="8.0" height="27.1" fill="#96cc00"/><rect x="804.0" y="364.7" width="8.0" height="23.2" fill="#96cc00"/><rect x="804.0" y="387.4" width="8.0" height="24.7" fill="#008000"/>
<rect x="77" y="306" width="17" height="29" fill="#8a97a8" stroke="#e02020" stroke-width="2.5"/></svg>
<div class="abs" style="left:1000px;top:384px;width:815px;height:2.5px;background:#d8d8d8"></div>
<div class="abs" style="left:1000px;top:385px;width:2.5px;height:589px;background:#a8a8a8"></div>
<div class="abs" style="left:1813px;top:385px;width:2.5px;height:589px;background:#b4b4b4"></div>
<div class="abs" style="left:991px;top:960px;width:825px;height:2.5px;background:#a8a8a8"></div>
<div class="abs" style="left:984px;top:665.5px;width:17px;height:2px;background:#c0c0c0"></div>
<div class="abs" style="left:1191px;top:961px;width:2px;height:12px;background:#b0b0b0"></div>
<div class="abs" style="left:1378px;top:961px;width:2px;height:12px;background:#b0b0b0"></div>
<div class="abs" style="left:1568px;top:961px;width:2px;height:12px;background:#b0b0b0"></div>
<div class="tick" style="left:887px;width:100px;text-align:right;top:385px">0</div>
<div class="tick" style="left:885px;width:100px;text-align:right;top:652px">1,000</div>
<div class="tick" style="left:884px;width:100px;text-align:right;top:935px">2,048</div>
<div class="tick" style="left:1000px;top:991px">0</div>
<div class="tick" style="left:1140px;width:100px;text-align:center;top:991px">2,000</div>
<div class="tick" style="left:1329.5px;width:100px;text-align:center;top:991px">4,000</div>
<div class="tick" style="left:1519px;width:100px;text-align:center;top:991px">6,000</div>
<div class="tick" style="left:1712.5px;width:100px;text-align:right;top:991px">8,598</div>
<div class="abs" style="left:1338px;top:1019px;font-size:22.6px;color:#7a7a7a;line-height:1">Planes length</div>
<div class="abs" style="left:833px;top:661px;width:138px;text-align:center;font-size:22.6px;color:#7a7a7a;line-height:1;transform:rotate(-90deg);transform-origin:69px 11px;left:832px">Planes height</div>
<div class="abs" style="left:1816px;top:389px;width:26px;height:568px;background:#f0f0f0"></div>
<div class="abs" style="left:1000px;top:1046px;width:812px;height:30px;background:#f0f0f0"></div>
<svg class="abs" style="left:0;top:0" width="1849" height="1140" viewBox="0 0 1849 1140" fill="none" stroke="#8a8a8a" stroke-width="1.6" stroke-linecap="round" stroke-linejoin="round">
<path d="M1822 404L1828 397L1834 404"/><path d="M1822 940L1828 947L1834 940"/>
<path d="M1017 1055L1011 1062L1017 1069"/><path d="M1795 1055L1801 1062L1795 1069"/></svg>
</div></body></html>
